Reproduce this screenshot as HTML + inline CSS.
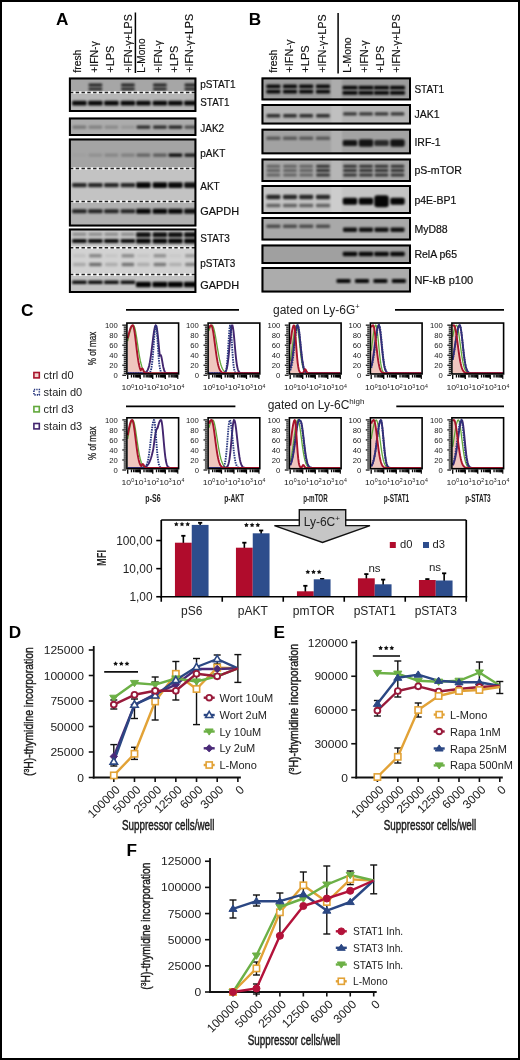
<!DOCTYPE html>
<html><head><meta charset="utf-8"><style>
html,body{margin:0;padding:0;background:#fff;width:520px;height:1060px;overflow:hidden}
svg{display:block;will-change:transform}
text{font-family:"Liberation Sans", sans-serif}
</style></head><body>
<svg width="520" height="1060" viewBox="0 0 520 1060">
<defs><clipPath id="cA"><rect x="69" y="70" width="126" height="230"/></clipPath><clipPath id="cB"><rect x="262" y="70" width="148.5" height="230"/></clipPath><filter id="bl" x="-50%" y="-100%" width="200%" height="300%"><feGaussianBlur stdDeviation="0.85"/></filter>
<filter id="bl2" x="-50%" y="-100%" width="200%" height="300%"><feGaussianBlur stdDeviation="1.2"/></filter></defs>
<rect width="520" height="1060" fill="#fff"/>
<rect x="1.00" y="1.00" width="518.00" height="1058.00" fill="none" stroke="#000" stroke-width="2" />
<text x="56.00" y="25.40" font-size="17.2" text-anchor="start" font-weight="bold" fill="#000" >A</text>
<text x="248.80" y="25.40" font-size="17.2" text-anchor="start" font-weight="bold" fill="#000" >B</text>
<text x="21.00" y="316.20" font-size="17.2" text-anchor="start" font-weight="bold" fill="#000" >C</text>
<text x="8.80" y="637.90" font-size="17.2" text-anchor="start" font-weight="bold" fill="#000" >D</text>
<text x="273.40" y="638.00" font-size="17.2" text-anchor="start" font-weight="bold" fill="#000" >E</text>
<text x="126.50" y="855.70" font-size="17.2" text-anchor="start" font-weight="bold" fill="#000" >F</text>
<text x="81.20" y="72.70" font-size="10.5" text-anchor="start" fill="#111" textLength="23.10" lengthAdjust="spacingAndGlyphs" transform="rotate(-90 81.20 72.70)" stroke="#111" stroke-width="0.15">fresh</text>
<text x="98.10" y="72.70" font-size="10.5" text-anchor="start" fill="#111" textLength="31.50" lengthAdjust="spacingAndGlyphs" transform="rotate(-90 98.10 72.70)" stroke="#111" stroke-width="0.15">+IFN-&#947;</text>
<text x="114.20" y="72.70" font-size="10.5" text-anchor="start" fill="#111" textLength="26.90" lengthAdjust="spacingAndGlyphs" transform="rotate(-90 114.20 72.70)" stroke="#111" stroke-width="0.15">+LPS</text>
<text x="131.60" y="72.70" font-size="10.5" text-anchor="start" fill="#111" textLength="58.50" lengthAdjust="spacingAndGlyphs" transform="rotate(-90 131.60 72.70)" stroke="#111" stroke-width="0.15">+IFN-&#947;+LPS</text>
<text x="144.80" y="72.70" font-size="10.5" text-anchor="start" fill="#111" textLength="34.30" lengthAdjust="spacingAndGlyphs" transform="rotate(-90 144.80 72.70)" stroke="#111" stroke-width="0.15">L-Mono</text>
<text x="161.60" y="72.70" font-size="10.5" text-anchor="start" fill="#111" textLength="32.20" lengthAdjust="spacingAndGlyphs" transform="rotate(-90 161.60 72.70)" stroke="#111" stroke-width="0.15">+IFN-&#947;</text>
<text x="177.80" y="72.70" font-size="10.5" text-anchor="start" fill="#111" textLength="27.10" lengthAdjust="spacingAndGlyphs" transform="rotate(-90 177.80 72.70)" stroke="#111" stroke-width="0.15">+LPS</text>
<text x="193.30" y="72.70" font-size="10.5" text-anchor="start" fill="#111" textLength="58.80" lengthAdjust="spacingAndGlyphs" transform="rotate(-90 193.30 72.70)" stroke="#111" stroke-width="0.15">+IFN-&#947;+LPS</text>
<line x1="135.40" y1="12.50" x2="135.40" y2="73.00" stroke="#000" stroke-width="1.5" />
<text x="276.90" y="72.70" font-size="10.5" text-anchor="start" fill="#111" textLength="23.10" lengthAdjust="spacingAndGlyphs" transform="rotate(-90 276.90 72.70)" stroke="#111" stroke-width="0.15">fresh</text>
<text x="293.50" y="72.70" font-size="10.5" text-anchor="start" fill="#111" textLength="33.10" lengthAdjust="spacingAndGlyphs" transform="rotate(-90 293.50 72.70)" stroke="#111" stroke-width="0.15">+IFN-&#947;</text>
<text x="308.90" y="72.70" font-size="10.5" text-anchor="start" fill="#111" textLength="27.40" lengthAdjust="spacingAndGlyphs" transform="rotate(-90 308.90 72.70)" stroke="#111" stroke-width="0.15">+LPS</text>
<text x="325.80" y="72.70" font-size="10.5" text-anchor="start" fill="#111" textLength="58.20" lengthAdjust="spacingAndGlyphs" transform="rotate(-90 325.80 72.70)" stroke="#111" stroke-width="0.15">+IFN-&#947;+LPS</text>
<text x="351.20" y="72.70" font-size="10.5" text-anchor="start" fill="#111" textLength="35.40" lengthAdjust="spacingAndGlyphs" transform="rotate(-90 351.20 72.70)" stroke="#111" stroke-width="0.15">L-Mono</text>
<text x="367.60" y="72.70" font-size="10.5" text-anchor="start" fill="#111" textLength="32.20" lengthAdjust="spacingAndGlyphs" transform="rotate(-90 367.60 72.70)" stroke="#111" stroke-width="0.15">+IFN-&#947;</text>
<text x="383.90" y="72.70" font-size="10.5" text-anchor="start" fill="#111" textLength="27.10" lengthAdjust="spacingAndGlyphs" transform="rotate(-90 383.90 72.70)" stroke="#111" stroke-width="0.15">+LPS</text>
<text x="400.40" y="72.70" font-size="10.5" text-anchor="start" fill="#111" textLength="58.50" lengthAdjust="spacingAndGlyphs" transform="rotate(-90 400.40 72.70)" stroke="#111" stroke-width="0.15">+IFN-&#947;+LPS</text>
<line x1="338.10" y1="13.00" x2="338.10" y2="73.50" stroke="#000" stroke-width="1.5" />
<g transform="translate(0.4,0.5)">
<rect x="68.50" y="77.00" width="127.50" height="15.00" fill="#a6a6a6" stroke="none" stroke-width="1" />
<rect x="68.50" y="92.00" width="127.50" height="19.00" fill="#b6b6b6" stroke="none" stroke-width="1" />
<rect clip-path="url(#cA)"  x="71.75" y="100.20" width="14.50" height="4.80" rx="1.20" fill="#000" fill-opacity="0.95" filter="url(#bl)"/>
<rect clip-path="url(#cA)"  x="88.25" y="83.10" width="13.50" height="3.00" rx="0.75" fill="#000" fill-opacity="0.80" filter="url(#bl)"/>
<rect clip-path="url(#cA)"  x="88.25" y="86.90" width="13.50" height="3.00" rx="0.75" fill="#000" fill-opacity="0.75" filter="url(#bl)"/>
<rect clip-path="url(#cA)"  x="87.75" y="100.20" width="14.50" height="4.80" rx="1.20" fill="#000" fill-opacity="0.95" filter="url(#bl)"/>
<rect clip-path="url(#cA)"  x="103.75" y="100.20" width="14.50" height="4.80" rx="1.20" fill="#000" fill-opacity="0.95" filter="url(#bl)"/>
<rect clip-path="url(#cA)"  x="120.75" y="83.10" width="13.50" height="3.00" rx="0.75" fill="#000" fill-opacity="0.80" filter="url(#bl)"/>
<rect clip-path="url(#cA)"  x="120.75" y="86.90" width="13.50" height="3.00" rx="0.75" fill="#000" fill-opacity="0.75" filter="url(#bl)"/>
<rect clip-path="url(#cA)"  x="120.25" y="100.20" width="14.50" height="4.80" rx="1.20" fill="#000" fill-opacity="0.95" filter="url(#bl)"/>
<rect clip-path="url(#cA)"  x="135.75" y="100.20" width="14.50" height="4.80" rx="1.20" fill="#000" fill-opacity="0.95" filter="url(#bl)"/>
<rect clip-path="url(#cA)"  x="152.75" y="83.10" width="13.50" height="3.00" rx="0.75" fill="#000" fill-opacity="0.80" filter="url(#bl)"/>
<rect clip-path="url(#cA)"  x="152.75" y="86.90" width="13.50" height="3.00" rx="0.75" fill="#000" fill-opacity="0.75" filter="url(#bl)"/>
<rect clip-path="url(#cA)"  x="152.25" y="100.20" width="14.50" height="4.80" rx="1.20" fill="#000" fill-opacity="0.95" filter="url(#bl)"/>
<rect clip-path="url(#cA)"  x="167.75" y="100.20" width="14.50" height="4.80" rx="1.20" fill="#000" fill-opacity="0.95" filter="url(#bl)"/>
<rect clip-path="url(#cA)"  x="184.25" y="83.10" width="13.50" height="3.00" rx="0.75" fill="#000" fill-opacity="0.80" filter="url(#bl)"/>
<rect clip-path="url(#cA)"  x="184.25" y="86.90" width="13.50" height="3.00" rx="0.75" fill="#000" fill-opacity="0.75" filter="url(#bl)"/>
<rect clip-path="url(#cA)"  x="183.75" y="100.20" width="14.50" height="4.80" rx="1.20" fill="#000" fill-opacity="0.95" filter="url(#bl)"/>
<line x1="68.50" y1="92.00" x2="196.00" y2="92.00" stroke="#f4f4f4" stroke-width="2.6" />
<line x1="69.50" y1="92.00" x2="196.00" y2="92.00" stroke="#222" stroke-width="1.5" stroke-dasharray="3.4 2.4"/>
<rect x="69.50" y="78.00" width="125.50" height="32.50" fill="none" stroke="#000" stroke-width="2" />
<rect x="68.50" y="117.00" width="127.50" height="18.50" fill="#acacac" stroke="none" stroke-width="1" />
<rect clip-path="url(#cA)"  x="72.25" y="125.00" width="13.50" height="3.20" rx="0.80" fill="#000" fill-opacity="0.30" filter="url(#bl2)"/>
<rect clip-path="url(#cA)"  x="88.25" y="125.00" width="13.50" height="3.20" rx="0.80" fill="#000" fill-opacity="0.25" filter="url(#bl2)"/>
<rect clip-path="url(#cA)"  x="104.25" y="125.00" width="13.50" height="3.20" rx="0.80" fill="#000" fill-opacity="0.20" filter="url(#bl2)"/>
<rect clip-path="url(#cA)"  x="120.75" y="125.00" width="13.50" height="3.20" rx="0.80" fill="#000" fill-opacity="0.12" filter="url(#bl2)"/>
<rect clip-path="url(#cA)"  x="136.25" y="125.00" width="13.50" height="3.20" rx="0.80" fill="#000" fill-opacity="0.75" filter="url(#bl)"/>
<rect clip-path="url(#cA)"  x="152.75" y="125.00" width="13.50" height="3.20" rx="0.80" fill="#000" fill-opacity="0.75" filter="url(#bl)"/>
<rect clip-path="url(#cA)"  x="168.25" y="125.00" width="13.50" height="3.20" rx="0.80" fill="#000" fill-opacity="0.80" filter="url(#bl)"/>
<rect clip-path="url(#cA)"  x="184.25" y="125.00" width="13.50" height="3.20" rx="0.80" fill="#000" fill-opacity="0.55" filter="url(#bl)"/>
<rect x="69.50" y="118.00" width="125.50" height="16.50" fill="none" stroke="#000" stroke-width="2" />
<rect x="68.50" y="138.00" width="127.50" height="30.00" fill="#a4a4a4" stroke="none" stroke-width="1" />
<rect x="68.50" y="168.00" width="127.50" height="33.00" fill="#c3c3c3" stroke="none" stroke-width="1" />
<rect x="68.50" y="201.00" width="127.50" height="25.00" fill="#b1b1b1" stroke="none" stroke-width="1" />
<rect clip-path="url(#cA)"  x="72.25" y="153.00" width="13.50" height="3.20" rx="0.80" fill="#000" fill-opacity="0.03" filter="url(#bl2)"/>
<rect clip-path="url(#cA)"  x="71.75" y="182.40" width="14.50" height="4.40" rx="1.10" fill="#000" fill-opacity="0.80" filter="url(#bl)"/>
<rect clip-path="url(#cA)"  x="71.75" y="208.80" width="14.50" height="4.00" rx="1.00" fill="#000" fill-opacity="0.80" filter="url(#bl)"/>
<rect clip-path="url(#cA)"  x="88.25" y="153.00" width="13.50" height="3.20" rx="0.80" fill="#000" fill-opacity="0.12" filter="url(#bl2)"/>
<rect clip-path="url(#cA)"  x="87.75" y="182.40" width="14.50" height="4.40" rx="1.10" fill="#000" fill-opacity="0.80" filter="url(#bl)"/>
<rect clip-path="url(#cA)"  x="87.75" y="208.80" width="14.50" height="4.00" rx="1.00" fill="#000" fill-opacity="0.80" filter="url(#bl)"/>
<rect clip-path="url(#cA)"  x="104.25" y="153.00" width="13.50" height="3.20" rx="0.80" fill="#000" fill-opacity="0.18" filter="url(#bl2)"/>
<rect clip-path="url(#cA)"  x="103.75" y="182.40" width="14.50" height="4.40" rx="1.10" fill="#000" fill-opacity="0.80" filter="url(#bl)"/>
<rect clip-path="url(#cA)"  x="103.75" y="208.80" width="14.50" height="4.00" rx="1.00" fill="#000" fill-opacity="0.80" filter="url(#bl)"/>
<rect clip-path="url(#cA)"  x="120.75" y="153.00" width="13.50" height="3.20" rx="0.80" fill="#000" fill-opacity="0.22" filter="url(#bl2)"/>
<rect clip-path="url(#cA)"  x="120.25" y="182.40" width="14.50" height="4.40" rx="1.10" fill="#000" fill-opacity="0.80" filter="url(#bl)"/>
<rect clip-path="url(#cA)"  x="120.25" y="208.80" width="14.50" height="4.00" rx="1.00" fill="#000" fill-opacity="0.80" filter="url(#bl)"/>
<rect clip-path="url(#cA)"  x="136.25" y="153.00" width="13.50" height="3.20" rx="0.80" fill="#000" fill-opacity="0.40" filter="url(#bl2)"/>
<rect clip-path="url(#cA)"  x="135.75" y="181.80" width="14.50" height="5.60" rx="1.40" fill="#000" fill-opacity="0.97" filter="url(#bl)"/>
<rect clip-path="url(#cA)"  x="135.75" y="208.30" width="14.50" height="5.00" rx="1.25" fill="#000" fill-opacity="0.97" filter="url(#bl)"/>
<rect clip-path="url(#cA)"  x="152.75" y="153.00" width="13.50" height="3.20" rx="0.80" fill="#000" fill-opacity="0.45" filter="url(#bl2)"/>
<rect clip-path="url(#cA)"  x="152.25" y="181.80" width="14.50" height="5.60" rx="1.40" fill="#000" fill-opacity="0.97" filter="url(#bl)"/>
<rect clip-path="url(#cA)"  x="152.25" y="208.30" width="14.50" height="5.00" rx="1.25" fill="#000" fill-opacity="0.97" filter="url(#bl)"/>
<rect clip-path="url(#cA)"  x="168.25" y="153.00" width="13.50" height="3.20" rx="0.80" fill="#000" fill-opacity="0.95" filter="url(#bl)"/>
<rect clip-path="url(#cA)"  x="167.75" y="181.80" width="14.50" height="5.60" rx="1.40" fill="#000" fill-opacity="0.95" filter="url(#bl)"/>
<rect clip-path="url(#cA)"  x="167.75" y="208.30" width="14.50" height="5.00" rx="1.25" fill="#000" fill-opacity="0.95" filter="url(#bl)"/>
<rect clip-path="url(#cA)"  x="184.25" y="153.00" width="13.50" height="3.20" rx="0.80" fill="#000" fill-opacity="0.85" filter="url(#bl)"/>
<rect clip-path="url(#cA)"  x="183.75" y="181.80" width="14.50" height="5.60" rx="1.40" fill="#000" fill-opacity="0.90" filter="url(#bl)"/>
<rect clip-path="url(#cA)"  x="183.75" y="208.30" width="14.50" height="5.00" rx="1.25" fill="#000" fill-opacity="0.90" filter="url(#bl)"/>
<line x1="68.50" y1="168.00" x2="196.00" y2="168.00" stroke="#f4f4f4" stroke-width="2.6" />
<line x1="69.50" y1="168.00" x2="196.00" y2="168.00" stroke="#222" stroke-width="1.5" stroke-dasharray="3.4 2.4"/>
<line x1="68.50" y1="201.00" x2="196.00" y2="201.00" stroke="#f4f4f4" stroke-width="2.6" />
<line x1="69.50" y1="201.00" x2="196.00" y2="201.00" stroke="#222" stroke-width="1.5" stroke-dasharray="3.4 2.4"/>
<rect x="69.50" y="139.00" width="125.50" height="86.00" fill="none" stroke="#000" stroke-width="2" />
<rect x="68.50" y="228.00" width="127.50" height="19.00" fill="#c6c6c6" stroke="none" stroke-width="1" />
<rect x="68.50" y="247.00" width="127.50" height="27.00" fill="#d2d2d2" stroke="none" stroke-width="1" />
<rect x="68.50" y="274.00" width="127.50" height="18.50" fill="#c3c3c3" stroke="none" stroke-width="1" />
<rect clip-path="url(#cA)"  x="72.25" y="232.30" width="13.50" height="3.00" rx="0.75" fill="#000" fill-opacity="0.30" filter="url(#bl2)"/>
<rect clip-path="url(#cA)"  x="71.75" y="238.40" width="14.50" height="4.00" rx="1.00" fill="#000" fill-opacity="0.92" filter="url(#bl)"/>
<rect clip-path="url(#cA)"  x="72.75" y="253.55" width="12.50" height="3.50" rx="0.88" fill="#000" fill-opacity="0.08" filter="url(#bl2)"/>
<rect clip-path="url(#cA)"  x="72.75" y="262.25" width="12.50" height="3.50" rx="0.88" fill="#000" fill-opacity="0.20" filter="url(#bl2)"/>
<rect clip-path="url(#cA)"  x="71.75" y="280.00" width="14.50" height="3.60" rx="0.90" fill="#000" fill-opacity="0.92" filter="url(#bl)"/>
<rect clip-path="url(#cA)"  x="88.25" y="232.30" width="13.50" height="3.00" rx="0.75" fill="#000" fill-opacity="0.30" filter="url(#bl2)"/>
<rect clip-path="url(#cA)"  x="87.75" y="238.40" width="14.50" height="4.00" rx="1.00" fill="#000" fill-opacity="0.92" filter="url(#bl)"/>
<rect clip-path="url(#cA)"  x="88.75" y="253.55" width="12.50" height="3.50" rx="0.88" fill="#000" fill-opacity="0.35" filter="url(#bl2)"/>
<rect clip-path="url(#cA)"  x="88.75" y="262.25" width="12.50" height="3.50" rx="0.88" fill="#000" fill-opacity="0.47" filter="url(#bl2)"/>
<rect clip-path="url(#cA)"  x="87.75" y="280.00" width="14.50" height="3.60" rx="0.90" fill="#000" fill-opacity="0.92" filter="url(#bl)"/>
<rect clip-path="url(#cA)"  x="104.25" y="232.30" width="13.50" height="3.00" rx="0.75" fill="#000" fill-opacity="0.30" filter="url(#bl2)"/>
<rect clip-path="url(#cA)"  x="103.75" y="238.40" width="14.50" height="4.00" rx="1.00" fill="#000" fill-opacity="0.92" filter="url(#bl)"/>
<rect clip-path="url(#cA)"  x="104.75" y="253.55" width="12.50" height="3.50" rx="0.88" fill="#000" fill-opacity="0.06" filter="url(#bl2)"/>
<rect clip-path="url(#cA)"  x="104.75" y="262.25" width="12.50" height="3.50" rx="0.88" fill="#000" fill-opacity="0.18" filter="url(#bl2)"/>
<rect clip-path="url(#cA)"  x="103.75" y="280.00" width="14.50" height="3.60" rx="0.90" fill="#000" fill-opacity="0.92" filter="url(#bl)"/>
<rect clip-path="url(#cA)"  x="120.75" y="232.30" width="13.50" height="3.00" rx="0.75" fill="#000" fill-opacity="0.30" filter="url(#bl2)"/>
<rect clip-path="url(#cA)"  x="120.25" y="238.40" width="14.50" height="4.00" rx="1.00" fill="#000" fill-opacity="0.92" filter="url(#bl)"/>
<rect clip-path="url(#cA)"  x="121.25" y="253.55" width="12.50" height="3.50" rx="0.88" fill="#000" fill-opacity="0.32" filter="url(#bl2)"/>
<rect clip-path="url(#cA)"  x="121.25" y="262.25" width="12.50" height="3.50" rx="0.88" fill="#000" fill-opacity="0.44" filter="url(#bl2)"/>
<rect clip-path="url(#cA)"  x="120.25" y="280.00" width="14.50" height="3.60" rx="0.90" fill="#000" fill-opacity="0.92" filter="url(#bl)"/>
<rect clip-path="url(#cA)"  x="135.75" y="231.70" width="14.50" height="5.00" rx="1.25" fill="#000" fill-opacity="0.92" filter="url(#bl)"/>
<rect clip-path="url(#cA)"  x="135.75" y="237.90" width="14.50" height="5.00" rx="1.25" fill="#000" fill-opacity="0.97" filter="url(#bl)"/>
<rect clip-path="url(#cA)"  x="136.75" y="253.55" width="12.50" height="3.50" rx="0.88" fill="#000" fill-opacity="0.06" filter="url(#bl2)"/>
<rect clip-path="url(#cA)"  x="136.75" y="262.25" width="12.50" height="3.50" rx="0.88" fill="#000" fill-opacity="0.18" filter="url(#bl2)"/>
<rect clip-path="url(#cA)"  x="135.50" y="281.20" width="15.00" height="5.60" rx="1.40" fill="#000" fill-opacity="0.98" filter="url(#bl)"/>
<rect clip-path="url(#cA)"  x="152.25" y="231.70" width="14.50" height="5.00" rx="1.25" fill="#000" fill-opacity="0.92" filter="url(#bl)"/>
<rect clip-path="url(#cA)"  x="152.25" y="237.90" width="14.50" height="5.00" rx="1.25" fill="#000" fill-opacity="0.97" filter="url(#bl)"/>
<rect clip-path="url(#cA)"  x="153.25" y="253.55" width="12.50" height="3.50" rx="0.88" fill="#000" fill-opacity="0.30" filter="url(#bl2)"/>
<rect clip-path="url(#cA)"  x="153.25" y="262.25" width="12.50" height="3.50" rx="0.88" fill="#000" fill-opacity="0.42" filter="url(#bl2)"/>
<rect clip-path="url(#cA)"  x="152.00" y="281.20" width="15.00" height="5.60" rx="1.40" fill="#000" fill-opacity="0.98" filter="url(#bl)"/>
<rect clip-path="url(#cA)"  x="167.75" y="231.70" width="14.50" height="5.00" rx="1.25" fill="#000" fill-opacity="0.92" filter="url(#bl)"/>
<rect clip-path="url(#cA)"  x="167.75" y="237.90" width="14.50" height="5.00" rx="1.25" fill="#000" fill-opacity="0.97" filter="url(#bl)"/>
<rect clip-path="url(#cA)"  x="168.75" y="253.55" width="12.50" height="3.50" rx="0.88" fill="#000" fill-opacity="0.04" filter="url(#bl2)"/>
<rect clip-path="url(#cA)"  x="168.75" y="262.25" width="12.50" height="3.50" rx="0.88" fill="#000" fill-opacity="0.16" filter="url(#bl2)"/>
<rect clip-path="url(#cA)"  x="167.50" y="281.20" width="15.00" height="5.60" rx="1.40" fill="#000" fill-opacity="0.98" filter="url(#bl)"/>
<rect clip-path="url(#cA)"  x="183.75" y="231.70" width="14.50" height="5.00" rx="1.25" fill="#000" fill-opacity="0.92" filter="url(#bl)"/>
<rect clip-path="url(#cA)"  x="183.75" y="237.90" width="14.50" height="5.00" rx="1.25" fill="#000" fill-opacity="0.97" filter="url(#bl)"/>
<rect clip-path="url(#cA)"  x="184.75" y="253.55" width="12.50" height="3.50" rx="0.88" fill="#000" fill-opacity="0.25" filter="url(#bl2)"/>
<rect clip-path="url(#cA)"  x="184.75" y="262.25" width="12.50" height="3.50" rx="0.88" fill="#000" fill-opacity="0.37" filter="url(#bl2)"/>
<rect clip-path="url(#cA)"  x="183.50" y="281.20" width="15.00" height="5.60" rx="1.40" fill="#000" fill-opacity="0.98" filter="url(#bl)"/>
<line x1="68.50" y1="247.20" x2="196.00" y2="247.20" stroke="#f4f4f4" stroke-width="2.6" />
<line x1="69.50" y1="247.20" x2="196.00" y2="247.20" stroke="#222" stroke-width="1.5" stroke-dasharray="3.4 2.4"/>
<line x1="68.50" y1="274.10" x2="196.00" y2="274.10" stroke="#f4f4f4" stroke-width="2.6" />
<line x1="69.50" y1="274.10" x2="196.00" y2="274.10" stroke="#222" stroke-width="1.5" stroke-dasharray="3.4 2.4"/>
<rect x="69.50" y="229.00" width="125.50" height="62.50" fill="none" stroke="#000" stroke-width="2" />
</g>
<text x="200.30" y="88.00" font-size="10.5" text-anchor="start" fill="#111" textLength="35.30" lengthAdjust="spacingAndGlyphs" stroke="#111" stroke-width="0.2">pSTAT1</text>
<text x="200.30" y="106.30" font-size="10.5" text-anchor="start" fill="#111" textLength="29.20" lengthAdjust="spacingAndGlyphs" stroke="#111" stroke-width="0.2">STAT1</text>
<text x="200.30" y="132.10" font-size="10.5" text-anchor="start" fill="#111" textLength="23.84" lengthAdjust="spacingAndGlyphs" stroke="#111" stroke-width="0.2">JAK2</text>
<text x="200.30" y="157.00" font-size="10.5" text-anchor="start" fill="#111" textLength="24.95" lengthAdjust="spacingAndGlyphs" stroke="#111" stroke-width="0.2">pAKT</text>
<text x="200.30" y="190.20" font-size="10.5" text-anchor="start" fill="#111" textLength="19.40" lengthAdjust="spacingAndGlyphs" stroke="#111" stroke-width="0.2">AKT</text>
<text x="200.30" y="215.10" font-size="10.5" text-anchor="start" fill="#111" textLength="38.80" lengthAdjust="spacingAndGlyphs" stroke="#111" stroke-width="0.2">GAPDH</text>
<text x="200.30" y="242.10" font-size="10.5" text-anchor="start" fill="#111" textLength="29.56" lengthAdjust="spacingAndGlyphs" stroke="#111" stroke-width="0.2">STAT3</text>
<text x="200.30" y="267.00" font-size="10.5" text-anchor="start" fill="#111" textLength="35.11" lengthAdjust="spacingAndGlyphs" stroke="#111" stroke-width="0.2">pSTAT3</text>
<text x="200.30" y="288.80" font-size="10.5" text-anchor="start" fill="#111" textLength="38.80" lengthAdjust="spacingAndGlyphs" stroke="#111" stroke-width="0.2">GAPDH</text>
<rect x="261.50" y="77.40" width="149.50" height="23.00" fill="#9c9c9c" stroke="none" stroke-width="1" />
<rect x="331" y="77.40" width="11" height="23.00" fill="#fff" fill-opacity="0.16" filter="url(#bl2)" clip-path="url(#cB)"/>
<rect x="261.50" y="104.00" width="149.50" height="20.50" fill="#b4b4b4" stroke="none" stroke-width="1" />
<rect x="331" y="104.00" width="11" height="20.50" fill="#fff" fill-opacity="0.16" filter="url(#bl2)" clip-path="url(#cB)"/>
<rect x="261.50" y="128.70" width="149.50" height="25.60" fill="#a2a2a2" stroke="none" stroke-width="1" />
<rect x="331" y="128.70" width="11" height="25.60" fill="#fff" fill-opacity="0.16" filter="url(#bl2)" clip-path="url(#cB)"/>
<rect x="261.50" y="158.50" width="149.50" height="23.50" fill="#a8a8a8" stroke="none" stroke-width="1" />
<rect x="331" y="158.50" width="11" height="23.50" fill="#fff" fill-opacity="0.16" filter="url(#bl2)" clip-path="url(#cB)"/>
<rect x="261.50" y="185.00" width="149.50" height="29.00" fill="#c4c4c4" stroke="none" stroke-width="1" />
<rect x="331" y="185.00" width="11" height="29.00" fill="#fff" fill-opacity="0.16" filter="url(#bl2)" clip-path="url(#cB)"/>
<rect x="261.50" y="217.00" width="149.50" height="23.50" fill="#a9a9a9" stroke="none" stroke-width="1" />
<rect x="261.50" y="244.50" width="149.50" height="19.50" fill="#a0a0a0" stroke="none" stroke-width="1" />
<rect x="261.50" y="267.00" width="149.50" height="25.50" fill="#acacac" stroke="none" stroke-width="1" />
<rect clip-path="url(#cB)"  x="266.40" y="84.50" width="14.00" height="3.80" rx="0.95" fill="#000" fill-opacity="0.95" filter="url(#bl)"/>
<rect clip-path="url(#cB)"  x="266.40" y="89.70" width="14.00" height="3.80" rx="0.95" fill="#000" fill-opacity="0.95" filter="url(#bl)"/>
<rect clip-path="url(#cB)"  x="266.65" y="114.10" width="13.50" height="3.40" rx="0.85" fill="#000" fill-opacity="0.75" filter="url(#bl2)"/>
<rect clip-path="url(#cB)"  x="266.40" y="136.50" width="14.00" height="3.60" rx="0.90" fill="#000" fill-opacity="0.45" filter="url(#bl2)"/>
<rect clip-path="url(#cB)"  x="266.65" y="164.80" width="13.50" height="3.00" rx="0.75" fill="#000" fill-opacity="0.42" filter="url(#bl2)"/>
<rect clip-path="url(#cB)"  x="266.65" y="169.10" width="13.50" height="3.00" rx="0.75" fill="#000" fill-opacity="0.42" filter="url(#bl2)"/>
<rect clip-path="url(#cB)"  x="266.65" y="173.50" width="13.50" height="3.00" rx="0.75" fill="#000" fill-opacity="0.42" filter="url(#bl2)"/>
<rect clip-path="url(#cB)"  x="266.40" y="194.80" width="14.00" height="4.40" rx="1.10" fill="#000" fill-opacity="0.80" filter="url(#bl2)"/>
<rect clip-path="url(#cB)"  x="266.40" y="203.80" width="14.00" height="3.40" rx="0.85" fill="#000" fill-opacity="0.50" filter="url(#bl2)"/>
<rect clip-path="url(#cB)"  x="266.40" y="224.50" width="14.00" height="3.40" rx="0.85" fill="#000" fill-opacity="0.55" filter="url(#bl2)"/>
<rect clip-path="url(#cB)"  x="283.00" y="84.50" width="14.00" height="3.80" rx="0.95" fill="#000" fill-opacity="0.95" filter="url(#bl)"/>
<rect clip-path="url(#cB)"  x="283.00" y="89.70" width="14.00" height="3.80" rx="0.95" fill="#000" fill-opacity="0.95" filter="url(#bl)"/>
<rect clip-path="url(#cB)"  x="283.25" y="114.10" width="13.50" height="3.40" rx="0.85" fill="#000" fill-opacity="0.75" filter="url(#bl2)"/>
<rect clip-path="url(#cB)"  x="283.00" y="136.50" width="14.00" height="3.60" rx="0.90" fill="#000" fill-opacity="0.45" filter="url(#bl2)"/>
<rect clip-path="url(#cB)"  x="283.25" y="164.80" width="13.50" height="3.00" rx="0.75" fill="#000" fill-opacity="0.42" filter="url(#bl2)"/>
<rect clip-path="url(#cB)"  x="283.25" y="169.10" width="13.50" height="3.00" rx="0.75" fill="#000" fill-opacity="0.42" filter="url(#bl2)"/>
<rect clip-path="url(#cB)"  x="283.25" y="173.50" width="13.50" height="3.00" rx="0.75" fill="#000" fill-opacity="0.42" filter="url(#bl2)"/>
<rect clip-path="url(#cB)"  x="283.00" y="194.80" width="14.00" height="4.40" rx="1.10" fill="#000" fill-opacity="0.80" filter="url(#bl2)"/>
<rect clip-path="url(#cB)"  x="283.00" y="203.80" width="14.00" height="3.40" rx="0.85" fill="#000" fill-opacity="0.50" filter="url(#bl2)"/>
<rect clip-path="url(#cB)"  x="283.00" y="224.50" width="14.00" height="3.40" rx="0.85" fill="#000" fill-opacity="0.55" filter="url(#bl2)"/>
<rect clip-path="url(#cB)"  x="299.20" y="84.50" width="14.00" height="3.80" rx="0.95" fill="#000" fill-opacity="0.95" filter="url(#bl)"/>
<rect clip-path="url(#cB)"  x="299.20" y="89.70" width="14.00" height="3.80" rx="0.95" fill="#000" fill-opacity="0.95" filter="url(#bl)"/>
<rect clip-path="url(#cB)"  x="299.45" y="114.10" width="13.50" height="3.40" rx="0.85" fill="#000" fill-opacity="0.75" filter="url(#bl2)"/>
<rect clip-path="url(#cB)"  x="299.20" y="136.50" width="14.00" height="3.60" rx="0.90" fill="#000" fill-opacity="0.45" filter="url(#bl2)"/>
<rect clip-path="url(#cB)"  x="299.45" y="164.80" width="13.50" height="3.00" rx="0.75" fill="#000" fill-opacity="0.42" filter="url(#bl2)"/>
<rect clip-path="url(#cB)"  x="299.45" y="169.10" width="13.50" height="3.00" rx="0.75" fill="#000" fill-opacity="0.42" filter="url(#bl2)"/>
<rect clip-path="url(#cB)"  x="299.45" y="173.50" width="13.50" height="3.00" rx="0.75" fill="#000" fill-opacity="0.42" filter="url(#bl2)"/>
<rect clip-path="url(#cB)"  x="299.20" y="194.80" width="14.00" height="4.40" rx="1.10" fill="#000" fill-opacity="0.80" filter="url(#bl2)"/>
<rect clip-path="url(#cB)"  x="299.20" y="203.80" width="14.00" height="3.40" rx="0.85" fill="#000" fill-opacity="0.50" filter="url(#bl2)"/>
<rect clip-path="url(#cB)"  x="299.20" y="224.50" width="14.00" height="3.40" rx="0.85" fill="#000" fill-opacity="0.55" filter="url(#bl2)"/>
<rect clip-path="url(#cB)"  x="316.00" y="84.50" width="14.00" height="3.80" rx="0.95" fill="#000" fill-opacity="0.95" filter="url(#bl)"/>
<rect clip-path="url(#cB)"  x="316.00" y="89.70" width="14.00" height="3.80" rx="0.95" fill="#000" fill-opacity="0.95" filter="url(#bl)"/>
<rect clip-path="url(#cB)"  x="316.25" y="114.10" width="13.50" height="3.40" rx="0.85" fill="#000" fill-opacity="0.75" filter="url(#bl2)"/>
<rect clip-path="url(#cB)"  x="316.00" y="136.50" width="14.00" height="3.60" rx="0.90" fill="#000" fill-opacity="0.45" filter="url(#bl2)"/>
<rect clip-path="url(#cB)"  x="316.25" y="164.80" width="13.50" height="3.00" rx="0.75" fill="#000" fill-opacity="0.70" filter="url(#bl2)"/>
<rect clip-path="url(#cB)"  x="316.25" y="169.10" width="13.50" height="3.00" rx="0.75" fill="#000" fill-opacity="0.70" filter="url(#bl2)"/>
<rect clip-path="url(#cB)"  x="316.25" y="173.50" width="13.50" height="3.00" rx="0.75" fill="#000" fill-opacity="0.70" filter="url(#bl2)"/>
<rect clip-path="url(#cB)"  x="316.00" y="194.80" width="14.00" height="4.40" rx="1.10" fill="#000" fill-opacity="0.80" filter="url(#bl2)"/>
<rect clip-path="url(#cB)"  x="316.00" y="203.80" width="14.00" height="3.40" rx="0.85" fill="#000" fill-opacity="0.50" filter="url(#bl2)"/>
<rect clip-path="url(#cB)"  x="316.00" y="224.50" width="14.00" height="3.40" rx="0.85" fill="#000" fill-opacity="0.55" filter="url(#bl2)"/>
<rect clip-path="url(#cB)"  x="342.50" y="85.80" width="15.00" height="3.80" rx="0.95" fill="#000" fill-opacity="0.95" filter="url(#bl)"/>
<rect clip-path="url(#cB)"  x="342.50" y="91.00" width="15.00" height="3.80" rx="0.95" fill="#000" fill-opacity="0.95" filter="url(#bl)"/>
<rect clip-path="url(#cB)"  x="343.25" y="112.20" width="13.50" height="3.40" rx="0.85" fill="#000" fill-opacity="0.70" filter="url(#bl2)"/>
<rect clip-path="url(#cB)"  x="342.75" y="140.00" width="14.50" height="6.00" rx="1.50" fill="#000" fill-opacity="0.88" filter="url(#bl2)"/>
<rect clip-path="url(#cB)"  x="343.25" y="164.80" width="13.50" height="3.00" rx="0.75" fill="#000" fill-opacity="0.70" filter="url(#bl2)"/>
<rect clip-path="url(#cB)"  x="343.25" y="169.10" width="13.50" height="3.00" rx="0.75" fill="#000" fill-opacity="0.70" filter="url(#bl2)"/>
<rect clip-path="url(#cB)"  x="343.25" y="173.50" width="13.50" height="3.00" rx="0.75" fill="#000" fill-opacity="0.70" filter="url(#bl2)"/>
<rect clip-path="url(#cB)"  x="342.75" y="197.70" width="14.50" height="7.00" rx="1.75" fill="#000" fill-opacity="0.97" filter="url(#bl2)"/>
<rect clip-path="url(#cB)"  x="343.00" y="227.50" width="14.00" height="4.40" rx="1.10" fill="#000" fill-opacity="0.90" filter="url(#bl2)"/>
<rect clip-path="url(#cB)"  x="342.75" y="251.80" width="14.50" height="4.40" rx="1.10" fill="#000" fill-opacity="0.95" filter="url(#bl2)"/>
<rect clip-path="url(#cB)"  x="336.50" y="279.10" width="14.00" height="3.80" rx="0.95" fill="#000" fill-opacity="0.95" filter="url(#bl2)"/>
<rect clip-path="url(#cB)"  x="358.50" y="85.80" width="15.00" height="3.80" rx="0.95" fill="#000" fill-opacity="0.95" filter="url(#bl)"/>
<rect clip-path="url(#cB)"  x="358.50" y="91.00" width="15.00" height="3.80" rx="0.95" fill="#000" fill-opacity="0.95" filter="url(#bl)"/>
<rect clip-path="url(#cB)"  x="359.25" y="112.20" width="13.50" height="3.40" rx="0.85" fill="#000" fill-opacity="0.70" filter="url(#bl2)"/>
<rect clip-path="url(#cB)"  x="358.75" y="139.25" width="14.50" height="7.50" rx="1.88" fill="#000" fill-opacity="0.88" filter="url(#bl2)"/>
<rect clip-path="url(#cB)"  x="359.25" y="164.80" width="13.50" height="3.00" rx="0.75" fill="#000" fill-opacity="0.70" filter="url(#bl2)"/>
<rect clip-path="url(#cB)"  x="359.25" y="169.10" width="13.50" height="3.00" rx="0.75" fill="#000" fill-opacity="0.70" filter="url(#bl2)"/>
<rect clip-path="url(#cB)"  x="359.25" y="173.50" width="13.50" height="3.00" rx="0.75" fill="#000" fill-opacity="0.70" filter="url(#bl2)"/>
<rect clip-path="url(#cB)"  x="358.75" y="197.70" width="14.50" height="7.00" rx="1.75" fill="#000" fill-opacity="0.97" filter="url(#bl2)"/>
<rect clip-path="url(#cB)"  x="359.00" y="227.50" width="14.00" height="4.40" rx="1.10" fill="#000" fill-opacity="0.90" filter="url(#bl2)"/>
<rect clip-path="url(#cB)"  x="358.75" y="251.80" width="14.50" height="4.40" rx="1.10" fill="#000" fill-opacity="0.95" filter="url(#bl2)"/>
<rect clip-path="url(#cB)"  x="355.00" y="279.10" width="14.00" height="3.80" rx="0.95" fill="#000" fill-opacity="0.95" filter="url(#bl2)"/>
<rect clip-path="url(#cB)"  x="374.00" y="85.80" width="15.00" height="3.80" rx="0.95" fill="#000" fill-opacity="0.95" filter="url(#bl)"/>
<rect clip-path="url(#cB)"  x="374.00" y="91.00" width="15.00" height="3.80" rx="0.95" fill="#000" fill-opacity="0.95" filter="url(#bl)"/>
<rect clip-path="url(#cB)"  x="374.75" y="112.20" width="13.50" height="3.40" rx="0.85" fill="#000" fill-opacity="0.70" filter="url(#bl2)"/>
<rect clip-path="url(#cB)"  x="374.25" y="140.00" width="14.50" height="6.00" rx="1.50" fill="#000" fill-opacity="0.75" filter="url(#bl2)"/>
<rect clip-path="url(#cB)"  x="374.75" y="164.80" width="13.50" height="3.00" rx="0.75" fill="#000" fill-opacity="0.70" filter="url(#bl2)"/>
<rect clip-path="url(#cB)"  x="374.75" y="169.10" width="13.50" height="3.00" rx="0.75" fill="#000" fill-opacity="0.70" filter="url(#bl2)"/>
<rect clip-path="url(#cB)"  x="374.75" y="173.50" width="13.50" height="3.00" rx="0.75" fill="#000" fill-opacity="0.70" filter="url(#bl2)"/>
<rect clip-path="url(#cB)"  x="374.25" y="195.20" width="14.50" height="12.00" rx="3.00" fill="#000" fill-opacity="0.97" filter="url(#bl2)"/>
<rect clip-path="url(#cB)"  x="374.50" y="227.50" width="14.00" height="4.40" rx="1.10" fill="#000" fill-opacity="0.90" filter="url(#bl2)"/>
<rect clip-path="url(#cB)"  x="374.25" y="251.80" width="14.50" height="4.40" rx="1.10" fill="#000" fill-opacity="0.95" filter="url(#bl2)"/>
<rect clip-path="url(#cB)"  x="373.40" y="279.10" width="14.00" height="3.80" rx="0.95" fill="#000" fill-opacity="0.95" filter="url(#bl2)"/>
<rect clip-path="url(#cB)"  x="390.00" y="85.80" width="15.00" height="3.80" rx="0.95" fill="#000" fill-opacity="0.95" filter="url(#bl)"/>
<rect clip-path="url(#cB)"  x="390.00" y="91.00" width="15.00" height="3.80" rx="0.95" fill="#000" fill-opacity="0.95" filter="url(#bl)"/>
<rect clip-path="url(#cB)"  x="390.75" y="112.20" width="13.50" height="3.40" rx="0.85" fill="#000" fill-opacity="0.70" filter="url(#bl2)"/>
<rect clip-path="url(#cB)"  x="390.25" y="139.25" width="14.50" height="7.50" rx="1.88" fill="#000" fill-opacity="0.88" filter="url(#bl2)"/>
<rect clip-path="url(#cB)"  x="390.75" y="164.80" width="13.50" height="3.00" rx="0.75" fill="#000" fill-opacity="0.70" filter="url(#bl2)"/>
<rect clip-path="url(#cB)"  x="390.75" y="169.10" width="13.50" height="3.00" rx="0.75" fill="#000" fill-opacity="0.70" filter="url(#bl2)"/>
<rect clip-path="url(#cB)"  x="390.75" y="173.50" width="13.50" height="3.00" rx="0.75" fill="#000" fill-opacity="0.70" filter="url(#bl2)"/>
<rect clip-path="url(#cB)"  x="390.25" y="197.70" width="14.50" height="7.00" rx="1.75" fill="#000" fill-opacity="0.97" filter="url(#bl2)"/>
<rect clip-path="url(#cB)"  x="390.50" y="227.50" width="14.00" height="4.40" rx="1.10" fill="#000" fill-opacity="0.90" filter="url(#bl2)"/>
<rect clip-path="url(#cB)"  x="390.25" y="251.80" width="14.50" height="4.40" rx="1.10" fill="#000" fill-opacity="0.95" filter="url(#bl2)"/>
<rect clip-path="url(#cB)"  x="391.90" y="279.10" width="14.00" height="3.80" rx="0.95" fill="#000" fill-opacity="0.95" filter="url(#bl2)"/>
<rect x="262.50" y="78.40" width="147.50" height="21.00" fill="none" stroke="#000" stroke-width="2" />
<rect x="262.50" y="105.00" width="147.50" height="18.50" fill="none" stroke="#000" stroke-width="2" />
<rect x="262.50" y="129.70" width="147.50" height="23.60" fill="none" stroke="#000" stroke-width="2" />
<rect x="262.50" y="159.50" width="147.50" height="21.50" fill="none" stroke="#000" stroke-width="2" />
<rect x="262.50" y="186.00" width="147.50" height="27.00" fill="none" stroke="#000" stroke-width="2" />
<rect x="262.50" y="218.00" width="147.50" height="21.50" fill="none" stroke="#000" stroke-width="2" />
<rect x="262.50" y="245.50" width="147.50" height="17.50" fill="none" stroke="#000" stroke-width="2" />
<rect x="262.50" y="268.00" width="147.50" height="23.50" fill="none" stroke="#000" stroke-width="2" />
<text x="414.40" y="92.70" font-size="10.5" text-anchor="start" fill="#111" textLength="29.70" lengthAdjust="spacingAndGlyphs" stroke="#111" stroke-width="0.2">STAT1</text>
<text x="414.40" y="117.50" font-size="10.5" text-anchor="start" fill="#111" textLength="25.10" lengthAdjust="spacingAndGlyphs" stroke="#111" stroke-width="0.2">JAK1</text>
<text x="414.40" y="146.00" font-size="10.5" text-anchor="start" fill="#111" textLength="26.25" lengthAdjust="spacingAndGlyphs" stroke="#111" stroke-width="0.2">IRF-1</text>
<text x="414.40" y="174.10" font-size="10.5" text-anchor="start" fill="#111" textLength="47.40" lengthAdjust="spacingAndGlyphs" stroke="#111" stroke-width="0.2">pS-mTOR</text>
<text x="414.40" y="204.10" font-size="10.5" text-anchor="start" fill="#111" textLength="42.03" lengthAdjust="spacingAndGlyphs" stroke="#111" stroke-width="0.2">p4E-BP1</text>
<text x="414.40" y="232.70" font-size="10.5" text-anchor="start" fill="#111" textLength="33.26" lengthAdjust="spacingAndGlyphs" stroke="#111" stroke-width="0.2">MyD88</text>
<text x="414.40" y="257.60" font-size="10.5" text-anchor="start" fill="#111" textLength="42.62" lengthAdjust="spacingAndGlyphs" stroke="#111" stroke-width="0.2">RelA p65</text>
<text x="414.40" y="283.50" font-size="10.5" text-anchor="start" fill="#111" textLength="58.80" lengthAdjust="spacingAndGlyphs" stroke="#111" stroke-width="0.2">NF-kB p100</text>
<polygon points="127.70,373.15 127.70,338.37 128.20,336.19 128.70,334.12 129.20,332.20 129.70,330.46 130.20,328.93 130.71,327.64 131.21,326.61 131.71,325.86 132.21,325.40 132.71,325.25 133.21,325.77 133.71,327.31 134.21,329.75 134.71,332.96 135.21,336.74 135.72,340.88 136.22,345.17 136.72,349.42 137.22,353.46 137.72,357.16 138.22,360.45 138.72,363.29 139.22,365.65 139.72,367.58 140.22,369.09 140.73,370.26 141.23,369.40 141.73,368.57 142.23,368.38 142.73,368.92 143.23,369.96 143.73,371.09 144.23,372.02 144.73,372.62 145.23,372.94 145.74,373.08 146.24,373.13 146.74,373.14 147.24,373.15 147.74,373.15 148.24,373.15 148.74,373.15 149.24,373.15 149.74,373.15 150.24,373.15 150.75,373.15 151.25,373.15 151.75,373.15 152.25,373.15 152.75,373.15 153.25,373.15 153.75,373.15 154.25,373.15 154.75,373.15 155.25,373.15 155.76,373.15 156.26,373.15 156.76,373.15 157.26,373.15 157.76,373.15 158.26,373.15 158.76,373.15 159.26,373.15 159.76,373.15 160.26,373.15 160.77,373.15 161.27,373.15 161.77,373.15 162.27,373.15 162.77,373.15 163.27,373.15 163.77,373.15 164.27,373.15 164.77,373.15 165.27,373.15 165.78,373.15 166.28,373.15 166.78,373.15 167.28,373.15 167.78,373.15 168.28,373.15 168.78,373.15 169.28,373.15 169.78,373.15 170.28,373.15 170.79,373.15 171.29,373.15 171.79,373.15 172.29,373.15 172.79,373.15 173.29,373.15 173.79,373.15 174.29,373.15 174.79,373.15 175.29,373.15 175.80,373.15 176.30,373.15 176.80,373.15 177.30,373.15 177.80,373.15 177.80,373.15" fill="#efc6bf" stroke="none"/>
<polyline points="127.70,341.20 128.20,338.93 128.70,336.72 129.20,334.62 129.70,332.67 130.20,330.88 130.71,329.29 131.21,327.94 131.71,326.84 132.21,326.02 132.71,325.49 133.21,325.26 133.71,325.44 134.21,326.25 134.71,327.69 135.21,329.69 135.72,332.17 136.22,335.05 136.72,338.20 137.22,341.54 137.72,344.95 138.22,348.34 138.72,351.62 139.22,354.73 139.72,357.60 140.22,360.20 140.73,362.52 141.23,364.54 141.73,366.28 142.23,367.74 142.73,368.95 143.23,369.93 143.73,370.72 144.23,371.34 144.73,371.82 145.23,372.18 145.74,372.46 146.24,372.66 146.74,372.81 147.24,372.92 147.74,372.99 148.24,373.05 148.74,373.08 149.24,373.11 149.74,373.12 150.24,373.13 150.75,373.14 151.25,373.14 151.75,373.15 152.25,373.15 152.75,373.15 153.25,373.15 153.75,373.15 154.25,373.15 154.75,373.15 155.25,373.15 155.76,373.15 156.26,373.15 156.76,373.15 157.26,373.15 157.76,373.15 158.26,373.15 158.76,373.15 159.26,373.15 159.76,373.15 160.26,373.15 160.77,373.15 161.27,373.15 161.77,373.15 162.27,373.15 162.77,373.15 163.27,373.15 163.77,373.15 164.27,373.15 164.77,373.15 165.27,373.15 165.78,373.15 166.28,373.15 166.78,373.15 167.28,373.15 167.78,373.15 168.28,373.15 168.78,373.15 169.28,373.15 169.78,373.15 170.28,373.15 170.79,373.15 171.29,373.15 171.79,373.15 172.29,373.15 172.79,373.15 173.29,373.15 173.79,373.15 174.29,373.15 174.79,373.15 175.29,373.15 175.80,373.15 176.30,373.15 176.80,373.15 177.30,373.15 177.80,373.15" fill="none" stroke="#62a83c" stroke-width="1.3"/>
<polyline points="127.70,373.15 128.20,373.15 128.70,373.15 129.20,373.15 129.70,373.15 130.20,373.15 130.71,373.15 131.21,373.15 131.71,373.15 132.21,373.15 132.71,373.15 133.21,373.15 133.71,373.15 134.21,373.15 134.71,373.15 135.21,373.15 135.72,373.15 136.22,373.15 136.72,373.15 137.22,373.15 137.72,373.15 138.22,373.15 138.72,373.15 139.22,373.15 139.72,373.15 140.22,373.15 140.73,373.15 141.23,373.14 141.73,373.14 142.23,373.13 142.73,373.11 143.23,373.08 143.73,373.03 144.23,372.96 144.73,372.84 145.23,372.67 145.74,372.42 146.24,372.06 146.74,371.55 147.24,370.85 147.74,369.91 148.24,368.69 148.74,367.12 149.24,365.16 149.74,362.79 150.24,359.98 150.75,356.75 151.25,353.14 151.75,349.23 152.25,345.13 152.75,341.00 153.25,336.99 153.75,333.31 154.25,330.14 154.75,327.66 155.25,326.01 155.76,325.28 156.26,325.69 156.76,327.61 157.26,330.88 157.76,335.18 158.26,340.16 158.76,345.42 159.26,350.59 159.76,355.40 160.26,355.04 160.77,355.11 161.27,356.35 161.77,358.57 162.27,361.38 162.77,364.29 163.27,366.94 163.77,369.10 164.27,370.69 164.77,371.76 165.27,372.41 165.78,372.79 166.28,372.98 166.78,373.08 167.28,373.12 167.78,373.14 168.28,373.15 168.78,373.15 169.28,373.15 169.78,373.15 170.28,373.15 170.79,373.15 171.29,373.15 171.79,373.15 172.29,373.15 172.79,373.15 173.29,373.15 173.79,373.15 174.29,373.15 174.79,373.15 175.29,373.15 175.80,373.15 176.30,373.15 176.80,373.15 177.30,373.15 177.80,373.15" fill="none" stroke="#43266f" stroke-width="1.9"/>
<polyline points="127.70,373.15 128.20,373.15 128.70,373.15 129.20,373.15 129.70,373.15 130.20,373.15 130.71,373.15 131.21,373.15 131.71,373.15 132.21,373.15 132.71,373.15 133.21,373.15 133.71,373.15 134.21,373.15 134.71,373.15 135.21,373.15 135.72,373.15 136.22,373.15 136.72,373.15 137.22,373.15 137.72,373.15 138.22,373.15 138.72,373.15 139.22,373.15 139.72,373.15 140.22,373.15 140.73,373.15 141.23,373.15 141.73,373.15 142.23,373.15 142.73,373.15 143.23,373.15 143.73,373.15 144.23,373.15 144.73,373.15 145.23,373.15 145.74,373.15 146.24,373.15 146.74,373.15 147.24,373.14 147.74,373.12 148.24,373.07 148.74,372.98 149.24,372.78 149.74,372.40 150.24,371.71 150.75,370.54 151.25,368.67 151.75,365.87 152.25,361.97 152.75,356.90 153.25,350.82 153.75,344.10 154.25,337.39 154.75,331.51 155.25,327.28 155.76,325.33 156.26,326.20 156.76,330.19 157.26,336.54 157.76,344.10 158.26,351.67 158.76,358.37 159.26,363.67 159.76,367.49 160.26,370.00 160.77,371.52 161.27,372.36 161.77,372.80 162.27,373.00 162.77,373.09 163.27,373.13 163.77,373.14 164.27,373.15 164.77,373.15 165.27,373.15 165.78,373.15 166.28,373.15 166.78,373.15 167.28,373.15 167.78,373.15 168.28,373.15 168.78,373.15 169.28,373.15 169.78,373.15 170.28,373.15 170.79,373.15 171.29,373.15 171.79,373.15 172.29,373.15 172.79,373.15 173.29,373.15 173.79,373.15 174.29,373.15 174.79,373.15 175.29,373.15 175.80,373.15 176.30,373.15 176.80,373.15 177.30,373.15 177.80,373.15" fill="none" stroke="#27367e" stroke-width="1.9" stroke-dasharray="1.5 1.0"/>
<polyline points="127.70,338.37 128.20,336.19 128.70,334.12 129.20,332.20 129.70,330.46 130.20,328.93 130.71,327.64 131.21,326.61 131.71,325.86 132.21,325.40 132.71,325.25 133.21,325.77 133.71,327.31 134.21,329.75 134.71,332.96 135.21,336.74 135.72,340.88 136.22,345.17 136.72,349.42 137.22,353.46 137.72,357.16 138.22,360.45 138.72,363.29 139.22,365.65 139.72,367.58 140.22,369.09 140.73,370.26 141.23,369.40 141.73,368.57 142.23,368.38 142.73,368.92 143.23,369.96 143.73,371.09 144.23,372.02 144.73,372.62 145.23,372.94 145.74,373.08 146.24,373.13 146.74,373.14 147.24,373.15 147.74,373.15 148.24,373.15 148.74,373.15 149.24,373.15 149.74,373.15 150.24,373.15 150.75,373.15 151.25,373.15 151.75,373.15 152.25,373.15 152.75,373.15 153.25,373.15 153.75,373.15 154.25,373.15 154.75,373.15 155.25,373.15 155.76,373.15 156.26,373.15 156.76,373.15 157.26,373.15 157.76,373.15 158.26,373.15 158.76,373.15 159.26,373.15 159.76,373.15 160.26,373.15 160.77,373.15 161.27,373.15 161.77,373.15 162.27,373.15 162.77,373.15 163.27,373.15 163.77,373.15 164.27,373.15 164.77,373.15 165.27,373.15 165.78,373.15 166.28,373.15 166.78,373.15 167.28,373.15 167.78,373.15 168.28,373.15 168.78,373.15 169.28,373.15 169.78,373.15 170.28,373.15 170.79,373.15 171.29,373.15 171.79,373.15 172.29,373.15 172.79,373.15 173.29,373.15 173.79,373.15 174.29,373.15 174.79,373.15 175.29,373.15 175.80,373.15 176.30,373.15 176.80,373.15 177.30,373.15 177.80,373.15" fill="none" stroke="#a8142c" stroke-width="1.9" stroke-linejoin="round"/>
<rect x="126.90" y="323.05" width="51.70" height="50.90" fill="none" stroke="#000" stroke-width="1.6" />
<line x1="122.30" y1="325.15" x2="126.10" y2="325.15" stroke="#000" stroke-width="1.2" />
<line x1="123.70" y1="327.15" x2="126.10" y2="327.15" stroke="#000" stroke-width="1.2" />
<line x1="123.70" y1="329.16" x2="126.10" y2="329.16" stroke="#000" stroke-width="1.2" />
<line x1="123.70" y1="331.16" x2="126.10" y2="331.16" stroke="#000" stroke-width="1.2" />
<line x1="123.70" y1="333.17" x2="126.10" y2="333.17" stroke="#000" stroke-width="1.2" />
<line x1="122.30" y1="335.17" x2="126.10" y2="335.17" stroke="#000" stroke-width="1.2" />
<line x1="123.70" y1="337.17" x2="126.10" y2="337.17" stroke="#000" stroke-width="1.2" />
<line x1="123.70" y1="339.18" x2="126.10" y2="339.18" stroke="#000" stroke-width="1.2" />
<line x1="123.70" y1="341.18" x2="126.10" y2="341.18" stroke="#000" stroke-width="1.2" />
<line x1="123.70" y1="343.19" x2="126.10" y2="343.19" stroke="#000" stroke-width="1.2" />
<line x1="122.30" y1="345.19" x2="126.10" y2="345.19" stroke="#000" stroke-width="1.2" />
<line x1="123.70" y1="347.19" x2="126.10" y2="347.19" stroke="#000" stroke-width="1.2" />
<line x1="123.70" y1="349.20" x2="126.10" y2="349.20" stroke="#000" stroke-width="1.2" />
<line x1="123.70" y1="351.20" x2="126.10" y2="351.20" stroke="#000" stroke-width="1.2" />
<line x1="123.70" y1="353.21" x2="126.10" y2="353.21" stroke="#000" stroke-width="1.2" />
<line x1="122.30" y1="355.21" x2="126.10" y2="355.21" stroke="#000" stroke-width="1.2" />
<line x1="123.70" y1="357.21" x2="126.10" y2="357.21" stroke="#000" stroke-width="1.2" />
<line x1="123.70" y1="359.22" x2="126.10" y2="359.22" stroke="#000" stroke-width="1.2" />
<line x1="123.70" y1="361.22" x2="126.10" y2="361.22" stroke="#000" stroke-width="1.2" />
<line x1="123.70" y1="363.23" x2="126.10" y2="363.23" stroke="#000" stroke-width="1.2" />
<line x1="122.30" y1="365.23" x2="126.10" y2="365.23" stroke="#000" stroke-width="1.2" />
<line x1="123.70" y1="367.23" x2="126.10" y2="367.23" stroke="#000" stroke-width="1.2" />
<line x1="123.70" y1="369.24" x2="126.10" y2="369.24" stroke="#000" stroke-width="1.2" />
<line x1="123.70" y1="371.24" x2="126.10" y2="371.24" stroke="#000" stroke-width="1.2" />
<line x1="123.70" y1="373.25" x2="126.10" y2="373.25" stroke="#000" stroke-width="1.2" />
<line x1="122.30" y1="375.25" x2="126.10" y2="375.25" stroke="#000" stroke-width="1.2" />
<line x1="127.70" y1="374.75" x2="127.70" y2="378.95" stroke="#000" stroke-width="1.3" />
<line x1="131.47" y1="374.75" x2="131.47" y2="377.55" stroke="#000" stroke-width="1.3" />
<line x1="133.68" y1="374.75" x2="133.68" y2="377.55" stroke="#000" stroke-width="1.3" />
<line x1="135.24" y1="374.75" x2="135.24" y2="377.55" stroke="#000" stroke-width="1.3" />
<line x1="136.45" y1="374.75" x2="136.45" y2="377.55" stroke="#000" stroke-width="1.3" />
<line x1="137.45" y1="374.75" x2="137.45" y2="377.55" stroke="#000" stroke-width="1.3" />
<line x1="138.28" y1="374.75" x2="138.28" y2="377.55" stroke="#000" stroke-width="1.3" />
<line x1="139.01" y1="374.75" x2="139.01" y2="377.55" stroke="#000" stroke-width="1.3" />
<line x1="139.65" y1="374.75" x2="139.65" y2="377.55" stroke="#000" stroke-width="1.3" />
<line x1="140.22" y1="374.75" x2="140.22" y2="378.95" stroke="#000" stroke-width="1.3" />
<line x1="144.00" y1="374.75" x2="144.00" y2="377.55" stroke="#000" stroke-width="1.3" />
<line x1="146.20" y1="374.75" x2="146.20" y2="377.55" stroke="#000" stroke-width="1.3" />
<line x1="147.77" y1="374.75" x2="147.77" y2="377.55" stroke="#000" stroke-width="1.3" />
<line x1="148.98" y1="374.75" x2="148.98" y2="377.55" stroke="#000" stroke-width="1.3" />
<line x1="149.97" y1="374.75" x2="149.97" y2="377.55" stroke="#000" stroke-width="1.3" />
<line x1="150.81" y1="374.75" x2="150.81" y2="377.55" stroke="#000" stroke-width="1.3" />
<line x1="151.54" y1="374.75" x2="151.54" y2="377.55" stroke="#000" stroke-width="1.3" />
<line x1="152.18" y1="374.75" x2="152.18" y2="377.55" stroke="#000" stroke-width="1.3" />
<line x1="152.75" y1="374.75" x2="152.75" y2="378.95" stroke="#000" stroke-width="1.3" />
<line x1="156.52" y1="374.75" x2="156.52" y2="377.55" stroke="#000" stroke-width="1.3" />
<line x1="158.73" y1="374.75" x2="158.73" y2="377.55" stroke="#000" stroke-width="1.3" />
<line x1="160.29" y1="374.75" x2="160.29" y2="377.55" stroke="#000" stroke-width="1.3" />
<line x1="161.50" y1="374.75" x2="161.50" y2="377.55" stroke="#000" stroke-width="1.3" />
<line x1="162.50" y1="374.75" x2="162.50" y2="377.55" stroke="#000" stroke-width="1.3" />
<line x1="163.33" y1="374.75" x2="163.33" y2="377.55" stroke="#000" stroke-width="1.3" />
<line x1="164.06" y1="374.75" x2="164.06" y2="377.55" stroke="#000" stroke-width="1.3" />
<line x1="164.70" y1="374.75" x2="164.70" y2="377.55" stroke="#000" stroke-width="1.3" />
<line x1="165.27" y1="374.75" x2="165.27" y2="378.95" stroke="#000" stroke-width="1.3" />
<line x1="169.05" y1="374.75" x2="169.05" y2="377.55" stroke="#000" stroke-width="1.3" />
<line x1="171.25" y1="374.75" x2="171.25" y2="377.55" stroke="#000" stroke-width="1.3" />
<line x1="172.82" y1="374.75" x2="172.82" y2="377.55" stroke="#000" stroke-width="1.3" />
<line x1="174.03" y1="374.75" x2="174.03" y2="377.55" stroke="#000" stroke-width="1.3" />
<line x1="175.02" y1="374.75" x2="175.02" y2="377.55" stroke="#000" stroke-width="1.3" />
<line x1="175.86" y1="374.75" x2="175.86" y2="377.55" stroke="#000" stroke-width="1.3" />
<line x1="176.59" y1="374.75" x2="176.59" y2="377.55" stroke="#000" stroke-width="1.3" />
<line x1="177.23" y1="374.75" x2="177.23" y2="377.55" stroke="#000" stroke-width="1.3" />
<line x1="177.80" y1="374.75" x2="177.80" y2="378.95" stroke="#000" stroke-width="1.1" />
<text x="117.70" y="327.75" font-size="7.8" text-anchor="end" fill="#1a1a1a" textLength="12.81" lengthAdjust="spacingAndGlyphs" >100</text>
<text x="117.70" y="337.77" font-size="7.8" text-anchor="end" fill="#1a1a1a" textLength="8.54" lengthAdjust="spacingAndGlyphs" >80</text>
<text x="117.70" y="347.79" font-size="7.8" text-anchor="end" fill="#1a1a1a" textLength="8.54" lengthAdjust="spacingAndGlyphs" >60</text>
<text x="117.70" y="357.81" font-size="7.8" text-anchor="end" fill="#1a1a1a" textLength="8.54" lengthAdjust="spacingAndGlyphs" >40</text>
<text x="117.70" y="367.83" font-size="7.8" text-anchor="end" fill="#1a1a1a" textLength="8.54" lengthAdjust="spacingAndGlyphs" >20</text>
<text x="117.70" y="377.85" font-size="7.8" text-anchor="end" fill="#1a1a1a" textLength="4.27" lengthAdjust="spacingAndGlyphs" >0</text>
<text x="121.50" y="390.30" font-size="7.7" text-anchor="start" fill="#1a1a1a" textLength="62.80" lengthAdjust="spacingAndGlyphs" >10<tspan dy="-2.6" font-size="4.6">0</tspan><tspan dy="2.6">10</tspan><tspan dy="-2.6" font-size="4.6">1</tspan><tspan dy="2.6">10</tspan><tspan dy="-2.6" font-size="4.6">2</tspan><tspan dy="2.6">10</tspan><tspan dy="-2.6" font-size="4.6">3</tspan><tspan dy="2.6">10</tspan><tspan dy="-2.6" font-size="4.6">4</tspan></text>
<polygon points="208.90,373.15 208.90,328.26 209.40,327.09 209.90,326.20 210.40,325.59 210.90,325.29 211.41,325.36 211.91,326.20 212.41,327.84 212.91,330.19 213.41,333.14 213.91,336.54 214.41,340.25 214.91,344.10 215.41,347.95 215.91,351.67 216.41,355.17 216.92,358.37 217.42,361.21 217.92,363.67 218.42,365.76 218.92,367.49 219.42,368.89 219.92,370.00 220.42,370.86 220.92,371.52 221.43,372.01 221.93,372.36 222.43,372.62 222.93,372.80 223.43,372.92 223.93,373.00 224.43,373.06 224.93,373.09 225.43,373.11 225.93,373.13 226.44,373.14 226.94,373.14 227.44,373.15 227.94,373.15 228.44,373.15 228.94,373.15 229.44,373.15 229.94,373.15 230.44,373.15 230.94,373.15 231.44,373.15 231.95,373.15 232.45,373.15 232.95,373.15 233.45,373.15 233.95,373.15 234.45,373.15 234.95,373.15 235.45,373.15 235.95,373.15 236.46,373.15 236.96,373.15 237.46,373.15 237.96,373.15 238.46,373.15 238.96,373.15 239.46,373.15 239.96,373.15 240.46,373.15 240.96,373.15 241.47,373.15 241.97,373.15 242.47,373.15 242.97,373.15 243.47,373.15 243.97,373.15 244.47,373.15 244.97,373.15 245.47,373.15 245.97,373.15 246.47,373.15 246.98,373.15 247.48,373.15 247.98,373.15 248.48,373.15 248.98,373.15 249.48,373.15 249.98,373.15 250.48,373.15 250.98,373.15 251.49,373.15 251.99,373.15 252.49,373.15 252.99,373.15 253.49,373.15 253.99,373.15 254.49,373.15 254.99,373.15 255.49,373.15 255.99,373.15 256.50,373.15 257.00,373.15 257.50,373.15 258.00,373.15 258.50,373.15 259.00,373.15 259.00,373.15" fill="#efc6bf" stroke="none"/>
<polyline points="208.90,330.88 209.40,329.29 209.90,327.94 210.40,326.84 210.90,326.02 211.41,325.49 211.91,325.26 212.41,325.40 212.91,326.06 213.41,327.22 213.91,328.84 214.41,330.88 214.91,333.27 215.41,335.94 215.91,338.81 216.41,341.81 216.92,344.86 217.42,347.90 217.92,350.86 218.42,353.69 218.92,356.34 219.42,358.80 219.92,361.03 220.42,363.03 220.92,364.79 221.43,366.32 221.93,367.63 222.43,368.74 222.93,369.67 223.43,370.43 223.93,371.05 224.43,371.54 224.93,371.93 225.43,372.24 225.93,372.48 226.44,372.66 226.94,372.79 227.44,372.90 227.94,372.97 228.44,373.02 228.94,373.06 229.44,373.09 229.94,373.11 230.44,373.12 230.94,373.13 231.44,373.14 231.95,373.14 232.45,373.15 232.95,373.15 233.45,373.15 233.95,373.15 234.45,373.15 234.95,373.15 235.45,373.15 235.95,373.15 236.46,373.15 236.96,373.15 237.46,373.15 237.96,373.15 238.46,373.15 238.96,373.15 239.46,373.15 239.96,373.15 240.46,373.15 240.96,373.15 241.47,373.15 241.97,373.15 242.47,373.15 242.97,373.15 243.47,373.15 243.97,373.15 244.47,373.15 244.97,373.15 245.47,373.15 245.97,373.15 246.47,373.15 246.98,373.15 247.48,373.15 247.98,373.15 248.48,373.15 248.98,373.15 249.48,373.15 249.98,373.15 250.48,373.15 250.98,373.15 251.49,373.15 251.99,373.15 252.49,373.15 252.99,373.15 253.49,373.15 253.99,373.15 254.49,373.15 254.99,373.15 255.49,373.15 255.99,373.15 256.50,373.15 257.00,373.15 257.50,373.15 258.00,373.15 258.50,373.15 259.00,373.15" fill="none" stroke="#62a83c" stroke-width="1.3"/>
<polyline points="208.90,373.15 209.40,373.15 209.90,373.15 210.40,373.15 210.90,373.15 211.41,373.15 211.91,373.15 212.41,373.15 212.91,373.15 213.41,373.15 213.91,373.15 214.41,373.15 214.91,373.15 215.41,373.15 215.91,373.15 216.41,373.15 216.92,373.15 217.42,373.15 217.92,373.15 218.42,373.15 218.92,373.15 219.42,373.15 219.92,373.15 220.42,373.15 220.92,373.15 221.43,373.15 221.93,373.14 222.43,373.13 222.93,373.10 223.43,373.05 223.93,372.94 224.43,372.76 224.93,372.44 225.43,371.90 225.93,371.05 226.44,369.75 226.94,367.87 227.44,365.27 227.94,361.86 228.44,357.60 228.94,352.57 229.44,346.99 229.94,341.20 230.44,335.66 230.94,330.88 231.44,327.36 231.95,325.49 232.45,325.49 232.95,327.36 233.45,330.88 233.95,335.66 234.45,341.20 234.95,346.99 235.45,352.57 235.95,357.60 236.46,361.86 236.96,365.27 237.46,367.87 237.96,369.75 238.46,371.05 238.96,371.90 239.46,372.44 239.96,372.76 240.46,372.94 240.96,373.05 241.47,373.10 241.97,373.13 242.47,373.14 242.97,373.15 243.47,373.15 243.97,373.15 244.47,373.15 244.97,373.15 245.47,373.15 245.97,373.15 246.47,373.15 246.98,373.15 247.48,373.15 247.98,373.15 248.48,373.15 248.98,373.15 249.48,373.15 249.98,373.15 250.48,373.15 250.98,373.15 251.49,373.15 251.99,373.15 252.49,373.15 252.99,373.15 253.49,373.15 253.99,373.15 254.49,373.15 254.99,373.15 255.49,373.15 255.99,373.15 256.50,373.15 257.00,373.15 257.50,373.15 258.00,373.15 258.50,373.15 259.00,373.15" fill="none" stroke="#43266f" stroke-width="1.9"/>
<polyline points="208.90,373.15 209.40,373.15 209.90,373.15 210.40,373.15 210.90,373.15 211.41,373.15 211.91,373.15 212.41,373.15 212.91,373.15 213.41,373.15 213.91,373.15 214.41,373.15 214.91,373.15 215.41,373.15 215.91,373.15 216.41,373.15 216.92,373.15 217.42,373.15 217.92,373.15 218.42,373.15 218.92,373.15 219.42,373.15 219.92,373.15 220.42,373.15 220.92,373.15 221.43,373.15 221.93,373.15 222.43,373.15 222.93,373.14 223.43,373.12 223.93,373.07 224.43,372.93 224.93,372.62 225.43,371.95 225.93,370.64 226.44,368.33 226.94,364.61 227.44,359.21 227.94,352.19 228.44,344.10 228.94,336.04 229.44,329.45 229.94,325.74 230.44,325.74 230.94,329.45 231.44,336.04 231.95,344.10 232.45,352.19 232.95,359.21 233.45,364.61 233.95,368.33 234.45,370.64 234.95,371.95 235.45,372.62 235.95,372.93 236.46,373.07 236.96,373.12 237.46,373.14 237.96,373.15 238.46,373.15 238.96,373.15 239.46,373.15 239.96,373.15 240.46,373.15 240.96,373.15 241.47,373.15 241.97,373.15 242.47,373.15 242.97,373.15 243.47,373.15 243.97,373.15 244.47,373.15 244.97,373.15 245.47,373.15 245.97,373.15 246.47,373.15 246.98,373.15 247.48,373.15 247.98,373.15 248.48,373.15 248.98,373.15 249.48,373.15 249.98,373.15 250.48,373.15 250.98,373.15 251.49,373.15 251.99,373.15 252.49,373.15 252.99,373.15 253.49,373.15 253.99,373.15 254.49,373.15 254.99,373.15 255.49,373.15 255.99,373.15 256.50,373.15 257.00,373.15 257.50,373.15 258.00,373.15 258.50,373.15 259.00,373.15" fill="none" stroke="#27367e" stroke-width="1.9" stroke-dasharray="1.5 1.0"/>
<polyline points="208.90,328.26 209.40,327.09 209.90,326.20 210.40,325.59 210.90,325.29 211.41,325.36 211.91,326.20 212.41,327.84 212.91,330.19 213.41,333.14 213.91,336.54 214.41,340.25 214.91,344.10 215.41,347.95 215.91,351.67 216.41,355.17 216.92,358.37 217.42,361.21 217.92,363.67 218.42,365.76 218.92,367.49 219.42,368.89 219.92,370.00 220.42,370.86 220.92,371.52 221.43,372.01 221.93,372.36 222.43,372.62 222.93,372.80 223.43,372.92 223.93,373.00 224.43,373.06 224.93,373.09 225.43,373.11 225.93,373.13 226.44,373.14 226.94,373.14 227.44,373.15 227.94,373.15 228.44,373.15 228.94,373.15 229.44,373.15 229.94,373.15 230.44,373.15 230.94,373.15 231.44,373.15 231.95,373.15 232.45,373.15 232.95,373.15 233.45,373.15 233.95,373.15 234.45,373.15 234.95,373.15 235.45,373.15 235.95,373.15 236.46,373.15 236.96,373.15 237.46,373.15 237.96,373.15 238.46,373.15 238.96,373.15 239.46,373.15 239.96,373.15 240.46,373.15 240.96,373.15 241.47,373.15 241.97,373.15 242.47,373.15 242.97,373.15 243.47,373.15 243.97,373.15 244.47,373.15 244.97,373.15 245.47,373.15 245.97,373.15 246.47,373.15 246.98,373.15 247.48,373.15 247.98,373.15 248.48,373.15 248.98,373.15 249.48,373.15 249.98,373.15 250.48,373.15 250.98,373.15 251.49,373.15 251.99,373.15 252.49,373.15 252.99,373.15 253.49,373.15 253.99,373.15 254.49,373.15 254.99,373.15 255.49,373.15 255.99,373.15 256.50,373.15 257.00,373.15 257.50,373.15 258.00,373.15 258.50,373.15 259.00,373.15" fill="none" stroke="#a8142c" stroke-width="1.9" stroke-linejoin="round"/>
<rect x="208.10" y="323.05" width="51.70" height="50.90" fill="none" stroke="#000" stroke-width="1.6" />
<line x1="203.50" y1="325.15" x2="207.30" y2="325.15" stroke="#000" stroke-width="1.2" />
<line x1="204.90" y1="327.15" x2="207.30" y2="327.15" stroke="#000" stroke-width="1.2" />
<line x1="204.90" y1="329.16" x2="207.30" y2="329.16" stroke="#000" stroke-width="1.2" />
<line x1="204.90" y1="331.16" x2="207.30" y2="331.16" stroke="#000" stroke-width="1.2" />
<line x1="204.90" y1="333.17" x2="207.30" y2="333.17" stroke="#000" stroke-width="1.2" />
<line x1="203.50" y1="335.17" x2="207.30" y2="335.17" stroke="#000" stroke-width="1.2" />
<line x1="204.90" y1="337.17" x2="207.30" y2="337.17" stroke="#000" stroke-width="1.2" />
<line x1="204.90" y1="339.18" x2="207.30" y2="339.18" stroke="#000" stroke-width="1.2" />
<line x1="204.90" y1="341.18" x2="207.30" y2="341.18" stroke="#000" stroke-width="1.2" />
<line x1="204.90" y1="343.19" x2="207.30" y2="343.19" stroke="#000" stroke-width="1.2" />
<line x1="203.50" y1="345.19" x2="207.30" y2="345.19" stroke="#000" stroke-width="1.2" />
<line x1="204.90" y1="347.19" x2="207.30" y2="347.19" stroke="#000" stroke-width="1.2" />
<line x1="204.90" y1="349.20" x2="207.30" y2="349.20" stroke="#000" stroke-width="1.2" />
<line x1="204.90" y1="351.20" x2="207.30" y2="351.20" stroke="#000" stroke-width="1.2" />
<line x1="204.90" y1="353.21" x2="207.30" y2="353.21" stroke="#000" stroke-width="1.2" />
<line x1="203.50" y1="355.21" x2="207.30" y2="355.21" stroke="#000" stroke-width="1.2" />
<line x1="204.90" y1="357.21" x2="207.30" y2="357.21" stroke="#000" stroke-width="1.2" />
<line x1="204.90" y1="359.22" x2="207.30" y2="359.22" stroke="#000" stroke-width="1.2" />
<line x1="204.90" y1="361.22" x2="207.30" y2="361.22" stroke="#000" stroke-width="1.2" />
<line x1="204.90" y1="363.23" x2="207.30" y2="363.23" stroke="#000" stroke-width="1.2" />
<line x1="203.50" y1="365.23" x2="207.30" y2="365.23" stroke="#000" stroke-width="1.2" />
<line x1="204.90" y1="367.23" x2="207.30" y2="367.23" stroke="#000" stroke-width="1.2" />
<line x1="204.90" y1="369.24" x2="207.30" y2="369.24" stroke="#000" stroke-width="1.2" />
<line x1="204.90" y1="371.24" x2="207.30" y2="371.24" stroke="#000" stroke-width="1.2" />
<line x1="204.90" y1="373.25" x2="207.30" y2="373.25" stroke="#000" stroke-width="1.2" />
<line x1="203.50" y1="375.25" x2="207.30" y2="375.25" stroke="#000" stroke-width="1.2" />
<line x1="208.90" y1="374.75" x2="208.90" y2="378.95" stroke="#000" stroke-width="1.3" />
<line x1="212.67" y1="374.75" x2="212.67" y2="377.55" stroke="#000" stroke-width="1.3" />
<line x1="214.88" y1="374.75" x2="214.88" y2="377.55" stroke="#000" stroke-width="1.3" />
<line x1="216.44" y1="374.75" x2="216.44" y2="377.55" stroke="#000" stroke-width="1.3" />
<line x1="217.65" y1="374.75" x2="217.65" y2="377.55" stroke="#000" stroke-width="1.3" />
<line x1="218.65" y1="374.75" x2="218.65" y2="377.55" stroke="#000" stroke-width="1.3" />
<line x1="219.48" y1="374.75" x2="219.48" y2="377.55" stroke="#000" stroke-width="1.3" />
<line x1="220.21" y1="374.75" x2="220.21" y2="377.55" stroke="#000" stroke-width="1.3" />
<line x1="220.85" y1="374.75" x2="220.85" y2="377.55" stroke="#000" stroke-width="1.3" />
<line x1="221.43" y1="374.75" x2="221.43" y2="378.95" stroke="#000" stroke-width="1.3" />
<line x1="225.20" y1="374.75" x2="225.20" y2="377.55" stroke="#000" stroke-width="1.3" />
<line x1="227.40" y1="374.75" x2="227.40" y2="377.55" stroke="#000" stroke-width="1.3" />
<line x1="228.97" y1="374.75" x2="228.97" y2="377.55" stroke="#000" stroke-width="1.3" />
<line x1="230.18" y1="374.75" x2="230.18" y2="377.55" stroke="#000" stroke-width="1.3" />
<line x1="231.17" y1="374.75" x2="231.17" y2="377.55" stroke="#000" stroke-width="1.3" />
<line x1="232.01" y1="374.75" x2="232.01" y2="377.55" stroke="#000" stroke-width="1.3" />
<line x1="232.74" y1="374.75" x2="232.74" y2="377.55" stroke="#000" stroke-width="1.3" />
<line x1="233.38" y1="374.75" x2="233.38" y2="377.55" stroke="#000" stroke-width="1.3" />
<line x1="233.95" y1="374.75" x2="233.95" y2="378.95" stroke="#000" stroke-width="1.3" />
<line x1="237.72" y1="374.75" x2="237.72" y2="377.55" stroke="#000" stroke-width="1.3" />
<line x1="239.93" y1="374.75" x2="239.93" y2="377.55" stroke="#000" stroke-width="1.3" />
<line x1="241.49" y1="374.75" x2="241.49" y2="377.55" stroke="#000" stroke-width="1.3" />
<line x1="242.70" y1="374.75" x2="242.70" y2="377.55" stroke="#000" stroke-width="1.3" />
<line x1="243.70" y1="374.75" x2="243.70" y2="377.55" stroke="#000" stroke-width="1.3" />
<line x1="244.53" y1="374.75" x2="244.53" y2="377.55" stroke="#000" stroke-width="1.3" />
<line x1="245.26" y1="374.75" x2="245.26" y2="377.55" stroke="#000" stroke-width="1.3" />
<line x1="245.90" y1="374.75" x2="245.90" y2="377.55" stroke="#000" stroke-width="1.3" />
<line x1="246.47" y1="374.75" x2="246.47" y2="378.95" stroke="#000" stroke-width="1.3" />
<line x1="250.25" y1="374.75" x2="250.25" y2="377.55" stroke="#000" stroke-width="1.3" />
<line x1="252.45" y1="374.75" x2="252.45" y2="377.55" stroke="#000" stroke-width="1.3" />
<line x1="254.02" y1="374.75" x2="254.02" y2="377.55" stroke="#000" stroke-width="1.3" />
<line x1="255.23" y1="374.75" x2="255.23" y2="377.55" stroke="#000" stroke-width="1.3" />
<line x1="256.22" y1="374.75" x2="256.22" y2="377.55" stroke="#000" stroke-width="1.3" />
<line x1="257.06" y1="374.75" x2="257.06" y2="377.55" stroke="#000" stroke-width="1.3" />
<line x1="257.79" y1="374.75" x2="257.79" y2="377.55" stroke="#000" stroke-width="1.3" />
<line x1="258.43" y1="374.75" x2="258.43" y2="377.55" stroke="#000" stroke-width="1.3" />
<line x1="259.00" y1="374.75" x2="259.00" y2="378.95" stroke="#000" stroke-width="1.1" />
<text x="198.90" y="327.75" font-size="7.8" text-anchor="end" fill="#1a1a1a" textLength="12.81" lengthAdjust="spacingAndGlyphs" >100</text>
<text x="198.90" y="337.77" font-size="7.8" text-anchor="end" fill="#1a1a1a" textLength="8.54" lengthAdjust="spacingAndGlyphs" >80</text>
<text x="198.90" y="347.79" font-size="7.8" text-anchor="end" fill="#1a1a1a" textLength="8.54" lengthAdjust="spacingAndGlyphs" >60</text>
<text x="198.90" y="357.81" font-size="7.8" text-anchor="end" fill="#1a1a1a" textLength="8.54" lengthAdjust="spacingAndGlyphs" >40</text>
<text x="198.90" y="367.83" font-size="7.8" text-anchor="end" fill="#1a1a1a" textLength="8.54" lengthAdjust="spacingAndGlyphs" >20</text>
<text x="198.90" y="377.85" font-size="7.8" text-anchor="end" fill="#1a1a1a" textLength="4.27" lengthAdjust="spacingAndGlyphs" >0</text>
<text x="202.70" y="390.30" font-size="7.7" text-anchor="start" fill="#1a1a1a" textLength="62.80" lengthAdjust="spacingAndGlyphs" >10<tspan dy="-2.6" font-size="4.6">0</tspan><tspan dy="2.6">10</tspan><tspan dy="-2.6" font-size="4.6">1</tspan><tspan dy="2.6">10</tspan><tspan dy="-2.6" font-size="4.6">2</tspan><tspan dy="2.6">10</tspan><tspan dy="-2.6" font-size="4.6">3</tspan><tspan dy="2.6">10</tspan><tspan dy="-2.6" font-size="4.6">4</tspan></text>
<polygon points="290.20,373.15 290.20,344.10 290.70,340.25 291.20,336.54 291.70,333.14 292.20,330.19 292.71,327.84 293.21,326.20 293.71,325.36 294.21,325.58 294.71,328.14 295.21,332.86 295.71,339.03 296.21,345.80 296.71,352.42 297.21,358.28 297.72,363.06 298.22,366.67 298.72,369.21 299.22,370.89 299.72,371.92 300.22,372.52 300.72,372.84 301.22,373.01 301.72,373.09 302.22,373.11 302.73,372.98 303.23,372.63 303.73,371.91 304.23,370.83 304.73,369.77 305.23,369.32 305.73,369.77 306.23,370.83 306.73,371.91 307.23,372.63 307.74,372.98 308.24,373.11 308.74,373.14 309.24,373.15 309.74,373.15 310.24,373.15 310.74,373.15 311.24,373.15 311.74,373.15 312.24,373.15 312.75,373.15 313.25,373.15 313.75,373.15 314.25,373.15 314.75,373.15 315.25,373.15 315.75,373.15 316.25,373.15 316.75,373.15 317.25,373.15 317.76,373.15 318.26,373.15 318.76,373.15 319.26,373.15 319.76,373.15 320.26,373.15 320.76,373.15 321.26,373.15 321.76,373.15 322.26,373.15 322.77,373.15 323.27,373.15 323.77,373.15 324.27,373.15 324.77,373.15 325.27,373.15 325.77,373.15 326.27,373.15 326.77,373.15 327.27,373.15 327.78,373.15 328.28,373.15 328.78,373.15 329.28,373.15 329.78,373.15 330.28,373.15 330.78,373.15 331.28,373.15 331.78,373.15 332.28,373.15 332.79,373.15 333.29,373.15 333.79,373.15 334.29,373.15 334.79,373.15 335.29,373.15 335.79,373.15 336.29,373.15 336.79,373.15 337.29,373.15 337.80,373.15 338.30,373.15 338.80,373.15 339.30,373.15 339.80,373.15 340.30,373.15 340.30,373.15" fill="#efc6bf" stroke="none"/>
<polyline points="290.20,361.21 290.70,358.37 291.20,355.17 291.70,351.67 292.20,347.95 292.71,344.10 293.21,340.25 293.71,336.54 294.21,333.14 294.71,330.19 295.21,327.84 295.71,326.20 296.21,325.36 296.71,325.40 297.21,326.61 297.72,328.93 298.22,332.20 298.72,336.19 299.22,340.63 299.72,345.26 300.22,349.83 300.72,354.15 301.22,358.06 301.72,361.47 302.22,364.34 302.73,366.67 303.23,368.50 303.73,369.90 304.23,370.94 304.73,371.68 305.23,372.20 305.73,372.55 306.23,372.78 306.73,372.93 307.23,373.02 307.74,373.08 308.24,373.11 308.74,373.13 309.24,373.14 309.74,373.14 310.24,373.15 310.74,373.15 311.24,373.15 311.74,373.15 312.24,373.15 312.75,373.15 313.25,373.15 313.75,373.15 314.25,373.15 314.75,373.15 315.25,373.15 315.75,373.15 316.25,373.15 316.75,373.15 317.25,373.15 317.76,373.15 318.26,373.15 318.76,373.15 319.26,373.15 319.76,373.15 320.26,373.15 320.76,373.15 321.26,373.15 321.76,373.15 322.26,373.15 322.77,373.15 323.27,373.15 323.77,373.15 324.27,373.15 324.77,373.15 325.27,373.15 325.77,373.15 326.27,373.15 326.77,373.15 327.27,373.15 327.78,373.15 328.28,373.15 328.78,373.15 329.28,373.15 329.78,373.15 330.28,373.15 330.78,373.15 331.28,373.15 331.78,373.15 332.28,373.15 332.79,373.15 333.29,373.15 333.79,373.15 334.29,373.15 334.79,373.15 335.29,373.15 335.79,373.15 336.29,373.15 336.79,373.15 337.29,373.15 337.80,373.15 338.30,373.15 338.80,373.15 339.30,373.15 339.80,373.15 340.30,373.15" fill="none" stroke="#62a83c" stroke-width="1.3"/>
<polyline points="290.20,368.38 290.70,366.67 291.20,364.53 291.70,361.93 292.20,358.86 292.71,355.36 293.21,351.47 293.71,347.31 294.21,343.02 294.71,338.78 295.21,334.79 295.71,331.28 296.21,328.43 296.71,326.42 297.21,325.38 297.72,325.42 298.22,326.72 298.72,329.23 299.22,332.74 299.72,336.99 300.22,341.68 300.72,346.51 301.22,351.22 301.72,355.59 302.22,359.47 302.73,362.79 303.23,365.52 303.73,367.68 304.23,369.34 304.73,370.57 305.23,371.45 305.73,372.06 306.23,372.47 306.73,372.74 307.23,372.91 307.74,373.01 308.24,373.07 308.74,373.11 309.24,373.13 309.74,373.14 310.24,373.14 310.74,373.15 311.24,373.15 311.74,373.15 312.24,373.15 312.75,373.15 313.25,373.15 313.75,373.15 314.25,373.15 314.75,373.15 315.25,373.15 315.75,373.15 316.25,373.15 316.75,373.15 317.25,373.15 317.76,373.15 318.26,373.15 318.76,373.15 319.26,373.15 319.76,373.15 320.26,373.15 320.76,373.15 321.26,373.15 321.76,373.15 322.26,373.15 322.77,373.15 323.27,373.15 323.77,373.15 324.27,373.15 324.77,373.15 325.27,373.15 325.77,373.15 326.27,373.15 326.77,373.15 327.27,373.15 327.78,373.15 328.28,373.15 328.78,373.15 329.28,373.15 329.78,373.15 330.28,373.15 330.78,373.15 331.28,373.15 331.78,373.15 332.28,373.15 332.79,373.15 333.29,373.15 333.79,373.15 334.29,373.15 334.79,373.15 335.29,373.15 335.79,373.15 336.29,373.15 336.79,373.15 337.29,373.15 337.80,373.15 338.30,373.15 338.80,373.15 339.30,373.15 339.80,373.15 340.30,373.15" fill="none" stroke="#43266f" stroke-width="1.9"/>
<polyline points="290.20,370.46 290.70,369.25 291.20,367.64 291.70,365.57 292.20,362.97 292.71,359.83 293.21,356.17 293.71,352.04 294.21,347.57 294.71,342.94 295.21,338.37 295.71,334.12 296.21,330.46 296.71,327.64 297.21,325.86 297.72,325.25 298.22,326.04 298.72,328.31 299.22,331.87 299.72,336.38 300.22,341.46 300.72,346.73 301.22,351.84 301.72,356.52 302.22,360.59 302.73,363.98 303.23,366.67 303.73,368.72 304.23,370.22 304.73,371.27 305.23,371.99 305.73,372.45 306.23,372.75 306.73,372.92 307.23,373.03 307.74,373.09 308.24,373.12 308.74,373.13 309.24,373.14 309.74,373.15 310.24,373.15 310.74,373.15 311.24,373.15 311.74,373.15 312.24,373.15 312.75,373.15 313.25,373.15 313.75,373.15 314.25,373.15 314.75,373.15 315.25,373.15 315.75,373.15 316.25,373.15 316.75,373.15 317.25,373.15 317.76,373.15 318.26,373.15 318.76,373.15 319.26,373.15 319.76,373.15 320.26,373.15 320.76,373.15 321.26,373.15 321.76,373.15 322.26,373.15 322.77,373.15 323.27,373.15 323.77,373.15 324.27,373.15 324.77,373.15 325.27,373.15 325.77,373.15 326.27,373.15 326.77,373.15 327.27,373.15 327.78,373.15 328.28,373.15 328.78,373.15 329.28,373.15 329.78,373.15 330.28,373.15 330.78,373.15 331.28,373.15 331.78,373.15 332.28,373.15 332.79,373.15 333.29,373.15 333.79,373.15 334.29,373.15 334.79,373.15 335.29,373.15 335.79,373.15 336.29,373.15 336.79,373.15 337.29,373.15 337.80,373.15 338.30,373.15 338.80,373.15 339.30,373.15 339.80,373.15 340.30,373.15" fill="none" stroke="#27367e" stroke-width="1.9" stroke-dasharray="1.5 1.0"/>
<polyline points="290.20,344.10 290.70,340.25 291.20,336.54 291.70,333.14 292.20,330.19 292.71,327.84 293.21,326.20 293.71,325.36 294.21,325.58 294.71,328.14 295.21,332.86 295.71,339.03 296.21,345.80 296.71,352.42 297.21,358.28 297.72,363.06 298.22,366.67 298.72,369.21 299.22,370.89 299.72,371.92 300.22,372.52 300.72,372.84 301.22,373.01 301.72,373.09 302.22,373.11 302.73,372.98 303.23,372.63 303.73,371.91 304.23,370.83 304.73,369.77 305.23,369.32 305.73,369.77 306.23,370.83 306.73,371.91 307.23,372.63 307.74,372.98 308.24,373.11 308.74,373.14 309.24,373.15 309.74,373.15 310.24,373.15 310.74,373.15 311.24,373.15 311.74,373.15 312.24,373.15 312.75,373.15 313.25,373.15 313.75,373.15 314.25,373.15 314.75,373.15 315.25,373.15 315.75,373.15 316.25,373.15 316.75,373.15 317.25,373.15 317.76,373.15 318.26,373.15 318.76,373.15 319.26,373.15 319.76,373.15 320.26,373.15 320.76,373.15 321.26,373.15 321.76,373.15 322.26,373.15 322.77,373.15 323.27,373.15 323.77,373.15 324.27,373.15 324.77,373.15 325.27,373.15 325.77,373.15 326.27,373.15 326.77,373.15 327.27,373.15 327.78,373.15 328.28,373.15 328.78,373.15 329.28,373.15 329.78,373.15 330.28,373.15 330.78,373.15 331.28,373.15 331.78,373.15 332.28,373.15 332.79,373.15 333.29,373.15 333.79,373.15 334.29,373.15 334.79,373.15 335.29,373.15 335.79,373.15 336.29,373.15 336.79,373.15 337.29,373.15 337.80,373.15 338.30,373.15 338.80,373.15 339.30,373.15 339.80,373.15 340.30,373.15" fill="none" stroke="#a8142c" stroke-width="1.9" stroke-linejoin="round"/>
<rect x="289.40" y="323.05" width="51.70" height="50.90" fill="none" stroke="#000" stroke-width="1.6" />
<line x1="284.80" y1="325.15" x2="288.60" y2="325.15" stroke="#000" stroke-width="1.2" />
<line x1="286.20" y1="327.15" x2="288.60" y2="327.15" stroke="#000" stroke-width="1.2" />
<line x1="286.20" y1="329.16" x2="288.60" y2="329.16" stroke="#000" stroke-width="1.2" />
<line x1="286.20" y1="331.16" x2="288.60" y2="331.16" stroke="#000" stroke-width="1.2" />
<line x1="286.20" y1="333.17" x2="288.60" y2="333.17" stroke="#000" stroke-width="1.2" />
<line x1="284.80" y1="335.17" x2="288.60" y2="335.17" stroke="#000" stroke-width="1.2" />
<line x1="286.20" y1="337.17" x2="288.60" y2="337.17" stroke="#000" stroke-width="1.2" />
<line x1="286.20" y1="339.18" x2="288.60" y2="339.18" stroke="#000" stroke-width="1.2" />
<line x1="286.20" y1="341.18" x2="288.60" y2="341.18" stroke="#000" stroke-width="1.2" />
<line x1="286.20" y1="343.19" x2="288.60" y2="343.19" stroke="#000" stroke-width="1.2" />
<line x1="284.80" y1="345.19" x2="288.60" y2="345.19" stroke="#000" stroke-width="1.2" />
<line x1="286.20" y1="347.19" x2="288.60" y2="347.19" stroke="#000" stroke-width="1.2" />
<line x1="286.20" y1="349.20" x2="288.60" y2="349.20" stroke="#000" stroke-width="1.2" />
<line x1="286.20" y1="351.20" x2="288.60" y2="351.20" stroke="#000" stroke-width="1.2" />
<line x1="286.20" y1="353.21" x2="288.60" y2="353.21" stroke="#000" stroke-width="1.2" />
<line x1="284.80" y1="355.21" x2="288.60" y2="355.21" stroke="#000" stroke-width="1.2" />
<line x1="286.20" y1="357.21" x2="288.60" y2="357.21" stroke="#000" stroke-width="1.2" />
<line x1="286.20" y1="359.22" x2="288.60" y2="359.22" stroke="#000" stroke-width="1.2" />
<line x1="286.20" y1="361.22" x2="288.60" y2="361.22" stroke="#000" stroke-width="1.2" />
<line x1="286.20" y1="363.23" x2="288.60" y2="363.23" stroke="#000" stroke-width="1.2" />
<line x1="284.80" y1="365.23" x2="288.60" y2="365.23" stroke="#000" stroke-width="1.2" />
<line x1="286.20" y1="367.23" x2="288.60" y2="367.23" stroke="#000" stroke-width="1.2" />
<line x1="286.20" y1="369.24" x2="288.60" y2="369.24" stroke="#000" stroke-width="1.2" />
<line x1="286.20" y1="371.24" x2="288.60" y2="371.24" stroke="#000" stroke-width="1.2" />
<line x1="286.20" y1="373.25" x2="288.60" y2="373.25" stroke="#000" stroke-width="1.2" />
<line x1="284.80" y1="375.25" x2="288.60" y2="375.25" stroke="#000" stroke-width="1.2" />
<line x1="290.20" y1="374.75" x2="290.20" y2="378.95" stroke="#000" stroke-width="1.3" />
<line x1="293.97" y1="374.75" x2="293.97" y2="377.55" stroke="#000" stroke-width="1.3" />
<line x1="296.18" y1="374.75" x2="296.18" y2="377.55" stroke="#000" stroke-width="1.3" />
<line x1="297.74" y1="374.75" x2="297.74" y2="377.55" stroke="#000" stroke-width="1.3" />
<line x1="298.95" y1="374.75" x2="298.95" y2="377.55" stroke="#000" stroke-width="1.3" />
<line x1="299.95" y1="374.75" x2="299.95" y2="377.55" stroke="#000" stroke-width="1.3" />
<line x1="300.78" y1="374.75" x2="300.78" y2="377.55" stroke="#000" stroke-width="1.3" />
<line x1="301.51" y1="374.75" x2="301.51" y2="377.55" stroke="#000" stroke-width="1.3" />
<line x1="302.15" y1="374.75" x2="302.15" y2="377.55" stroke="#000" stroke-width="1.3" />
<line x1="302.73" y1="374.75" x2="302.73" y2="378.95" stroke="#000" stroke-width="1.3" />
<line x1="306.50" y1="374.75" x2="306.50" y2="377.55" stroke="#000" stroke-width="1.3" />
<line x1="308.70" y1="374.75" x2="308.70" y2="377.55" stroke="#000" stroke-width="1.3" />
<line x1="310.27" y1="374.75" x2="310.27" y2="377.55" stroke="#000" stroke-width="1.3" />
<line x1="311.48" y1="374.75" x2="311.48" y2="377.55" stroke="#000" stroke-width="1.3" />
<line x1="312.47" y1="374.75" x2="312.47" y2="377.55" stroke="#000" stroke-width="1.3" />
<line x1="313.31" y1="374.75" x2="313.31" y2="377.55" stroke="#000" stroke-width="1.3" />
<line x1="314.04" y1="374.75" x2="314.04" y2="377.55" stroke="#000" stroke-width="1.3" />
<line x1="314.68" y1="374.75" x2="314.68" y2="377.55" stroke="#000" stroke-width="1.3" />
<line x1="315.25" y1="374.75" x2="315.25" y2="378.95" stroke="#000" stroke-width="1.3" />
<line x1="319.02" y1="374.75" x2="319.02" y2="377.55" stroke="#000" stroke-width="1.3" />
<line x1="321.23" y1="374.75" x2="321.23" y2="377.55" stroke="#000" stroke-width="1.3" />
<line x1="322.79" y1="374.75" x2="322.79" y2="377.55" stroke="#000" stroke-width="1.3" />
<line x1="324.00" y1="374.75" x2="324.00" y2="377.55" stroke="#000" stroke-width="1.3" />
<line x1="325.00" y1="374.75" x2="325.00" y2="377.55" stroke="#000" stroke-width="1.3" />
<line x1="325.83" y1="374.75" x2="325.83" y2="377.55" stroke="#000" stroke-width="1.3" />
<line x1="326.56" y1="374.75" x2="326.56" y2="377.55" stroke="#000" stroke-width="1.3" />
<line x1="327.20" y1="374.75" x2="327.20" y2="377.55" stroke="#000" stroke-width="1.3" />
<line x1="327.78" y1="374.75" x2="327.78" y2="378.95" stroke="#000" stroke-width="1.3" />
<line x1="331.55" y1="374.75" x2="331.55" y2="377.55" stroke="#000" stroke-width="1.3" />
<line x1="333.75" y1="374.75" x2="333.75" y2="377.55" stroke="#000" stroke-width="1.3" />
<line x1="335.32" y1="374.75" x2="335.32" y2="377.55" stroke="#000" stroke-width="1.3" />
<line x1="336.53" y1="374.75" x2="336.53" y2="377.55" stroke="#000" stroke-width="1.3" />
<line x1="337.52" y1="374.75" x2="337.52" y2="377.55" stroke="#000" stroke-width="1.3" />
<line x1="338.36" y1="374.75" x2="338.36" y2="377.55" stroke="#000" stroke-width="1.3" />
<line x1="339.09" y1="374.75" x2="339.09" y2="377.55" stroke="#000" stroke-width="1.3" />
<line x1="339.73" y1="374.75" x2="339.73" y2="377.55" stroke="#000" stroke-width="1.3" />
<line x1="340.30" y1="374.75" x2="340.30" y2="378.95" stroke="#000" stroke-width="1.1" />
<text x="280.20" y="327.75" font-size="7.8" text-anchor="end" fill="#1a1a1a" textLength="12.81" lengthAdjust="spacingAndGlyphs" >100</text>
<text x="280.20" y="337.77" font-size="7.8" text-anchor="end" fill="#1a1a1a" textLength="8.54" lengthAdjust="spacingAndGlyphs" >80</text>
<text x="280.20" y="347.79" font-size="7.8" text-anchor="end" fill="#1a1a1a" textLength="8.54" lengthAdjust="spacingAndGlyphs" >60</text>
<text x="280.20" y="357.81" font-size="7.8" text-anchor="end" fill="#1a1a1a" textLength="8.54" lengthAdjust="spacingAndGlyphs" >40</text>
<text x="280.20" y="367.83" font-size="7.8" text-anchor="end" fill="#1a1a1a" textLength="8.54" lengthAdjust="spacingAndGlyphs" >20</text>
<text x="280.20" y="377.85" font-size="7.8" text-anchor="end" fill="#1a1a1a" textLength="4.27" lengthAdjust="spacingAndGlyphs" >0</text>
<text x="284.00" y="390.30" font-size="7.7" text-anchor="start" fill="#1a1a1a" textLength="62.80" lengthAdjust="spacingAndGlyphs" >10<tspan dy="-2.6" font-size="4.6">0</tspan><tspan dy="2.6">10</tspan><tspan dy="-2.6" font-size="4.6">1</tspan><tspan dy="2.6">10</tspan><tspan dy="-2.6" font-size="4.6">2</tspan><tspan dy="2.6">10</tspan><tspan dy="-2.6" font-size="4.6">3</tspan><tspan dy="2.6">10</tspan><tspan dy="-2.6" font-size="4.6">4</tspan></text>
<polygon points="371.20,373.15 371.20,327.36 371.70,326.40 372.20,325.72 372.70,325.34 373.20,325.29 373.71,326.20 374.21,328.26 374.71,331.31 375.21,335.14 375.71,339.49 376.21,344.10 376.71,348.71 377.21,353.11 377.71,357.13 378.21,360.67 378.72,363.67 379.22,366.13 379.72,368.09 380.22,369.59 380.72,370.71 381.22,371.52 381.72,372.09 382.22,372.48 382.72,372.73 383.22,372.90 383.73,373.00 384.23,373.07 384.73,373.10 385.23,373.12 385.73,373.14 386.23,373.14 386.73,373.15 387.23,373.15 387.73,373.15 388.23,373.15 388.74,373.15 389.24,373.15 389.74,373.15 390.24,373.15 390.74,373.15 391.24,373.15 391.74,373.15 392.24,373.15 392.74,373.15 393.24,373.15 393.75,373.15 394.25,373.15 394.75,373.15 395.25,373.15 395.75,373.15 396.25,373.15 396.75,373.15 397.25,373.15 397.75,373.15 398.25,373.15 398.76,373.15 399.26,373.15 399.76,373.15 400.26,373.15 400.76,373.15 401.26,373.15 401.76,373.15 402.26,373.15 402.76,373.15 403.26,373.15 403.77,373.15 404.27,373.15 404.77,373.15 405.27,373.15 405.77,373.15 406.27,373.15 406.77,373.15 407.27,373.15 407.77,373.15 408.27,373.15 408.78,373.15 409.28,373.15 409.78,373.15 410.28,373.15 410.78,373.15 411.28,373.15 411.78,373.15 412.28,373.15 412.78,373.15 413.28,373.15 413.79,373.15 414.29,373.15 414.79,373.15 415.29,373.15 415.79,373.15 416.29,373.15 416.79,373.15 417.29,373.15 417.79,373.15 418.29,373.15 418.80,373.15 419.30,373.15 419.80,373.15 420.30,373.15 420.80,373.15 421.30,373.15 421.30,373.15" fill="#efc6bf" stroke="none"/>
<polyline points="371.20,350.76 371.70,346.99 372.20,343.13 372.70,339.30 373.20,335.66 373.71,332.35 374.21,329.54 374.71,327.36 375.21,325.91 375.71,325.28 376.21,325.69 376.71,327.61 377.21,330.88 377.71,335.18 378.21,340.16 378.72,345.42 379.22,350.59 379.72,355.40 380.22,359.64 380.72,363.20 381.22,366.06 381.72,368.26 382.22,369.89 382.72,371.05 383.22,371.84 383.73,372.36 384.23,372.69 384.73,372.89 385.23,373.01 385.73,373.07 386.23,373.11 386.73,373.13 387.23,373.14 387.73,373.15 388.23,373.15 388.74,373.15 389.24,373.15 389.74,373.15 390.24,373.15 390.74,373.15 391.24,373.15 391.74,373.15 392.24,373.15 392.74,373.15 393.24,373.15 393.75,373.15 394.25,373.15 394.75,373.15 395.25,373.15 395.75,373.15 396.25,373.15 396.75,373.15 397.25,373.15 397.75,373.15 398.25,373.15 398.76,373.15 399.26,373.15 399.76,373.15 400.26,373.15 400.76,373.15 401.26,373.15 401.76,373.15 402.26,373.15 402.76,373.15 403.26,373.15 403.77,373.15 404.27,373.15 404.77,373.15 405.27,373.15 405.77,373.15 406.27,373.15 406.77,373.15 407.27,373.15 407.77,373.15 408.27,373.15 408.78,373.15 409.28,373.15 409.78,373.15 410.28,373.15 410.78,373.15 411.28,373.15 411.78,373.15 412.28,373.15 412.78,373.15 413.28,373.15 413.79,373.15 414.29,373.15 414.79,373.15 415.29,373.15 415.79,373.15 416.29,373.15 416.79,373.15 417.29,373.15 417.79,373.15 418.29,373.15 418.80,373.15 419.30,373.15 419.80,373.15 420.30,373.15 420.80,373.15 421.30,373.15" fill="none" stroke="#62a83c" stroke-width="1.3"/>
<polyline points="371.20,366.67 371.70,364.76 372.20,362.49 372.70,359.83 373.20,356.81 373.71,353.46 374.21,349.83 374.71,346.03 375.21,342.16 375.71,338.37 376.21,334.79 376.71,331.60 377.21,328.93 377.71,326.92 378.21,325.67 378.72,325.25 379.22,325.97 379.72,328.06 380.22,331.35 380.72,335.54 381.22,340.33 381.72,345.36 382.22,350.32 382.72,354.95 383.22,359.08 383.73,362.59 384.23,365.47 384.73,367.72 385.23,369.43 385.73,370.68 386.23,371.56 386.73,372.15 387.23,372.54 387.73,372.79 388.23,372.95 388.74,373.04 389.24,373.09 389.74,373.12 390.24,373.13 390.74,373.14 391.24,373.15 391.74,373.15 392.24,373.15 392.74,373.15 393.24,373.15 393.75,373.15 394.25,373.15 394.75,373.15 395.25,373.15 395.75,373.15 396.25,373.15 396.75,373.15 397.25,373.15 397.75,373.15 398.25,373.15 398.76,373.15 399.26,373.15 399.76,373.15 400.26,373.15 400.76,373.15 401.26,373.15 401.76,373.15 402.26,373.15 402.76,373.15 403.26,373.15 403.77,373.15 404.27,373.15 404.77,373.15 405.27,373.15 405.77,373.15 406.27,373.15 406.77,373.15 407.27,373.15 407.77,373.15 408.27,373.15 408.78,373.15 409.28,373.15 409.78,373.15 410.28,373.15 410.78,373.15 411.28,373.15 411.78,373.15 412.28,373.15 412.78,373.15 413.28,373.15 413.79,373.15 414.29,373.15 414.79,373.15 415.29,373.15 415.79,373.15 416.29,373.15 416.79,373.15 417.29,373.15 417.79,373.15 418.29,373.15 418.80,373.15 419.30,373.15 419.80,373.15 420.30,373.15 420.80,373.15 421.30,373.15" fill="none" stroke="#43266f" stroke-width="1.9"/>
<polyline points="371.20,367.87 371.70,366.22 372.20,364.23 372.70,361.86 373.20,359.11 373.71,356.00 374.21,352.57 374.71,348.90 375.21,345.07 375.71,341.20 376.21,337.45 376.71,333.95 377.21,330.88 377.71,328.36 378.21,326.54 378.72,325.49 379.22,325.30 379.72,326.47 380.22,329.10 380.72,332.92 381.22,337.61 381.72,342.78 382.22,348.04 382.72,353.06 383.22,357.60 383.73,361.51 384.23,364.71 384.73,367.24 385.23,369.14 385.73,370.52 386.23,371.48 386.73,372.12 387.23,372.54 387.73,372.80 388.23,372.96 388.74,373.05 389.24,373.10 389.74,373.12 390.24,373.14 390.74,373.14 391.24,373.15 391.74,373.15 392.24,373.15 392.74,373.15 393.24,373.15 393.75,373.15 394.25,373.15 394.75,373.15 395.25,373.15 395.75,373.15 396.25,373.15 396.75,373.15 397.25,373.15 397.75,373.15 398.25,373.15 398.76,373.15 399.26,373.15 399.76,373.15 400.26,373.15 400.76,373.15 401.26,373.15 401.76,373.15 402.26,373.15 402.76,373.15 403.26,373.15 403.77,373.15 404.27,373.15 404.77,373.15 405.27,373.15 405.77,373.15 406.27,373.15 406.77,373.15 407.27,373.15 407.77,373.15 408.27,373.15 408.78,373.15 409.28,373.15 409.78,373.15 410.28,373.15 410.78,373.15 411.28,373.15 411.78,373.15 412.28,373.15 412.78,373.15 413.28,373.15 413.79,373.15 414.29,373.15 414.79,373.15 415.29,373.15 415.79,373.15 416.29,373.15 416.79,373.15 417.29,373.15 417.79,373.15 418.29,373.15 418.80,373.15 419.30,373.15 419.80,373.15 420.30,373.15 420.80,373.15 421.30,373.15" fill="none" stroke="#27367e" stroke-width="1.9" stroke-dasharray="1.5 1.0"/>
<polyline points="371.20,327.36 371.70,326.40 372.20,325.72 372.70,325.34 373.20,325.29 373.71,326.20 374.21,328.26 374.71,331.31 375.21,335.14 375.71,339.49 376.21,344.10 376.71,348.71 377.21,353.11 377.71,357.13 378.21,360.67 378.72,363.67 379.22,366.13 379.72,368.09 380.22,369.59 380.72,370.71 381.22,371.52 381.72,372.09 382.22,372.48 382.72,372.73 383.22,372.90 383.73,373.00 384.23,373.07 384.73,373.10 385.23,373.12 385.73,373.14 386.23,373.14 386.73,373.15 387.23,373.15 387.73,373.15 388.23,373.15 388.74,373.15 389.24,373.15 389.74,373.15 390.24,373.15 390.74,373.15 391.24,373.15 391.74,373.15 392.24,373.15 392.74,373.15 393.24,373.15 393.75,373.15 394.25,373.15 394.75,373.15 395.25,373.15 395.75,373.15 396.25,373.15 396.75,373.15 397.25,373.15 397.75,373.15 398.25,373.15 398.76,373.15 399.26,373.15 399.76,373.15 400.26,373.15 400.76,373.15 401.26,373.15 401.76,373.15 402.26,373.15 402.76,373.15 403.26,373.15 403.77,373.15 404.27,373.15 404.77,373.15 405.27,373.15 405.77,373.15 406.27,373.15 406.77,373.15 407.27,373.15 407.77,373.15 408.27,373.15 408.78,373.15 409.28,373.15 409.78,373.15 410.28,373.15 410.78,373.15 411.28,373.15 411.78,373.15 412.28,373.15 412.78,373.15 413.28,373.15 413.79,373.15 414.29,373.15 414.79,373.15 415.29,373.15 415.79,373.15 416.29,373.15 416.79,373.15 417.29,373.15 417.79,373.15 418.29,373.15 418.80,373.15 419.30,373.15 419.80,373.15 420.30,373.15 420.80,373.15 421.30,373.15" fill="none" stroke="#a8142c" stroke-width="1.9" stroke-linejoin="round"/>
<rect x="370.40" y="323.05" width="51.70" height="50.90" fill="none" stroke="#000" stroke-width="1.6" />
<line x1="365.80" y1="325.15" x2="369.60" y2="325.15" stroke="#000" stroke-width="1.2" />
<line x1="367.20" y1="327.15" x2="369.60" y2="327.15" stroke="#000" stroke-width="1.2" />
<line x1="367.20" y1="329.16" x2="369.60" y2="329.16" stroke="#000" stroke-width="1.2" />
<line x1="367.20" y1="331.16" x2="369.60" y2="331.16" stroke="#000" stroke-width="1.2" />
<line x1="367.20" y1="333.17" x2="369.60" y2="333.17" stroke="#000" stroke-width="1.2" />
<line x1="365.80" y1="335.17" x2="369.60" y2="335.17" stroke="#000" stroke-width="1.2" />
<line x1="367.20" y1="337.17" x2="369.60" y2="337.17" stroke="#000" stroke-width="1.2" />
<line x1="367.20" y1="339.18" x2="369.60" y2="339.18" stroke="#000" stroke-width="1.2" />
<line x1="367.20" y1="341.18" x2="369.60" y2="341.18" stroke="#000" stroke-width="1.2" />
<line x1="367.20" y1="343.19" x2="369.60" y2="343.19" stroke="#000" stroke-width="1.2" />
<line x1="365.80" y1="345.19" x2="369.60" y2="345.19" stroke="#000" stroke-width="1.2" />
<line x1="367.20" y1="347.19" x2="369.60" y2="347.19" stroke="#000" stroke-width="1.2" />
<line x1="367.20" y1="349.20" x2="369.60" y2="349.20" stroke="#000" stroke-width="1.2" />
<line x1="367.20" y1="351.20" x2="369.60" y2="351.20" stroke="#000" stroke-width="1.2" />
<line x1="367.20" y1="353.21" x2="369.60" y2="353.21" stroke="#000" stroke-width="1.2" />
<line x1="365.80" y1="355.21" x2="369.60" y2="355.21" stroke="#000" stroke-width="1.2" />
<line x1="367.20" y1="357.21" x2="369.60" y2="357.21" stroke="#000" stroke-width="1.2" />
<line x1="367.20" y1="359.22" x2="369.60" y2="359.22" stroke="#000" stroke-width="1.2" />
<line x1="367.20" y1="361.22" x2="369.60" y2="361.22" stroke="#000" stroke-width="1.2" />
<line x1="367.20" y1="363.23" x2="369.60" y2="363.23" stroke="#000" stroke-width="1.2" />
<line x1="365.80" y1="365.23" x2="369.60" y2="365.23" stroke="#000" stroke-width="1.2" />
<line x1="367.20" y1="367.23" x2="369.60" y2="367.23" stroke="#000" stroke-width="1.2" />
<line x1="367.20" y1="369.24" x2="369.60" y2="369.24" stroke="#000" stroke-width="1.2" />
<line x1="367.20" y1="371.24" x2="369.60" y2="371.24" stroke="#000" stroke-width="1.2" />
<line x1="367.20" y1="373.25" x2="369.60" y2="373.25" stroke="#000" stroke-width="1.2" />
<line x1="365.80" y1="375.25" x2="369.60" y2="375.25" stroke="#000" stroke-width="1.2" />
<line x1="371.20" y1="374.75" x2="371.20" y2="378.95" stroke="#000" stroke-width="1.3" />
<line x1="374.97" y1="374.75" x2="374.97" y2="377.55" stroke="#000" stroke-width="1.3" />
<line x1="377.18" y1="374.75" x2="377.18" y2="377.55" stroke="#000" stroke-width="1.3" />
<line x1="378.74" y1="374.75" x2="378.74" y2="377.55" stroke="#000" stroke-width="1.3" />
<line x1="379.95" y1="374.75" x2="379.95" y2="377.55" stroke="#000" stroke-width="1.3" />
<line x1="380.95" y1="374.75" x2="380.95" y2="377.55" stroke="#000" stroke-width="1.3" />
<line x1="381.78" y1="374.75" x2="381.78" y2="377.55" stroke="#000" stroke-width="1.3" />
<line x1="382.51" y1="374.75" x2="382.51" y2="377.55" stroke="#000" stroke-width="1.3" />
<line x1="383.15" y1="374.75" x2="383.15" y2="377.55" stroke="#000" stroke-width="1.3" />
<line x1="383.73" y1="374.75" x2="383.73" y2="378.95" stroke="#000" stroke-width="1.3" />
<line x1="387.50" y1="374.75" x2="387.50" y2="377.55" stroke="#000" stroke-width="1.3" />
<line x1="389.70" y1="374.75" x2="389.70" y2="377.55" stroke="#000" stroke-width="1.3" />
<line x1="391.27" y1="374.75" x2="391.27" y2="377.55" stroke="#000" stroke-width="1.3" />
<line x1="392.48" y1="374.75" x2="392.48" y2="377.55" stroke="#000" stroke-width="1.3" />
<line x1="393.47" y1="374.75" x2="393.47" y2="377.55" stroke="#000" stroke-width="1.3" />
<line x1="394.31" y1="374.75" x2="394.31" y2="377.55" stroke="#000" stroke-width="1.3" />
<line x1="395.04" y1="374.75" x2="395.04" y2="377.55" stroke="#000" stroke-width="1.3" />
<line x1="395.68" y1="374.75" x2="395.68" y2="377.55" stroke="#000" stroke-width="1.3" />
<line x1="396.25" y1="374.75" x2="396.25" y2="378.95" stroke="#000" stroke-width="1.3" />
<line x1="400.02" y1="374.75" x2="400.02" y2="377.55" stroke="#000" stroke-width="1.3" />
<line x1="402.23" y1="374.75" x2="402.23" y2="377.55" stroke="#000" stroke-width="1.3" />
<line x1="403.79" y1="374.75" x2="403.79" y2="377.55" stroke="#000" stroke-width="1.3" />
<line x1="405.00" y1="374.75" x2="405.00" y2="377.55" stroke="#000" stroke-width="1.3" />
<line x1="406.00" y1="374.75" x2="406.00" y2="377.55" stroke="#000" stroke-width="1.3" />
<line x1="406.83" y1="374.75" x2="406.83" y2="377.55" stroke="#000" stroke-width="1.3" />
<line x1="407.56" y1="374.75" x2="407.56" y2="377.55" stroke="#000" stroke-width="1.3" />
<line x1="408.20" y1="374.75" x2="408.20" y2="377.55" stroke="#000" stroke-width="1.3" />
<line x1="408.78" y1="374.75" x2="408.78" y2="378.95" stroke="#000" stroke-width="1.3" />
<line x1="412.55" y1="374.75" x2="412.55" y2="377.55" stroke="#000" stroke-width="1.3" />
<line x1="414.75" y1="374.75" x2="414.75" y2="377.55" stroke="#000" stroke-width="1.3" />
<line x1="416.32" y1="374.75" x2="416.32" y2="377.55" stroke="#000" stroke-width="1.3" />
<line x1="417.53" y1="374.75" x2="417.53" y2="377.55" stroke="#000" stroke-width="1.3" />
<line x1="418.52" y1="374.75" x2="418.52" y2="377.55" stroke="#000" stroke-width="1.3" />
<line x1="419.36" y1="374.75" x2="419.36" y2="377.55" stroke="#000" stroke-width="1.3" />
<line x1="420.09" y1="374.75" x2="420.09" y2="377.55" stroke="#000" stroke-width="1.3" />
<line x1="420.73" y1="374.75" x2="420.73" y2="377.55" stroke="#000" stroke-width="1.3" />
<line x1="421.30" y1="374.75" x2="421.30" y2="378.95" stroke="#000" stroke-width="1.1" />
<text x="361.20" y="327.75" font-size="7.8" text-anchor="end" fill="#1a1a1a" textLength="12.81" lengthAdjust="spacingAndGlyphs" >100</text>
<text x="361.20" y="337.77" font-size="7.8" text-anchor="end" fill="#1a1a1a" textLength="8.54" lengthAdjust="spacingAndGlyphs" >80</text>
<text x="361.20" y="347.79" font-size="7.8" text-anchor="end" fill="#1a1a1a" textLength="8.54" lengthAdjust="spacingAndGlyphs" >60</text>
<text x="361.20" y="357.81" font-size="7.8" text-anchor="end" fill="#1a1a1a" textLength="8.54" lengthAdjust="spacingAndGlyphs" >40</text>
<text x="361.20" y="367.83" font-size="7.8" text-anchor="end" fill="#1a1a1a" textLength="8.54" lengthAdjust="spacingAndGlyphs" >20</text>
<text x="361.20" y="377.85" font-size="7.8" text-anchor="end" fill="#1a1a1a" textLength="4.27" lengthAdjust="spacingAndGlyphs" >0</text>
<text x="365.00" y="390.30" font-size="7.7" text-anchor="start" fill="#1a1a1a" textLength="62.80" lengthAdjust="spacingAndGlyphs" >10<tspan dy="-2.6" font-size="4.6">0</tspan><tspan dy="2.6">10</tspan><tspan dy="-2.6" font-size="4.6">1</tspan><tspan dy="2.6">10</tspan><tspan dy="-2.6" font-size="4.6">2</tspan><tspan dy="2.6">10</tspan><tspan dy="-2.6" font-size="4.6">3</tspan><tspan dy="2.6">10</tspan><tspan dy="-2.6" font-size="4.6">4</tspan></text>
<polygon points="452.70,373.15 452.70,326.20 453.20,325.59 453.70,325.29 454.20,325.36 454.70,326.20 455.21,327.84 455.71,330.19 456.21,333.14 456.71,336.54 457.21,340.25 457.71,344.10 458.21,347.95 458.71,351.67 459.21,355.17 459.71,358.37 460.22,361.21 460.72,363.67 461.22,365.76 461.72,367.49 462.22,368.89 462.72,370.00 463.22,370.86 463.72,371.52 464.22,372.01 464.72,372.36 465.23,372.62 465.73,372.80 466.23,372.92 466.73,373.00 467.23,373.06 467.73,373.09 468.23,373.11 468.73,373.13 469.23,373.14 469.73,373.14 470.24,373.15 470.74,373.15 471.24,373.15 471.74,373.15 472.24,373.15 472.74,373.15 473.24,373.15 473.74,373.15 474.24,373.15 474.74,373.15 475.25,373.15 475.75,373.15 476.25,373.15 476.75,373.15 477.25,373.15 477.75,373.15 478.25,373.15 478.75,373.15 479.25,373.15 479.75,373.15 480.26,373.15 480.76,373.15 481.26,373.15 481.76,373.15 482.26,373.15 482.76,373.15 483.26,373.15 483.76,373.15 484.26,373.15 484.76,373.15 485.27,373.15 485.77,373.15 486.27,373.15 486.77,373.15 487.27,373.15 487.77,373.15 488.27,373.15 488.77,373.15 489.27,373.15 489.77,373.15 490.28,373.15 490.78,373.15 491.28,373.15 491.78,373.15 492.28,373.15 492.78,373.15 493.28,373.15 493.78,373.15 494.28,373.15 494.78,373.15 495.29,373.15 495.79,373.15 496.29,373.15 496.79,373.15 497.29,373.15 497.79,373.15 498.29,373.15 498.79,373.15 499.29,373.15 499.79,373.15 500.30,373.15 500.80,373.15 501.30,373.15 501.80,373.15 502.30,373.15 502.80,373.15 502.80,373.15" fill="#efc6bf" stroke="none"/>
<polyline points="452.70,336.99 453.20,334.37 453.70,331.97 454.20,329.86 454.70,328.10 455.21,326.72 455.71,325.79 456.21,325.31 456.71,325.36 457.21,326.20 457.71,327.84 458.21,330.19 458.71,333.14 459.21,336.54 459.71,340.25 460.22,344.10 460.72,347.95 461.22,351.67 461.72,355.17 462.22,358.37 462.72,361.21 463.22,363.67 463.72,365.76 464.22,367.49 464.72,368.89 465.23,370.00 465.73,370.86 466.23,371.52 466.73,372.01 467.23,372.36 467.73,372.62 468.23,372.80 468.73,372.92 469.23,373.00 469.73,373.06 470.24,373.09 470.74,373.11 471.24,373.13 471.74,373.14 472.24,373.14 472.74,373.15 473.24,373.15 473.74,373.15 474.24,373.15 474.74,373.15 475.25,373.15 475.75,373.15 476.25,373.15 476.75,373.15 477.25,373.15 477.75,373.15 478.25,373.15 478.75,373.15 479.25,373.15 479.75,373.15 480.26,373.15 480.76,373.15 481.26,373.15 481.76,373.15 482.26,373.15 482.76,373.15 483.26,373.15 483.76,373.15 484.26,373.15 484.76,373.15 485.27,373.15 485.77,373.15 486.27,373.15 486.77,373.15 487.27,373.15 487.77,373.15 488.27,373.15 488.77,373.15 489.27,373.15 489.77,373.15 490.28,373.15 490.78,373.15 491.28,373.15 491.78,373.15 492.28,373.15 492.78,373.15 493.28,373.15 493.78,373.15 494.28,373.15 494.78,373.15 495.29,373.15 495.79,373.15 496.29,373.15 496.79,373.15 497.29,373.15 497.79,373.15 498.29,373.15 498.79,373.15 499.29,373.15 499.79,373.15 500.30,373.15 500.80,373.15 501.30,373.15 501.80,373.15 502.30,373.15 502.80,373.15" fill="none" stroke="#62a83c" stroke-width="1.3"/>
<polyline points="452.70,359.21 453.20,356.58 453.70,353.71 454.20,350.63 454.70,347.40 455.21,344.10 455.71,340.79 456.21,337.58 456.71,334.55 457.21,331.81 457.71,329.45 458.21,327.56 458.71,326.20 459.21,325.43 459.71,325.29 460.22,326.20 460.72,328.26 461.22,331.31 461.72,335.14 462.22,339.49 462.72,344.10 463.22,348.71 463.72,353.11 464.22,357.13 464.72,360.67 465.23,363.67 465.73,366.13 466.23,368.09 466.73,369.59 467.23,370.71 467.73,371.52 468.23,372.09 468.73,372.48 469.23,372.73 469.73,372.90 470.24,373.00 470.74,373.07 471.24,373.10 471.74,373.12 472.24,373.14 472.74,373.14 473.24,373.15 473.74,373.15 474.24,373.15 474.74,373.15 475.25,373.15 475.75,373.15 476.25,373.15 476.75,373.15 477.25,373.15 477.75,373.15 478.25,373.15 478.75,373.15 479.25,373.15 479.75,373.15 480.26,373.15 480.76,373.15 481.26,373.15 481.76,373.15 482.26,373.15 482.76,373.15 483.26,373.15 483.76,373.15 484.26,373.15 484.76,373.15 485.27,373.15 485.77,373.15 486.27,373.15 486.77,373.15 487.27,373.15 487.77,373.15 488.27,373.15 488.77,373.15 489.27,373.15 489.77,373.15 490.28,373.15 490.78,373.15 491.28,373.15 491.78,373.15 492.28,373.15 492.78,373.15 493.28,373.15 493.78,373.15 494.28,373.15 494.78,373.15 495.29,373.15 495.79,373.15 496.29,373.15 496.79,373.15 497.29,373.15 497.79,373.15 498.29,373.15 498.79,373.15 499.29,373.15 499.79,373.15 500.30,373.15 500.80,373.15 501.30,373.15 501.80,373.15 502.30,373.15 502.80,373.15" fill="none" stroke="#43266f" stroke-width="1.9"/>
<polyline points="452.70,359.83 453.20,357.26 453.70,354.45 454.20,351.42 454.70,348.22 455.21,344.93 455.71,341.61 456.21,338.37 456.71,335.29 457.21,332.47 457.71,330.00 458.21,327.98 458.71,326.49 459.21,325.56 459.71,325.25 460.22,325.91 460.72,327.84 461.22,330.88 461.72,334.79 462.22,339.30 462.72,344.10 463.22,348.90 463.72,353.46 464.22,357.60 464.72,361.21 465.23,364.23 465.73,366.67 466.23,368.57 466.73,370.00 467.23,371.05 467.73,371.78 468.23,372.28 468.73,372.62 469.23,372.83 469.73,372.96 470.24,373.05 470.74,373.09 471.24,373.12 471.74,373.13 472.24,373.14 472.74,373.15 473.24,373.15 473.74,373.15 474.24,373.15 474.74,373.15 475.25,373.15 475.75,373.15 476.25,373.15 476.75,373.15 477.25,373.15 477.75,373.15 478.25,373.15 478.75,373.15 479.25,373.15 479.75,373.15 480.26,373.15 480.76,373.15 481.26,373.15 481.76,373.15 482.26,373.15 482.76,373.15 483.26,373.15 483.76,373.15 484.26,373.15 484.76,373.15 485.27,373.15 485.77,373.15 486.27,373.15 486.77,373.15 487.27,373.15 487.77,373.15 488.27,373.15 488.77,373.15 489.27,373.15 489.77,373.15 490.28,373.15 490.78,373.15 491.28,373.15 491.78,373.15 492.28,373.15 492.78,373.15 493.28,373.15 493.78,373.15 494.28,373.15 494.78,373.15 495.29,373.15 495.79,373.15 496.29,373.15 496.79,373.15 497.29,373.15 497.79,373.15 498.29,373.15 498.79,373.15 499.29,373.15 499.79,373.15 500.30,373.15 500.80,373.15 501.30,373.15 501.80,373.15 502.30,373.15 502.80,373.15" fill="none" stroke="#27367e" stroke-width="1.9" stroke-dasharray="1.5 1.0"/>
<polyline points="452.70,326.20 453.20,325.59 453.70,325.29 454.20,325.36 454.70,326.20 455.21,327.84 455.71,330.19 456.21,333.14 456.71,336.54 457.21,340.25 457.71,344.10 458.21,347.95 458.71,351.67 459.21,355.17 459.71,358.37 460.22,361.21 460.72,363.67 461.22,365.76 461.72,367.49 462.22,368.89 462.72,370.00 463.22,370.86 463.72,371.52 464.22,372.01 464.72,372.36 465.23,372.62 465.73,372.80 466.23,372.92 466.73,373.00 467.23,373.06 467.73,373.09 468.23,373.11 468.73,373.13 469.23,373.14 469.73,373.14 470.24,373.15 470.74,373.15 471.24,373.15 471.74,373.15 472.24,373.15 472.74,373.15 473.24,373.15 473.74,373.15 474.24,373.15 474.74,373.15 475.25,373.15 475.75,373.15 476.25,373.15 476.75,373.15 477.25,373.15 477.75,373.15 478.25,373.15 478.75,373.15 479.25,373.15 479.75,373.15 480.26,373.15 480.76,373.15 481.26,373.15 481.76,373.15 482.26,373.15 482.76,373.15 483.26,373.15 483.76,373.15 484.26,373.15 484.76,373.15 485.27,373.15 485.77,373.15 486.27,373.15 486.77,373.15 487.27,373.15 487.77,373.15 488.27,373.15 488.77,373.15 489.27,373.15 489.77,373.15 490.28,373.15 490.78,373.15 491.28,373.15 491.78,373.15 492.28,373.15 492.78,373.15 493.28,373.15 493.78,373.15 494.28,373.15 494.78,373.15 495.29,373.15 495.79,373.15 496.29,373.15 496.79,373.15 497.29,373.15 497.79,373.15 498.29,373.15 498.79,373.15 499.29,373.15 499.79,373.15 500.30,373.15 500.80,373.15 501.30,373.15 501.80,373.15 502.30,373.15 502.80,373.15" fill="none" stroke="#a8142c" stroke-width="1.9" stroke-linejoin="round"/>
<rect x="451.90" y="323.05" width="51.70" height="50.90" fill="none" stroke="#000" stroke-width="1.6" />
<line x1="447.30" y1="325.15" x2="451.10" y2="325.15" stroke="#000" stroke-width="1.2" />
<line x1="448.70" y1="327.15" x2="451.10" y2="327.15" stroke="#000" stroke-width="1.2" />
<line x1="448.70" y1="329.16" x2="451.10" y2="329.16" stroke="#000" stroke-width="1.2" />
<line x1="448.70" y1="331.16" x2="451.10" y2="331.16" stroke="#000" stroke-width="1.2" />
<line x1="448.70" y1="333.17" x2="451.10" y2="333.17" stroke="#000" stroke-width="1.2" />
<line x1="447.30" y1="335.17" x2="451.10" y2="335.17" stroke="#000" stroke-width="1.2" />
<line x1="448.70" y1="337.17" x2="451.10" y2="337.17" stroke="#000" stroke-width="1.2" />
<line x1="448.70" y1="339.18" x2="451.10" y2="339.18" stroke="#000" stroke-width="1.2" />
<line x1="448.70" y1="341.18" x2="451.10" y2="341.18" stroke="#000" stroke-width="1.2" />
<line x1="448.70" y1="343.19" x2="451.10" y2="343.19" stroke="#000" stroke-width="1.2" />
<line x1="447.30" y1="345.19" x2="451.10" y2="345.19" stroke="#000" stroke-width="1.2" />
<line x1="448.70" y1="347.19" x2="451.10" y2="347.19" stroke="#000" stroke-width="1.2" />
<line x1="448.70" y1="349.20" x2="451.10" y2="349.20" stroke="#000" stroke-width="1.2" />
<line x1="448.70" y1="351.20" x2="451.10" y2="351.20" stroke="#000" stroke-width="1.2" />
<line x1="448.70" y1="353.21" x2="451.10" y2="353.21" stroke="#000" stroke-width="1.2" />
<line x1="447.30" y1="355.21" x2="451.10" y2="355.21" stroke="#000" stroke-width="1.2" />
<line x1="448.70" y1="357.21" x2="451.10" y2="357.21" stroke="#000" stroke-width="1.2" />
<line x1="448.70" y1="359.22" x2="451.10" y2="359.22" stroke="#000" stroke-width="1.2" />
<line x1="448.70" y1="361.22" x2="451.10" y2="361.22" stroke="#000" stroke-width="1.2" />
<line x1="448.70" y1="363.23" x2="451.10" y2="363.23" stroke="#000" stroke-width="1.2" />
<line x1="447.30" y1="365.23" x2="451.10" y2="365.23" stroke="#000" stroke-width="1.2" />
<line x1="448.70" y1="367.23" x2="451.10" y2="367.23" stroke="#000" stroke-width="1.2" />
<line x1="448.70" y1="369.24" x2="451.10" y2="369.24" stroke="#000" stroke-width="1.2" />
<line x1="448.70" y1="371.24" x2="451.10" y2="371.24" stroke="#000" stroke-width="1.2" />
<line x1="448.70" y1="373.25" x2="451.10" y2="373.25" stroke="#000" stroke-width="1.2" />
<line x1="447.30" y1="375.25" x2="451.10" y2="375.25" stroke="#000" stroke-width="1.2" />
<line x1="452.70" y1="374.75" x2="452.70" y2="378.95" stroke="#000" stroke-width="1.3" />
<line x1="456.47" y1="374.75" x2="456.47" y2="377.55" stroke="#000" stroke-width="1.3" />
<line x1="458.68" y1="374.75" x2="458.68" y2="377.55" stroke="#000" stroke-width="1.3" />
<line x1="460.24" y1="374.75" x2="460.24" y2="377.55" stroke="#000" stroke-width="1.3" />
<line x1="461.45" y1="374.75" x2="461.45" y2="377.55" stroke="#000" stroke-width="1.3" />
<line x1="462.45" y1="374.75" x2="462.45" y2="377.55" stroke="#000" stroke-width="1.3" />
<line x1="463.28" y1="374.75" x2="463.28" y2="377.55" stroke="#000" stroke-width="1.3" />
<line x1="464.01" y1="374.75" x2="464.01" y2="377.55" stroke="#000" stroke-width="1.3" />
<line x1="464.65" y1="374.75" x2="464.65" y2="377.55" stroke="#000" stroke-width="1.3" />
<line x1="465.23" y1="374.75" x2="465.23" y2="378.95" stroke="#000" stroke-width="1.3" />
<line x1="469.00" y1="374.75" x2="469.00" y2="377.55" stroke="#000" stroke-width="1.3" />
<line x1="471.20" y1="374.75" x2="471.20" y2="377.55" stroke="#000" stroke-width="1.3" />
<line x1="472.77" y1="374.75" x2="472.77" y2="377.55" stroke="#000" stroke-width="1.3" />
<line x1="473.98" y1="374.75" x2="473.98" y2="377.55" stroke="#000" stroke-width="1.3" />
<line x1="474.97" y1="374.75" x2="474.97" y2="377.55" stroke="#000" stroke-width="1.3" />
<line x1="475.81" y1="374.75" x2="475.81" y2="377.55" stroke="#000" stroke-width="1.3" />
<line x1="476.54" y1="374.75" x2="476.54" y2="377.55" stroke="#000" stroke-width="1.3" />
<line x1="477.18" y1="374.75" x2="477.18" y2="377.55" stroke="#000" stroke-width="1.3" />
<line x1="477.75" y1="374.75" x2="477.75" y2="378.95" stroke="#000" stroke-width="1.3" />
<line x1="481.52" y1="374.75" x2="481.52" y2="377.55" stroke="#000" stroke-width="1.3" />
<line x1="483.73" y1="374.75" x2="483.73" y2="377.55" stroke="#000" stroke-width="1.3" />
<line x1="485.29" y1="374.75" x2="485.29" y2="377.55" stroke="#000" stroke-width="1.3" />
<line x1="486.50" y1="374.75" x2="486.50" y2="377.55" stroke="#000" stroke-width="1.3" />
<line x1="487.50" y1="374.75" x2="487.50" y2="377.55" stroke="#000" stroke-width="1.3" />
<line x1="488.33" y1="374.75" x2="488.33" y2="377.55" stroke="#000" stroke-width="1.3" />
<line x1="489.06" y1="374.75" x2="489.06" y2="377.55" stroke="#000" stroke-width="1.3" />
<line x1="489.70" y1="374.75" x2="489.70" y2="377.55" stroke="#000" stroke-width="1.3" />
<line x1="490.28" y1="374.75" x2="490.28" y2="378.95" stroke="#000" stroke-width="1.3" />
<line x1="494.05" y1="374.75" x2="494.05" y2="377.55" stroke="#000" stroke-width="1.3" />
<line x1="496.25" y1="374.75" x2="496.25" y2="377.55" stroke="#000" stroke-width="1.3" />
<line x1="497.82" y1="374.75" x2="497.82" y2="377.55" stroke="#000" stroke-width="1.3" />
<line x1="499.03" y1="374.75" x2="499.03" y2="377.55" stroke="#000" stroke-width="1.3" />
<line x1="500.02" y1="374.75" x2="500.02" y2="377.55" stroke="#000" stroke-width="1.3" />
<line x1="500.86" y1="374.75" x2="500.86" y2="377.55" stroke="#000" stroke-width="1.3" />
<line x1="501.59" y1="374.75" x2="501.59" y2="377.55" stroke="#000" stroke-width="1.3" />
<line x1="502.23" y1="374.75" x2="502.23" y2="377.55" stroke="#000" stroke-width="1.3" />
<line x1="502.80" y1="374.75" x2="502.80" y2="378.95" stroke="#000" stroke-width="1.1" />
<text x="442.70" y="327.75" font-size="7.8" text-anchor="end" fill="#1a1a1a" textLength="12.81" lengthAdjust="spacingAndGlyphs" >100</text>
<text x="442.70" y="337.77" font-size="7.8" text-anchor="end" fill="#1a1a1a" textLength="8.54" lengthAdjust="spacingAndGlyphs" >80</text>
<text x="442.70" y="347.79" font-size="7.8" text-anchor="end" fill="#1a1a1a" textLength="8.54" lengthAdjust="spacingAndGlyphs" >60</text>
<text x="442.70" y="357.81" font-size="7.8" text-anchor="end" fill="#1a1a1a" textLength="8.54" lengthAdjust="spacingAndGlyphs" >40</text>
<text x="442.70" y="367.83" font-size="7.8" text-anchor="end" fill="#1a1a1a" textLength="8.54" lengthAdjust="spacingAndGlyphs" >20</text>
<text x="442.70" y="377.85" font-size="7.8" text-anchor="end" fill="#1a1a1a" textLength="4.27" lengthAdjust="spacingAndGlyphs" >0</text>
<text x="446.50" y="390.30" font-size="7.7" text-anchor="start" fill="#1a1a1a" textLength="62.80" lengthAdjust="spacingAndGlyphs" >10<tspan dy="-2.6" font-size="4.6">0</tspan><tspan dy="2.6">10</tspan><tspan dy="-2.6" font-size="4.6">1</tspan><tspan dy="2.6">10</tspan><tspan dy="-2.6" font-size="4.6">2</tspan><tspan dy="2.6">10</tspan><tspan dy="-2.6" font-size="4.6">3</tspan><tspan dy="2.6">10</tspan><tspan dy="-2.6" font-size="4.6">4</tspan></text>
<text x="96.40" y="348.45" font-size="10.5" text-anchor="middle" fill="#222" textLength="33.60" lengthAdjust="spacingAndGlyphs" transform="rotate(-90 96.40 348.45)" stroke="#222" stroke-width="0.25">% of max</text>
<polygon points="127.70,467.90 127.70,435.24 128.20,432.43 128.70,429.76 129.20,427.30 129.70,425.11 130.20,423.25 130.71,421.78 131.21,420.73 131.71,420.13 132.21,420.03 132.71,420.76 133.21,422.41 133.71,424.89 134.21,428.06 134.71,431.74 135.21,435.75 135.72,439.88 136.22,443.98 136.72,447.89 137.22,451.50 137.72,454.73 138.22,457.54 138.72,459.91 139.22,461.87 139.72,463.44 140.22,464.66 140.73,465.60 141.23,466.03 141.73,465.12 142.23,464.36 142.73,464.07 143.23,464.36 143.73,465.12 144.23,466.03 144.73,466.83 145.23,467.38 145.74,467.68 146.24,467.82 146.74,467.88 147.24,467.89 147.74,467.90 148.24,467.90 148.74,467.90 149.24,467.90 149.74,467.90 150.24,467.90 150.75,467.90 151.25,467.90 151.75,467.90 152.25,467.90 152.75,467.90 153.25,467.90 153.75,467.90 154.25,467.90 154.75,467.90 155.25,467.90 155.76,467.90 156.26,467.90 156.76,467.90 157.26,467.90 157.76,467.90 158.26,467.90 158.76,467.90 159.26,467.90 159.76,467.90 160.26,467.90 160.77,467.90 161.27,467.90 161.77,467.90 162.27,467.90 162.77,467.90 163.27,467.90 163.77,467.90 164.27,467.90 164.77,467.90 165.27,467.90 165.78,467.90 166.28,467.90 166.78,467.90 167.28,467.90 167.78,467.90 168.28,467.90 168.78,467.90 169.28,467.90 169.78,467.90 170.28,467.90 170.79,467.90 171.29,467.90 171.79,467.90 172.29,467.90 172.79,467.90 173.29,467.90 173.79,467.90 174.29,467.90 174.79,467.90 175.29,467.90 175.80,467.90 176.30,467.90 176.80,467.90 177.30,467.90 177.80,467.90 177.80,467.90" fill="#efc6bf" stroke="none"/>
<polyline points="127.70,438.85 128.20,435.95 128.70,433.12 129.20,430.41 129.70,427.89 130.20,425.63 130.71,423.68 131.21,422.11 131.71,420.95 132.21,420.24 132.71,420.00 133.21,420.35 133.71,421.39 134.21,423.06 134.71,425.31 135.21,428.04 135.72,431.13 136.22,434.48 136.72,437.97 137.22,441.48 137.72,444.92 138.22,448.21 138.72,451.27 139.22,454.06 139.72,456.55 140.22,458.73 140.73,460.60 141.23,462.17 141.73,463.47 142.23,464.52 142.73,465.36 143.23,466.02 143.73,466.53 144.23,466.92 144.73,467.20 145.23,467.41 145.74,467.57 146.24,467.67 146.74,467.75 147.24,467.80 147.74,467.84 148.24,467.86 148.74,467.87 149.24,467.88 149.74,467.89 150.24,467.89 150.75,467.90 151.25,467.90 151.75,467.90 152.25,467.90 152.75,467.90 153.25,467.90 153.75,467.90 154.25,467.90 154.75,467.90 155.25,467.90 155.76,467.90 156.26,467.90 156.76,467.90 157.26,467.90 157.76,467.90 158.26,467.90 158.76,467.90 159.26,467.90 159.76,467.90 160.26,467.90 160.77,467.90 161.27,467.90 161.77,467.90 162.27,467.90 162.77,467.90 163.27,467.90 163.77,467.90 164.27,467.90 164.77,467.90 165.27,467.90 165.78,467.90 166.28,467.90 166.78,467.90 167.28,467.90 167.78,467.90 168.28,467.90 168.78,467.90 169.28,467.90 169.78,467.90 170.28,467.90 170.79,467.90 171.29,467.90 171.79,467.90 172.29,467.90 172.79,467.90 173.29,467.90 173.79,467.90 174.29,467.90 174.79,467.90 175.29,467.90 175.80,467.90 176.30,467.90 176.80,467.90 177.30,467.90 177.80,467.90" fill="none" stroke="#62a83c" stroke-width="1.3"/>
<polyline points="127.70,467.90 128.20,467.90 128.70,467.90 129.20,467.90 129.70,467.90 130.20,467.90 130.71,467.90 131.21,467.90 131.71,467.90 132.21,467.90 132.71,467.90 133.21,467.90 133.71,467.90 134.21,467.90 134.71,467.90 135.21,467.90 135.72,467.90 136.22,467.90 136.72,467.90 137.22,467.89 137.72,467.89 138.22,467.89 138.72,467.88 139.22,467.87 139.72,467.86 140.22,467.85 140.73,467.83 141.23,467.80 141.73,467.76 142.23,467.71 142.73,467.65 143.23,467.57 143.73,467.47 144.23,467.33 144.73,467.16 145.23,466.95 145.74,466.69 146.24,466.36 146.74,465.96 147.24,465.49 147.74,464.91 148.24,464.23 148.74,463.43 149.24,462.49 149.74,461.42 150.24,460.19 150.75,458.79 151.25,457.24 151.75,455.51 152.25,453.61 152.75,451.56 153.25,449.36 153.75,445.98 154.25,442.17 154.75,438.47 155.25,435.09 155.76,432.25 156.26,430.13 156.76,428.90 157.26,428.67 157.76,427.36 158.26,425.40 158.76,423.68 159.26,422.26 159.76,421.17 160.26,420.42 160.77,420.05 161.27,420.24 161.77,422.11 162.27,425.63 162.77,430.41 163.27,435.95 163.77,441.74 164.27,447.32 164.77,452.35 165.27,456.61 165.78,460.02 166.28,462.62 166.78,464.50 167.28,465.80 167.78,466.65 168.28,467.19 168.78,467.51 169.28,467.69 169.78,467.80 170.28,467.85 170.79,467.88 171.29,467.89 171.79,467.90 172.29,467.90 172.79,467.90 173.29,467.90 173.79,467.90 174.29,467.90 174.79,467.90 175.29,467.90 175.80,467.90 176.30,467.90 176.80,467.90 177.30,467.90 177.80,467.90" fill="none" stroke="#43266f" stroke-width="1.9"/>
<polyline points="127.70,467.90 128.20,467.90 128.70,467.90 129.20,467.90 129.70,467.90 130.20,467.90 130.71,467.90 131.21,467.90 131.71,467.90 132.21,467.90 132.71,467.90 133.21,467.90 133.71,467.90 134.21,467.90 134.71,467.90 135.21,467.90 135.72,467.90 136.22,467.90 136.72,467.90 137.22,467.90 137.72,467.90 138.22,467.90 138.72,467.90 139.22,467.90 139.72,467.90 140.22,467.90 140.73,467.89 141.23,467.89 141.73,467.88 142.23,467.86 142.73,467.83 143.23,467.77 143.73,467.68 144.23,467.53 144.73,467.30 145.23,466.95 145.74,466.43 146.24,465.69 146.74,464.65 147.24,463.25 147.74,461.42 148.24,459.09 148.74,456.22 149.24,452.81 149.74,448.90 150.24,444.58 150.75,440.01 151.25,435.38 151.75,430.94 152.25,426.95 152.75,423.68 153.25,421.36 153.75,420.15 154.25,420.33 154.75,422.89 155.25,427.61 155.76,433.78 156.26,440.55 156.76,447.17 157.26,453.03 157.76,457.81 158.26,461.42 158.76,463.96 159.26,465.64 159.76,466.67 160.26,467.27 160.77,467.59 161.27,467.76 161.77,467.84 162.27,467.87 162.77,467.89 163.27,467.90 163.77,467.90 164.27,467.90 164.77,467.90 165.27,467.90 165.78,467.90 166.28,467.90 166.78,467.90 167.28,467.90 167.78,467.90 168.28,467.90 168.78,467.90 169.28,467.90 169.78,467.90 170.28,467.90 170.79,467.90 171.29,467.90 171.79,467.90 172.29,467.90 172.79,467.90 173.29,467.90 173.79,467.90 174.29,467.90 174.79,467.90 175.29,467.90 175.80,467.90 176.30,467.90 176.80,467.90 177.30,467.90 177.80,467.90" fill="none" stroke="#27367e" stroke-width="1.9" stroke-dasharray="1.5 1.0"/>
<polyline points="127.70,435.24 128.20,432.43 128.70,429.76 129.20,427.30 129.70,425.11 130.20,423.25 130.71,421.78 131.21,420.73 131.71,420.13 132.21,420.03 132.71,420.76 133.21,422.41 133.71,424.89 134.21,428.06 134.71,431.74 135.21,435.75 135.72,439.88 136.22,443.98 136.72,447.89 137.22,451.50 137.72,454.73 138.22,457.54 138.72,459.91 139.22,461.87 139.72,463.44 140.22,464.66 140.73,465.60 141.23,466.03 141.73,465.12 142.23,464.36 142.73,464.07 143.23,464.36 143.73,465.12 144.23,466.03 144.73,466.83 145.23,467.38 145.74,467.68 146.24,467.82 146.74,467.88 147.24,467.89 147.74,467.90 148.24,467.90 148.74,467.90 149.24,467.90 149.74,467.90 150.24,467.90 150.75,467.90 151.25,467.90 151.75,467.90 152.25,467.90 152.75,467.90 153.25,467.90 153.75,467.90 154.25,467.90 154.75,467.90 155.25,467.90 155.76,467.90 156.26,467.90 156.76,467.90 157.26,467.90 157.76,467.90 158.26,467.90 158.76,467.90 159.26,467.90 159.76,467.90 160.26,467.90 160.77,467.90 161.27,467.90 161.77,467.90 162.27,467.90 162.77,467.90 163.27,467.90 163.77,467.90 164.27,467.90 164.77,467.90 165.27,467.90 165.78,467.90 166.28,467.90 166.78,467.90 167.28,467.90 167.78,467.90 168.28,467.90 168.78,467.90 169.28,467.90 169.78,467.90 170.28,467.90 170.79,467.90 171.29,467.90 171.79,467.90 172.29,467.90 172.79,467.90 173.29,467.90 173.79,467.90 174.29,467.90 174.79,467.90 175.29,467.90 175.80,467.90 176.30,467.90 176.80,467.90 177.30,467.90 177.80,467.90" fill="none" stroke="#a8142c" stroke-width="1.9" stroke-linejoin="round"/>
<rect x="126.90" y="417.80" width="51.70" height="50.90" fill="none" stroke="#000" stroke-width="1.6" />
<line x1="122.30" y1="419.90" x2="126.10" y2="419.90" stroke="#000" stroke-width="1.2" />
<line x1="123.70" y1="421.90" x2="126.10" y2="421.90" stroke="#000" stroke-width="1.2" />
<line x1="123.70" y1="423.91" x2="126.10" y2="423.91" stroke="#000" stroke-width="1.2" />
<line x1="123.70" y1="425.91" x2="126.10" y2="425.91" stroke="#000" stroke-width="1.2" />
<line x1="123.70" y1="427.92" x2="126.10" y2="427.92" stroke="#000" stroke-width="1.2" />
<line x1="122.30" y1="429.92" x2="126.10" y2="429.92" stroke="#000" stroke-width="1.2" />
<line x1="123.70" y1="431.92" x2="126.10" y2="431.92" stroke="#000" stroke-width="1.2" />
<line x1="123.70" y1="433.93" x2="126.10" y2="433.93" stroke="#000" stroke-width="1.2" />
<line x1="123.70" y1="435.93" x2="126.10" y2="435.93" stroke="#000" stroke-width="1.2" />
<line x1="123.70" y1="437.94" x2="126.10" y2="437.94" stroke="#000" stroke-width="1.2" />
<line x1="122.30" y1="439.94" x2="126.10" y2="439.94" stroke="#000" stroke-width="1.2" />
<line x1="123.70" y1="441.94" x2="126.10" y2="441.94" stroke="#000" stroke-width="1.2" />
<line x1="123.70" y1="443.95" x2="126.10" y2="443.95" stroke="#000" stroke-width="1.2" />
<line x1="123.70" y1="445.95" x2="126.10" y2="445.95" stroke="#000" stroke-width="1.2" />
<line x1="123.70" y1="447.96" x2="126.10" y2="447.96" stroke="#000" stroke-width="1.2" />
<line x1="122.30" y1="449.96" x2="126.10" y2="449.96" stroke="#000" stroke-width="1.2" />
<line x1="123.70" y1="451.96" x2="126.10" y2="451.96" stroke="#000" stroke-width="1.2" />
<line x1="123.70" y1="453.97" x2="126.10" y2="453.97" stroke="#000" stroke-width="1.2" />
<line x1="123.70" y1="455.97" x2="126.10" y2="455.97" stroke="#000" stroke-width="1.2" />
<line x1="123.70" y1="457.98" x2="126.10" y2="457.98" stroke="#000" stroke-width="1.2" />
<line x1="122.30" y1="459.98" x2="126.10" y2="459.98" stroke="#000" stroke-width="1.2" />
<line x1="123.70" y1="461.98" x2="126.10" y2="461.98" stroke="#000" stroke-width="1.2" />
<line x1="123.70" y1="463.99" x2="126.10" y2="463.99" stroke="#000" stroke-width="1.2" />
<line x1="123.70" y1="465.99" x2="126.10" y2="465.99" stroke="#000" stroke-width="1.2" />
<line x1="123.70" y1="468.00" x2="126.10" y2="468.00" stroke="#000" stroke-width="1.2" />
<line x1="122.30" y1="470.00" x2="126.10" y2="470.00" stroke="#000" stroke-width="1.2" />
<line x1="127.70" y1="469.50" x2="127.70" y2="473.70" stroke="#000" stroke-width="1.3" />
<line x1="131.47" y1="469.50" x2="131.47" y2="472.30" stroke="#000" stroke-width="1.3" />
<line x1="133.68" y1="469.50" x2="133.68" y2="472.30" stroke="#000" stroke-width="1.3" />
<line x1="135.24" y1="469.50" x2="135.24" y2="472.30" stroke="#000" stroke-width="1.3" />
<line x1="136.45" y1="469.50" x2="136.45" y2="472.30" stroke="#000" stroke-width="1.3" />
<line x1="137.45" y1="469.50" x2="137.45" y2="472.30" stroke="#000" stroke-width="1.3" />
<line x1="138.28" y1="469.50" x2="138.28" y2="472.30" stroke="#000" stroke-width="1.3" />
<line x1="139.01" y1="469.50" x2="139.01" y2="472.30" stroke="#000" stroke-width="1.3" />
<line x1="139.65" y1="469.50" x2="139.65" y2="472.30" stroke="#000" stroke-width="1.3" />
<line x1="140.22" y1="469.50" x2="140.22" y2="473.70" stroke="#000" stroke-width="1.3" />
<line x1="144.00" y1="469.50" x2="144.00" y2="472.30" stroke="#000" stroke-width="1.3" />
<line x1="146.20" y1="469.50" x2="146.20" y2="472.30" stroke="#000" stroke-width="1.3" />
<line x1="147.77" y1="469.50" x2="147.77" y2="472.30" stroke="#000" stroke-width="1.3" />
<line x1="148.98" y1="469.50" x2="148.98" y2="472.30" stroke="#000" stroke-width="1.3" />
<line x1="149.97" y1="469.50" x2="149.97" y2="472.30" stroke="#000" stroke-width="1.3" />
<line x1="150.81" y1="469.50" x2="150.81" y2="472.30" stroke="#000" stroke-width="1.3" />
<line x1="151.54" y1="469.50" x2="151.54" y2="472.30" stroke="#000" stroke-width="1.3" />
<line x1="152.18" y1="469.50" x2="152.18" y2="472.30" stroke="#000" stroke-width="1.3" />
<line x1="152.75" y1="469.50" x2="152.75" y2="473.70" stroke="#000" stroke-width="1.3" />
<line x1="156.52" y1="469.50" x2="156.52" y2="472.30" stroke="#000" stroke-width="1.3" />
<line x1="158.73" y1="469.50" x2="158.73" y2="472.30" stroke="#000" stroke-width="1.3" />
<line x1="160.29" y1="469.50" x2="160.29" y2="472.30" stroke="#000" stroke-width="1.3" />
<line x1="161.50" y1="469.50" x2="161.50" y2="472.30" stroke="#000" stroke-width="1.3" />
<line x1="162.50" y1="469.50" x2="162.50" y2="472.30" stroke="#000" stroke-width="1.3" />
<line x1="163.33" y1="469.50" x2="163.33" y2="472.30" stroke="#000" stroke-width="1.3" />
<line x1="164.06" y1="469.50" x2="164.06" y2="472.30" stroke="#000" stroke-width="1.3" />
<line x1="164.70" y1="469.50" x2="164.70" y2="472.30" stroke="#000" stroke-width="1.3" />
<line x1="165.27" y1="469.50" x2="165.27" y2="473.70" stroke="#000" stroke-width="1.3" />
<line x1="169.05" y1="469.50" x2="169.05" y2="472.30" stroke="#000" stroke-width="1.3" />
<line x1="171.25" y1="469.50" x2="171.25" y2="472.30" stroke="#000" stroke-width="1.3" />
<line x1="172.82" y1="469.50" x2="172.82" y2="472.30" stroke="#000" stroke-width="1.3" />
<line x1="174.03" y1="469.50" x2="174.03" y2="472.30" stroke="#000" stroke-width="1.3" />
<line x1="175.02" y1="469.50" x2="175.02" y2="472.30" stroke="#000" stroke-width="1.3" />
<line x1="175.86" y1="469.50" x2="175.86" y2="472.30" stroke="#000" stroke-width="1.3" />
<line x1="176.59" y1="469.50" x2="176.59" y2="472.30" stroke="#000" stroke-width="1.3" />
<line x1="177.23" y1="469.50" x2="177.23" y2="472.30" stroke="#000" stroke-width="1.3" />
<line x1="177.80" y1="469.50" x2="177.80" y2="473.70" stroke="#000" stroke-width="1.1" />
<text x="117.70" y="422.50" font-size="7.8" text-anchor="end" fill="#1a1a1a" textLength="12.81" lengthAdjust="spacingAndGlyphs" >100</text>
<text x="117.70" y="432.52" font-size="7.8" text-anchor="end" fill="#1a1a1a" textLength="8.54" lengthAdjust="spacingAndGlyphs" >80</text>
<text x="117.70" y="442.54" font-size="7.8" text-anchor="end" fill="#1a1a1a" textLength="8.54" lengthAdjust="spacingAndGlyphs" >60</text>
<text x="117.70" y="452.56" font-size="7.8" text-anchor="end" fill="#1a1a1a" textLength="8.54" lengthAdjust="spacingAndGlyphs" >40</text>
<text x="117.70" y="462.58" font-size="7.8" text-anchor="end" fill="#1a1a1a" textLength="8.54" lengthAdjust="spacingAndGlyphs" >20</text>
<text x="117.70" y="472.60" font-size="7.8" text-anchor="end" fill="#1a1a1a" textLength="4.27" lengthAdjust="spacingAndGlyphs" >0</text>
<text x="121.50" y="485.05" font-size="7.7" text-anchor="start" fill="#1a1a1a" textLength="62.80" lengthAdjust="spacingAndGlyphs" >10<tspan dy="-2.6" font-size="4.6">0</tspan><tspan dy="2.6">10</tspan><tspan dy="-2.6" font-size="4.6">1</tspan><tspan dy="2.6">10</tspan><tspan dy="-2.6" font-size="4.6">2</tspan><tspan dy="2.6">10</tspan><tspan dy="-2.6" font-size="4.6">3</tspan><tspan dy="2.6">10</tspan><tspan dy="-2.6" font-size="4.6">4</tspan></text>
<polygon points="208.90,467.90 208.90,423.68 209.40,422.39 209.90,421.36 210.40,420.61 210.90,420.15 211.41,420.00 211.91,420.42 212.41,421.67 212.91,423.68 213.41,426.35 213.91,429.54 214.41,433.12 214.91,436.91 215.41,440.78 215.91,444.58 216.41,448.21 216.92,451.56 217.42,454.58 217.92,457.24 218.42,459.51 218.92,461.42 219.42,462.98 219.92,464.23 220.42,465.21 220.92,465.96 221.43,466.53 221.93,466.95 222.43,467.25 222.93,467.47 223.43,467.61 223.93,467.71 224.43,467.78 224.93,467.83 225.43,467.85 225.93,467.87 226.44,467.88 226.94,467.89 227.44,467.89 227.94,467.90 228.44,467.90 228.94,467.90 229.44,467.90 229.94,467.90 230.44,467.90 230.94,467.90 231.44,467.90 231.95,467.90 232.45,467.90 232.95,467.90 233.45,467.90 233.95,467.90 234.45,467.90 234.95,467.90 235.45,467.90 235.95,467.90 236.46,467.90 236.96,467.90 237.46,467.90 237.96,467.90 238.46,467.90 238.96,467.90 239.46,467.90 239.96,467.90 240.46,467.90 240.96,467.90 241.47,467.90 241.97,467.90 242.47,467.90 242.97,467.90 243.47,467.90 243.97,467.90 244.47,467.90 244.97,467.90 245.47,467.90 245.97,467.90 246.47,467.90 246.98,467.90 247.48,467.90 247.98,467.90 248.48,467.90 248.98,467.90 249.48,467.90 249.98,467.90 250.48,467.90 250.98,467.90 251.49,467.90 251.99,467.90 252.49,467.90 252.99,467.90 253.49,467.90 253.99,467.90 254.49,467.90 254.99,467.90 255.49,467.90 255.99,467.90 256.50,467.90 257.00,467.90 257.50,467.90 258.00,467.90 258.50,467.90 259.00,467.90 259.00,467.90" fill="#efc6bf" stroke="none"/>
<polyline points="208.90,427.89 209.40,426.06 209.90,424.42 210.40,423.01 210.90,421.84 211.41,420.95 211.91,420.34 212.41,420.04 212.91,420.07 213.41,420.66 213.91,421.81 214.41,423.49 214.91,425.63 215.41,428.16 215.91,431.00 216.41,434.05 216.92,437.23 217.42,440.46 217.92,443.65 218.42,446.73 218.92,449.64 219.42,452.35 219.92,454.82 220.42,457.03 220.92,458.98 221.43,460.67 221.93,462.11 222.43,463.32 222.93,464.32 223.43,465.14 223.93,465.80 224.43,466.32 224.93,466.72 225.43,467.03 225.93,467.27 226.44,467.45 226.94,467.58 227.44,467.68 227.94,467.75 228.44,467.80 228.94,467.83 229.44,467.85 229.94,467.87 230.44,467.88 230.94,467.89 231.44,467.89 231.95,467.89 232.45,467.90 232.95,467.90 233.45,467.90 233.95,467.90 234.45,467.90 234.95,467.90 235.45,467.90 235.95,467.90 236.46,467.90 236.96,467.90 237.46,467.90 237.96,467.90 238.46,467.90 238.96,467.90 239.46,467.90 239.96,467.90 240.46,467.90 240.96,467.90 241.47,467.90 241.97,467.90 242.47,467.90 242.97,467.90 243.47,467.90 243.97,467.90 244.47,467.90 244.97,467.90 245.47,467.90 245.97,467.90 246.47,467.90 246.98,467.90 247.48,467.90 247.98,467.90 248.48,467.90 248.98,467.90 249.48,467.90 249.98,467.90 250.48,467.90 250.98,467.90 251.49,467.90 251.99,467.90 252.49,467.90 252.99,467.90 253.49,467.90 253.99,467.90 254.49,467.90 254.99,467.90 255.49,467.90 255.99,467.90 256.50,467.90 257.00,467.90 257.50,467.90 258.00,467.90 258.50,467.90 259.00,467.90" fill="none" stroke="#62a83c" stroke-width="1.3"/>
<polyline points="208.90,467.90 209.40,467.90 209.90,467.90 210.40,467.90 210.90,467.90 211.41,467.90 211.91,467.90 212.41,467.90 212.91,467.90 213.41,467.90 213.91,467.90 214.41,467.90 214.91,467.90 215.41,467.90 215.91,467.90 216.41,467.90 216.92,467.90 217.42,467.90 217.92,467.90 218.42,467.90 218.92,467.90 219.42,467.90 219.92,467.90 220.42,467.90 220.92,467.90 221.43,467.90 221.93,467.90 222.43,467.90 222.93,467.90 223.43,467.89 223.93,467.89 224.43,467.87 224.93,467.84 225.43,467.78 225.93,467.66 226.44,467.44 226.94,467.07 227.44,466.47 227.94,465.52 228.44,464.09 228.94,462.04 229.44,459.25 229.94,455.62 230.44,451.16 230.94,445.97 231.44,440.30 231.95,434.52 232.45,429.12 232.95,424.61 233.45,421.47 233.95,420.06 234.45,420.34 234.95,421.84 235.45,424.42 235.95,427.89 236.46,432.02 236.96,436.53 237.46,441.17 237.96,445.70 238.46,449.92 238.96,453.71 239.46,456.99 239.96,459.72 240.46,461.92 240.96,463.64 241.47,464.94 241.97,465.90 242.47,466.58 242.97,467.05 243.47,467.37 243.97,467.57 244.47,467.71 244.97,467.79 245.47,467.84 245.97,467.86 246.47,467.88 246.98,467.89 247.48,467.89 247.98,467.90 248.48,467.90 248.98,467.90 249.48,467.90 249.98,467.90 250.48,467.90 250.98,467.90 251.49,467.90 251.99,467.90 252.49,467.90 252.99,467.90 253.49,467.90 253.99,467.90 254.49,467.90 254.99,467.90 255.49,467.90 255.99,467.90 256.50,467.90 257.00,467.90 257.50,467.90 258.00,467.90 258.50,467.90 259.00,467.90" fill="none" stroke="#43266f" stroke-width="1.9"/>
<polyline points="208.90,467.90 209.40,467.90 209.90,467.90 210.40,467.90 210.90,467.90 211.41,467.90 211.91,467.90 212.41,467.90 212.91,467.90 213.41,467.90 213.91,467.90 214.41,467.90 214.91,467.90 215.41,467.90 215.91,467.90 216.41,467.90 216.92,467.90 217.42,467.90 217.92,467.90 218.42,467.90 218.92,467.90 219.42,467.90 219.92,467.90 220.42,467.89 220.92,467.88 221.43,467.85 221.93,467.80 222.43,467.68 222.93,467.45 223.43,467.03 223.93,466.32 224.43,465.14 224.93,463.32 225.43,460.67 225.93,457.03 226.44,452.35 226.94,446.73 227.44,440.46 227.94,434.05 228.44,428.16 228.94,423.49 229.44,420.66 229.94,420.05 230.44,421.22 230.94,423.85 231.44,427.67 231.95,432.36 232.45,437.53 232.95,442.79 233.45,447.81 233.95,452.35 234.45,456.26 234.95,459.46 235.45,461.99 235.95,463.89 236.46,465.27 236.96,466.23 237.46,466.87 237.96,467.29 238.46,467.55 238.96,467.71 239.46,467.80 239.96,467.85 240.46,467.87 240.96,467.89 241.47,467.89 241.97,467.90 242.47,467.90 242.97,467.90 243.47,467.90 243.97,467.90 244.47,467.90 244.97,467.90 245.47,467.90 245.97,467.90 246.47,467.90 246.98,467.90 247.48,467.90 247.98,467.90 248.48,467.90 248.98,467.90 249.48,467.90 249.98,467.90 250.48,467.90 250.98,467.90 251.49,467.90 251.99,467.90 252.49,467.90 252.99,467.90 253.49,467.90 253.99,467.90 254.49,467.90 254.99,467.90 255.49,467.90 255.99,467.90 256.50,467.90 257.00,467.90 257.50,467.90 258.00,467.90 258.50,467.90 259.00,467.90" fill="none" stroke="#27367e" stroke-width="1.9" stroke-dasharray="1.5 1.0"/>
<polyline points="208.90,423.68 209.40,422.39 209.90,421.36 210.40,420.61 210.90,420.15 211.41,420.00 211.91,420.42 212.41,421.67 212.91,423.68 213.41,426.35 213.91,429.54 214.41,433.12 214.91,436.91 215.41,440.78 215.91,444.58 216.41,448.21 216.92,451.56 217.42,454.58 217.92,457.24 218.42,459.51 218.92,461.42 219.42,462.98 219.92,464.23 220.42,465.21 220.92,465.96 221.43,466.53 221.93,466.95 222.43,467.25 222.93,467.47 223.43,467.61 223.93,467.71 224.43,467.78 224.93,467.83 225.43,467.85 225.93,467.87 226.44,467.88 226.94,467.89 227.44,467.89 227.94,467.90 228.44,467.90 228.94,467.90 229.44,467.90 229.94,467.90 230.44,467.90 230.94,467.90 231.44,467.90 231.95,467.90 232.45,467.90 232.95,467.90 233.45,467.90 233.95,467.90 234.45,467.90 234.95,467.90 235.45,467.90 235.95,467.90 236.46,467.90 236.96,467.90 237.46,467.90 237.96,467.90 238.46,467.90 238.96,467.90 239.46,467.90 239.96,467.90 240.46,467.90 240.96,467.90 241.47,467.90 241.97,467.90 242.47,467.90 242.97,467.90 243.47,467.90 243.97,467.90 244.47,467.90 244.97,467.90 245.47,467.90 245.97,467.90 246.47,467.90 246.98,467.90 247.48,467.90 247.98,467.90 248.48,467.90 248.98,467.90 249.48,467.90 249.98,467.90 250.48,467.90 250.98,467.90 251.49,467.90 251.99,467.90 252.49,467.90 252.99,467.90 253.49,467.90 253.99,467.90 254.49,467.90 254.99,467.90 255.49,467.90 255.99,467.90 256.50,467.90 257.00,467.90 257.50,467.90 258.00,467.90 258.50,467.90 259.00,467.90" fill="none" stroke="#a8142c" stroke-width="1.9" stroke-linejoin="round"/>
<rect x="208.10" y="417.80" width="51.70" height="50.90" fill="none" stroke="#000" stroke-width="1.6" />
<line x1="203.50" y1="419.90" x2="207.30" y2="419.90" stroke="#000" stroke-width="1.2" />
<line x1="204.90" y1="421.90" x2="207.30" y2="421.90" stroke="#000" stroke-width="1.2" />
<line x1="204.90" y1="423.91" x2="207.30" y2="423.91" stroke="#000" stroke-width="1.2" />
<line x1="204.90" y1="425.91" x2="207.30" y2="425.91" stroke="#000" stroke-width="1.2" />
<line x1="204.90" y1="427.92" x2="207.30" y2="427.92" stroke="#000" stroke-width="1.2" />
<line x1="203.50" y1="429.92" x2="207.30" y2="429.92" stroke="#000" stroke-width="1.2" />
<line x1="204.90" y1="431.92" x2="207.30" y2="431.92" stroke="#000" stroke-width="1.2" />
<line x1="204.90" y1="433.93" x2="207.30" y2="433.93" stroke="#000" stroke-width="1.2" />
<line x1="204.90" y1="435.93" x2="207.30" y2="435.93" stroke="#000" stroke-width="1.2" />
<line x1="204.90" y1="437.94" x2="207.30" y2="437.94" stroke="#000" stroke-width="1.2" />
<line x1="203.50" y1="439.94" x2="207.30" y2="439.94" stroke="#000" stroke-width="1.2" />
<line x1="204.90" y1="441.94" x2="207.30" y2="441.94" stroke="#000" stroke-width="1.2" />
<line x1="204.90" y1="443.95" x2="207.30" y2="443.95" stroke="#000" stroke-width="1.2" />
<line x1="204.90" y1="445.95" x2="207.30" y2="445.95" stroke="#000" stroke-width="1.2" />
<line x1="204.90" y1="447.96" x2="207.30" y2="447.96" stroke="#000" stroke-width="1.2" />
<line x1="203.50" y1="449.96" x2="207.30" y2="449.96" stroke="#000" stroke-width="1.2" />
<line x1="204.90" y1="451.96" x2="207.30" y2="451.96" stroke="#000" stroke-width="1.2" />
<line x1="204.90" y1="453.97" x2="207.30" y2="453.97" stroke="#000" stroke-width="1.2" />
<line x1="204.90" y1="455.97" x2="207.30" y2="455.97" stroke="#000" stroke-width="1.2" />
<line x1="204.90" y1="457.98" x2="207.30" y2="457.98" stroke="#000" stroke-width="1.2" />
<line x1="203.50" y1="459.98" x2="207.30" y2="459.98" stroke="#000" stroke-width="1.2" />
<line x1="204.90" y1="461.98" x2="207.30" y2="461.98" stroke="#000" stroke-width="1.2" />
<line x1="204.90" y1="463.99" x2="207.30" y2="463.99" stroke="#000" stroke-width="1.2" />
<line x1="204.90" y1="465.99" x2="207.30" y2="465.99" stroke="#000" stroke-width="1.2" />
<line x1="204.90" y1="468.00" x2="207.30" y2="468.00" stroke="#000" stroke-width="1.2" />
<line x1="203.50" y1="470.00" x2="207.30" y2="470.00" stroke="#000" stroke-width="1.2" />
<line x1="208.90" y1="469.50" x2="208.90" y2="473.70" stroke="#000" stroke-width="1.3" />
<line x1="212.67" y1="469.50" x2="212.67" y2="472.30" stroke="#000" stroke-width="1.3" />
<line x1="214.88" y1="469.50" x2="214.88" y2="472.30" stroke="#000" stroke-width="1.3" />
<line x1="216.44" y1="469.50" x2="216.44" y2="472.30" stroke="#000" stroke-width="1.3" />
<line x1="217.65" y1="469.50" x2="217.65" y2="472.30" stroke="#000" stroke-width="1.3" />
<line x1="218.65" y1="469.50" x2="218.65" y2="472.30" stroke="#000" stroke-width="1.3" />
<line x1="219.48" y1="469.50" x2="219.48" y2="472.30" stroke="#000" stroke-width="1.3" />
<line x1="220.21" y1="469.50" x2="220.21" y2="472.30" stroke="#000" stroke-width="1.3" />
<line x1="220.85" y1="469.50" x2="220.85" y2="472.30" stroke="#000" stroke-width="1.3" />
<line x1="221.43" y1="469.50" x2="221.43" y2="473.70" stroke="#000" stroke-width="1.3" />
<line x1="225.20" y1="469.50" x2="225.20" y2="472.30" stroke="#000" stroke-width="1.3" />
<line x1="227.40" y1="469.50" x2="227.40" y2="472.30" stroke="#000" stroke-width="1.3" />
<line x1="228.97" y1="469.50" x2="228.97" y2="472.30" stroke="#000" stroke-width="1.3" />
<line x1="230.18" y1="469.50" x2="230.18" y2="472.30" stroke="#000" stroke-width="1.3" />
<line x1="231.17" y1="469.50" x2="231.17" y2="472.30" stroke="#000" stroke-width="1.3" />
<line x1="232.01" y1="469.50" x2="232.01" y2="472.30" stroke="#000" stroke-width="1.3" />
<line x1="232.74" y1="469.50" x2="232.74" y2="472.30" stroke="#000" stroke-width="1.3" />
<line x1="233.38" y1="469.50" x2="233.38" y2="472.30" stroke="#000" stroke-width="1.3" />
<line x1="233.95" y1="469.50" x2="233.95" y2="473.70" stroke="#000" stroke-width="1.3" />
<line x1="237.72" y1="469.50" x2="237.72" y2="472.30" stroke="#000" stroke-width="1.3" />
<line x1="239.93" y1="469.50" x2="239.93" y2="472.30" stroke="#000" stroke-width="1.3" />
<line x1="241.49" y1="469.50" x2="241.49" y2="472.30" stroke="#000" stroke-width="1.3" />
<line x1="242.70" y1="469.50" x2="242.70" y2="472.30" stroke="#000" stroke-width="1.3" />
<line x1="243.70" y1="469.50" x2="243.70" y2="472.30" stroke="#000" stroke-width="1.3" />
<line x1="244.53" y1="469.50" x2="244.53" y2="472.30" stroke="#000" stroke-width="1.3" />
<line x1="245.26" y1="469.50" x2="245.26" y2="472.30" stroke="#000" stroke-width="1.3" />
<line x1="245.90" y1="469.50" x2="245.90" y2="472.30" stroke="#000" stroke-width="1.3" />
<line x1="246.47" y1="469.50" x2="246.47" y2="473.70" stroke="#000" stroke-width="1.3" />
<line x1="250.25" y1="469.50" x2="250.25" y2="472.30" stroke="#000" stroke-width="1.3" />
<line x1="252.45" y1="469.50" x2="252.45" y2="472.30" stroke="#000" stroke-width="1.3" />
<line x1="254.02" y1="469.50" x2="254.02" y2="472.30" stroke="#000" stroke-width="1.3" />
<line x1="255.23" y1="469.50" x2="255.23" y2="472.30" stroke="#000" stroke-width="1.3" />
<line x1="256.22" y1="469.50" x2="256.22" y2="472.30" stroke="#000" stroke-width="1.3" />
<line x1="257.06" y1="469.50" x2="257.06" y2="472.30" stroke="#000" stroke-width="1.3" />
<line x1="257.79" y1="469.50" x2="257.79" y2="472.30" stroke="#000" stroke-width="1.3" />
<line x1="258.43" y1="469.50" x2="258.43" y2="472.30" stroke="#000" stroke-width="1.3" />
<line x1="259.00" y1="469.50" x2="259.00" y2="473.70" stroke="#000" stroke-width="1.1" />
<text x="198.90" y="422.50" font-size="7.8" text-anchor="end" fill="#1a1a1a" textLength="12.81" lengthAdjust="spacingAndGlyphs" >100</text>
<text x="198.90" y="432.52" font-size="7.8" text-anchor="end" fill="#1a1a1a" textLength="8.54" lengthAdjust="spacingAndGlyphs" >80</text>
<text x="198.90" y="442.54" font-size="7.8" text-anchor="end" fill="#1a1a1a" textLength="8.54" lengthAdjust="spacingAndGlyphs" >60</text>
<text x="198.90" y="452.56" font-size="7.8" text-anchor="end" fill="#1a1a1a" textLength="8.54" lengthAdjust="spacingAndGlyphs" >40</text>
<text x="198.90" y="462.58" font-size="7.8" text-anchor="end" fill="#1a1a1a" textLength="8.54" lengthAdjust="spacingAndGlyphs" >20</text>
<text x="198.90" y="472.60" font-size="7.8" text-anchor="end" fill="#1a1a1a" textLength="4.27" lengthAdjust="spacingAndGlyphs" >0</text>
<text x="202.70" y="485.05" font-size="7.7" text-anchor="start" fill="#1a1a1a" textLength="62.80" lengthAdjust="spacingAndGlyphs" >10<tspan dy="-2.6" font-size="4.6">0</tspan><tspan dy="2.6">10</tspan><tspan dy="-2.6" font-size="4.6">1</tspan><tspan dy="2.6">10</tspan><tspan dy="-2.6" font-size="4.6">2</tspan><tspan dy="2.6">10</tspan><tspan dy="-2.6" font-size="4.6">3</tspan><tspan dy="2.6">10</tspan><tspan dy="-2.6" font-size="4.6">4</tspan></text>
<polygon points="290.20,467.90 290.20,445.51 290.70,441.74 291.20,437.88 291.70,434.05 292.20,430.41 292.71,427.10 293.21,424.29 293.71,422.11 294.21,420.66 294.71,420.03 295.21,420.95 295.71,424.94 296.21,431.29 296.71,438.85 297.21,446.42 297.72,453.12 298.22,458.42 298.72,462.24 299.22,464.75 299.72,466.27 300.22,467.11 300.72,467.55 301.22,467.60 301.72,467.13 302.22,466.37 302.73,465.54 303.23,465.05 303.73,465.22 304.23,465.94 304.73,466.78 305.23,467.40 305.73,467.73 306.23,467.85 306.73,467.89 307.23,467.90 307.74,467.90 308.24,467.90 308.74,467.90 309.24,467.90 309.74,467.90 310.24,467.90 310.74,467.90 311.24,467.90 311.74,467.90 312.24,467.90 312.75,467.90 313.25,467.90 313.75,467.90 314.25,467.90 314.75,467.90 315.25,467.90 315.75,467.90 316.25,467.90 316.75,467.90 317.25,467.90 317.76,467.90 318.26,467.90 318.76,467.90 319.26,467.90 319.76,467.90 320.26,467.90 320.76,467.90 321.26,467.90 321.76,467.90 322.26,467.90 322.77,467.90 323.27,467.90 323.77,467.90 324.27,467.90 324.77,467.90 325.27,467.90 325.77,467.90 326.27,467.90 326.77,467.90 327.27,467.90 327.78,467.90 328.28,467.90 328.78,467.90 329.28,467.90 329.78,467.90 330.28,467.90 330.78,467.90 331.28,467.90 331.78,467.90 332.28,467.90 332.79,467.90 333.29,467.90 333.79,467.90 334.29,467.90 334.79,467.90 335.29,467.90 335.79,467.90 336.29,467.90 336.79,467.90 337.29,467.90 337.80,467.90 338.30,467.90 338.80,467.90 339.30,467.90 339.80,467.90 340.30,467.90 340.30,467.90" fill="#efc6bf" stroke="none"/>
<polyline points="290.20,461.42 290.70,459.51 291.20,457.24 291.70,454.58 292.20,451.56 292.71,448.21 293.21,444.58 293.71,440.78 294.21,436.91 294.71,433.12 295.21,429.54 295.71,426.35 296.21,423.68 296.71,421.67 297.21,420.42 297.72,420.00 298.22,420.42 298.72,421.67 299.22,423.68 299.72,426.35 300.22,429.54 300.72,433.12 301.22,436.91 301.72,440.78 302.22,444.58 302.73,448.21 303.23,451.56 303.73,454.58 304.23,457.24 304.73,459.51 305.23,461.42 305.73,462.98 306.23,464.23 306.73,465.21 307.23,465.96 307.74,466.53 308.24,466.95 308.74,467.25 309.24,467.47 309.74,467.61 310.24,467.71 310.74,467.78 311.24,467.83 311.74,467.85 312.24,467.87 312.75,467.88 313.25,467.89 313.75,467.89 314.25,467.90 314.75,467.90 315.25,467.90 315.75,467.90 316.25,467.90 316.75,467.90 317.25,467.90 317.76,467.90 318.26,467.90 318.76,467.90 319.26,467.90 319.76,467.90 320.26,467.90 320.76,467.90 321.26,467.90 321.76,467.90 322.26,467.90 322.77,467.90 323.27,467.90 323.77,467.90 324.27,467.90 324.77,467.90 325.27,467.90 325.77,467.90 326.27,467.90 326.77,467.90 327.27,467.90 327.78,467.90 328.28,467.90 328.78,467.90 329.28,467.90 329.78,467.90 330.28,467.90 330.78,467.90 331.28,467.90 331.78,467.90 332.28,467.90 332.79,467.90 333.29,467.90 333.79,467.90 334.29,467.90 334.79,467.90 335.29,467.90 335.79,467.90 336.29,467.90 336.79,467.90 337.29,467.90 337.80,467.90 338.30,467.90 338.80,467.90 339.30,467.90 339.80,467.90 340.30,467.90" fill="none" stroke="#62a83c" stroke-width="1.3"/>
<polyline points="290.20,465.21 290.70,464.23 291.20,462.98 291.70,461.42 292.20,459.51 292.71,457.24 293.21,454.58 293.71,451.56 294.21,448.21 294.71,444.58 295.21,440.78 295.71,436.91 296.21,433.12 296.71,429.54 297.21,426.35 297.72,423.68 298.22,421.67 298.72,420.42 299.22,420.00 299.72,420.49 300.22,421.06 300.72,421.10 301.22,422.19 301.72,424.30 302.22,427.29 302.73,430.96 303.23,435.08 303.73,439.43 304.23,443.78 304.73,447.94 305.23,451.77 305.73,455.17 306.23,458.09 306.73,460.51 307.23,462.47 307.74,464.00 308.24,465.17 308.74,466.03 309.24,466.65 309.74,467.08 310.24,467.38 310.74,467.58 311.24,467.70 311.74,467.78 312.24,467.83 312.75,467.86 313.25,467.88 313.75,467.89 314.25,467.89 314.75,467.90 315.25,467.90 315.75,467.90 316.25,467.90 316.75,467.90 317.25,467.90 317.76,467.90 318.26,467.90 318.76,467.90 319.26,467.90 319.76,467.90 320.26,467.90 320.76,467.90 321.26,467.90 321.76,467.90 322.26,467.90 322.77,467.90 323.27,467.90 323.77,467.90 324.27,467.90 324.77,467.90 325.27,467.90 325.77,467.90 326.27,467.90 326.77,467.90 327.27,467.90 327.78,467.90 328.28,467.90 328.78,467.90 329.28,467.90 329.78,467.90 330.28,467.90 330.78,467.90 331.28,467.90 331.78,467.90 332.28,467.90 332.79,467.90 333.29,467.90 333.79,467.90 334.29,467.90 334.79,467.90 335.29,467.90 335.79,467.90 336.29,467.90 336.79,467.90 337.29,467.90 337.80,467.90 338.30,467.90 338.80,467.90 339.30,467.90 339.80,467.90 340.30,467.90" fill="none" stroke="#43266f" stroke-width="1.9"/>
<polyline points="290.20,464.75 290.70,463.64 291.20,462.24 291.70,460.51 292.20,458.42 292.71,455.96 293.21,453.12 293.71,449.92 294.21,446.42 294.71,442.70 295.21,438.85 295.71,435.00 296.21,431.29 296.71,427.89 297.21,424.94 297.72,422.59 298.22,420.95 298.72,420.11 299.22,420.15 299.72,421.36 300.22,420.96 300.72,421.51 301.22,423.13 301.72,425.70 302.22,429.06 302.73,432.98 303.23,437.24 303.73,441.61 304.23,445.89 304.73,449.90 305.23,453.53 305.73,456.69 306.23,459.36 306.73,461.55 307.23,463.28 307.74,464.63 308.24,465.63 308.74,466.36 309.24,466.89 309.74,467.25 310.24,467.49 310.74,467.65 311.24,467.75 311.74,467.81 312.24,467.85 312.75,467.87 313.25,467.88 313.75,467.89 314.25,467.90 314.75,467.90 315.25,467.90 315.75,467.90 316.25,467.90 316.75,467.90 317.25,467.90 317.76,467.90 318.26,467.90 318.76,467.90 319.26,467.90 319.76,467.90 320.26,467.90 320.76,467.90 321.26,467.90 321.76,467.90 322.26,467.90 322.77,467.90 323.27,467.90 323.77,467.90 324.27,467.90 324.77,467.90 325.27,467.90 325.77,467.90 326.27,467.90 326.77,467.90 327.27,467.90 327.78,467.90 328.28,467.90 328.78,467.90 329.28,467.90 329.78,467.90 330.28,467.90 330.78,467.90 331.28,467.90 331.78,467.90 332.28,467.90 332.79,467.90 333.29,467.90 333.79,467.90 334.29,467.90 334.79,467.90 335.29,467.90 335.79,467.90 336.29,467.90 336.79,467.90 337.29,467.90 337.80,467.90 338.30,467.90 338.80,467.90 339.30,467.90 339.80,467.90 340.30,467.90" fill="none" stroke="#27367e" stroke-width="1.9" stroke-dasharray="1.5 1.0"/>
<polyline points="290.20,445.51 290.70,441.74 291.20,437.88 291.70,434.05 292.20,430.41 292.71,427.10 293.21,424.29 293.71,422.11 294.21,420.66 294.71,420.03 295.21,420.95 295.71,424.94 296.21,431.29 296.71,438.85 297.21,446.42 297.72,453.12 298.22,458.42 298.72,462.24 299.22,464.75 299.72,466.27 300.22,467.11 300.72,467.55 301.22,467.60 301.72,467.13 302.22,466.37 302.73,465.54 303.23,465.05 303.73,465.22 304.23,465.94 304.73,466.78 305.23,467.40 305.73,467.73 306.23,467.85 306.73,467.89 307.23,467.90 307.74,467.90 308.24,467.90 308.74,467.90 309.24,467.90 309.74,467.90 310.24,467.90 310.74,467.90 311.24,467.90 311.74,467.90 312.24,467.90 312.75,467.90 313.25,467.90 313.75,467.90 314.25,467.90 314.75,467.90 315.25,467.90 315.75,467.90 316.25,467.90 316.75,467.90 317.25,467.90 317.76,467.90 318.26,467.90 318.76,467.90 319.26,467.90 319.76,467.90 320.26,467.90 320.76,467.90 321.26,467.90 321.76,467.90 322.26,467.90 322.77,467.90 323.27,467.90 323.77,467.90 324.27,467.90 324.77,467.90 325.27,467.90 325.77,467.90 326.27,467.90 326.77,467.90 327.27,467.90 327.78,467.90 328.28,467.90 328.78,467.90 329.28,467.90 329.78,467.90 330.28,467.90 330.78,467.90 331.28,467.90 331.78,467.90 332.28,467.90 332.79,467.90 333.29,467.90 333.79,467.90 334.29,467.90 334.79,467.90 335.29,467.90 335.79,467.90 336.29,467.90 336.79,467.90 337.29,467.90 337.80,467.90 338.30,467.90 338.80,467.90 339.30,467.90 339.80,467.90 340.30,467.90" fill="none" stroke="#a8142c" stroke-width="1.9" stroke-linejoin="round"/>
<rect x="289.40" y="417.80" width="51.70" height="50.90" fill="none" stroke="#000" stroke-width="1.6" />
<line x1="284.80" y1="419.90" x2="288.60" y2="419.90" stroke="#000" stroke-width="1.2" />
<line x1="286.20" y1="421.90" x2="288.60" y2="421.90" stroke="#000" stroke-width="1.2" />
<line x1="286.20" y1="423.91" x2="288.60" y2="423.91" stroke="#000" stroke-width="1.2" />
<line x1="286.20" y1="425.91" x2="288.60" y2="425.91" stroke="#000" stroke-width="1.2" />
<line x1="286.20" y1="427.92" x2="288.60" y2="427.92" stroke="#000" stroke-width="1.2" />
<line x1="284.80" y1="429.92" x2="288.60" y2="429.92" stroke="#000" stroke-width="1.2" />
<line x1="286.20" y1="431.92" x2="288.60" y2="431.92" stroke="#000" stroke-width="1.2" />
<line x1="286.20" y1="433.93" x2="288.60" y2="433.93" stroke="#000" stroke-width="1.2" />
<line x1="286.20" y1="435.93" x2="288.60" y2="435.93" stroke="#000" stroke-width="1.2" />
<line x1="286.20" y1="437.94" x2="288.60" y2="437.94" stroke="#000" stroke-width="1.2" />
<line x1="284.80" y1="439.94" x2="288.60" y2="439.94" stroke="#000" stroke-width="1.2" />
<line x1="286.20" y1="441.94" x2="288.60" y2="441.94" stroke="#000" stroke-width="1.2" />
<line x1="286.20" y1="443.95" x2="288.60" y2="443.95" stroke="#000" stroke-width="1.2" />
<line x1="286.20" y1="445.95" x2="288.60" y2="445.95" stroke="#000" stroke-width="1.2" />
<line x1="286.20" y1="447.96" x2="288.60" y2="447.96" stroke="#000" stroke-width="1.2" />
<line x1="284.80" y1="449.96" x2="288.60" y2="449.96" stroke="#000" stroke-width="1.2" />
<line x1="286.20" y1="451.96" x2="288.60" y2="451.96" stroke="#000" stroke-width="1.2" />
<line x1="286.20" y1="453.97" x2="288.60" y2="453.97" stroke="#000" stroke-width="1.2" />
<line x1="286.20" y1="455.97" x2="288.60" y2="455.97" stroke="#000" stroke-width="1.2" />
<line x1="286.20" y1="457.98" x2="288.60" y2="457.98" stroke="#000" stroke-width="1.2" />
<line x1="284.80" y1="459.98" x2="288.60" y2="459.98" stroke="#000" stroke-width="1.2" />
<line x1="286.20" y1="461.98" x2="288.60" y2="461.98" stroke="#000" stroke-width="1.2" />
<line x1="286.20" y1="463.99" x2="288.60" y2="463.99" stroke="#000" stroke-width="1.2" />
<line x1="286.20" y1="465.99" x2="288.60" y2="465.99" stroke="#000" stroke-width="1.2" />
<line x1="286.20" y1="468.00" x2="288.60" y2="468.00" stroke="#000" stroke-width="1.2" />
<line x1="284.80" y1="470.00" x2="288.60" y2="470.00" stroke="#000" stroke-width="1.2" />
<line x1="290.20" y1="469.50" x2="290.20" y2="473.70" stroke="#000" stroke-width="1.3" />
<line x1="293.97" y1="469.50" x2="293.97" y2="472.30" stroke="#000" stroke-width="1.3" />
<line x1="296.18" y1="469.50" x2="296.18" y2="472.30" stroke="#000" stroke-width="1.3" />
<line x1="297.74" y1="469.50" x2="297.74" y2="472.30" stroke="#000" stroke-width="1.3" />
<line x1="298.95" y1="469.50" x2="298.95" y2="472.30" stroke="#000" stroke-width="1.3" />
<line x1="299.95" y1="469.50" x2="299.95" y2="472.30" stroke="#000" stroke-width="1.3" />
<line x1="300.78" y1="469.50" x2="300.78" y2="472.30" stroke="#000" stroke-width="1.3" />
<line x1="301.51" y1="469.50" x2="301.51" y2="472.30" stroke="#000" stroke-width="1.3" />
<line x1="302.15" y1="469.50" x2="302.15" y2="472.30" stroke="#000" stroke-width="1.3" />
<line x1="302.73" y1="469.50" x2="302.73" y2="473.70" stroke="#000" stroke-width="1.3" />
<line x1="306.50" y1="469.50" x2="306.50" y2="472.30" stroke="#000" stroke-width="1.3" />
<line x1="308.70" y1="469.50" x2="308.70" y2="472.30" stroke="#000" stroke-width="1.3" />
<line x1="310.27" y1="469.50" x2="310.27" y2="472.30" stroke="#000" stroke-width="1.3" />
<line x1="311.48" y1="469.50" x2="311.48" y2="472.30" stroke="#000" stroke-width="1.3" />
<line x1="312.47" y1="469.50" x2="312.47" y2="472.30" stroke="#000" stroke-width="1.3" />
<line x1="313.31" y1="469.50" x2="313.31" y2="472.30" stroke="#000" stroke-width="1.3" />
<line x1="314.04" y1="469.50" x2="314.04" y2="472.30" stroke="#000" stroke-width="1.3" />
<line x1="314.68" y1="469.50" x2="314.68" y2="472.30" stroke="#000" stroke-width="1.3" />
<line x1="315.25" y1="469.50" x2="315.25" y2="473.70" stroke="#000" stroke-width="1.3" />
<line x1="319.02" y1="469.50" x2="319.02" y2="472.30" stroke="#000" stroke-width="1.3" />
<line x1="321.23" y1="469.50" x2="321.23" y2="472.30" stroke="#000" stroke-width="1.3" />
<line x1="322.79" y1="469.50" x2="322.79" y2="472.30" stroke="#000" stroke-width="1.3" />
<line x1="324.00" y1="469.50" x2="324.00" y2="472.30" stroke="#000" stroke-width="1.3" />
<line x1="325.00" y1="469.50" x2="325.00" y2="472.30" stroke="#000" stroke-width="1.3" />
<line x1="325.83" y1="469.50" x2="325.83" y2="472.30" stroke="#000" stroke-width="1.3" />
<line x1="326.56" y1="469.50" x2="326.56" y2="472.30" stroke="#000" stroke-width="1.3" />
<line x1="327.20" y1="469.50" x2="327.20" y2="472.30" stroke="#000" stroke-width="1.3" />
<line x1="327.78" y1="469.50" x2="327.78" y2="473.70" stroke="#000" stroke-width="1.3" />
<line x1="331.55" y1="469.50" x2="331.55" y2="472.30" stroke="#000" stroke-width="1.3" />
<line x1="333.75" y1="469.50" x2="333.75" y2="472.30" stroke="#000" stroke-width="1.3" />
<line x1="335.32" y1="469.50" x2="335.32" y2="472.30" stroke="#000" stroke-width="1.3" />
<line x1="336.53" y1="469.50" x2="336.53" y2="472.30" stroke="#000" stroke-width="1.3" />
<line x1="337.52" y1="469.50" x2="337.52" y2="472.30" stroke="#000" stroke-width="1.3" />
<line x1="338.36" y1="469.50" x2="338.36" y2="472.30" stroke="#000" stroke-width="1.3" />
<line x1="339.09" y1="469.50" x2="339.09" y2="472.30" stroke="#000" stroke-width="1.3" />
<line x1="339.73" y1="469.50" x2="339.73" y2="472.30" stroke="#000" stroke-width="1.3" />
<line x1="340.30" y1="469.50" x2="340.30" y2="473.70" stroke="#000" stroke-width="1.1" />
<text x="280.20" y="422.50" font-size="7.8" text-anchor="end" fill="#1a1a1a" textLength="12.81" lengthAdjust="spacingAndGlyphs" >100</text>
<text x="280.20" y="432.52" font-size="7.8" text-anchor="end" fill="#1a1a1a" textLength="8.54" lengthAdjust="spacingAndGlyphs" >80</text>
<text x="280.20" y="442.54" font-size="7.8" text-anchor="end" fill="#1a1a1a" textLength="8.54" lengthAdjust="spacingAndGlyphs" >60</text>
<text x="280.20" y="452.56" font-size="7.8" text-anchor="end" fill="#1a1a1a" textLength="8.54" lengthAdjust="spacingAndGlyphs" >40</text>
<text x="280.20" y="462.58" font-size="7.8" text-anchor="end" fill="#1a1a1a" textLength="8.54" lengthAdjust="spacingAndGlyphs" >20</text>
<text x="280.20" y="472.60" font-size="7.8" text-anchor="end" fill="#1a1a1a" textLength="4.27" lengthAdjust="spacingAndGlyphs" >0</text>
<text x="284.00" y="485.05" font-size="7.7" text-anchor="start" fill="#1a1a1a" textLength="62.80" lengthAdjust="spacingAndGlyphs" >10<tspan dy="-2.6" font-size="4.6">0</tspan><tspan dy="2.6">10</tspan><tspan dy="-2.6" font-size="4.6">1</tspan><tspan dy="2.6">10</tspan><tspan dy="-2.6" font-size="4.6">2</tspan><tspan dy="2.6">10</tspan><tspan dy="-2.6" font-size="4.6">3</tspan><tspan dy="2.6">10</tspan><tspan dy="-2.6" font-size="4.6">4</tspan></text>
<polygon points="371.20,467.90 371.20,423.68 371.70,422.39 372.20,421.36 372.70,420.61 373.20,420.15 373.71,420.00 374.21,420.49 374.71,421.92 375.21,424.20 375.71,427.22 376.21,430.79 376.71,434.73 377.21,438.85 377.71,442.97 378.21,446.94 378.72,450.63 379.22,453.96 379.72,456.88 380.22,459.36 380.72,461.42 381.22,463.08 381.72,464.39 382.22,465.39 382.72,466.14 383.22,466.70 383.73,467.09 384.23,467.37 384.73,467.56 385.23,467.68 385.73,467.77 386.23,467.82 386.73,467.85 387.23,467.87 387.73,467.88 388.23,467.89 388.74,467.90 389.24,467.90 389.74,467.90 390.24,467.90 390.74,467.90 391.24,467.90 391.74,467.90 392.24,467.90 392.74,467.90 393.24,467.90 393.75,467.90 394.25,467.90 394.75,467.90 395.25,467.90 395.75,467.90 396.25,467.90 396.75,467.90 397.25,467.90 397.75,467.90 398.25,467.90 398.76,467.90 399.26,467.90 399.76,467.90 400.26,467.90 400.76,467.90 401.26,467.90 401.76,467.90 402.26,467.90 402.76,467.90 403.26,467.90 403.77,467.90 404.27,467.90 404.77,467.90 405.27,467.90 405.77,467.90 406.27,467.90 406.77,467.90 407.27,467.90 407.77,467.90 408.27,467.90 408.78,467.90 409.28,467.90 409.78,467.90 410.28,467.90 410.78,467.90 411.28,467.90 411.78,467.90 412.28,467.90 412.78,467.90 413.28,467.90 413.79,467.90 414.29,467.90 414.79,467.90 415.29,467.90 415.79,467.90 416.29,467.90 416.79,467.90 417.29,467.90 417.79,467.90 418.29,467.90 418.80,467.90 419.30,467.90 419.80,467.90 420.30,467.90 420.80,467.90 421.30,467.90 421.30,467.90" fill="#efc6bf" stroke="none"/>
<polyline points="371.20,438.85 371.70,435.95 372.20,433.12 372.70,430.41 373.20,427.89 373.71,425.63 374.21,423.68 374.71,422.11 375.21,420.95 375.71,420.24 376.21,420.00 376.71,420.42 377.21,421.67 377.71,423.68 378.21,426.35 378.72,429.54 379.22,433.12 379.72,436.91 380.22,440.78 380.72,444.58 381.22,448.21 381.72,451.56 382.22,454.58 382.72,457.24 383.22,459.51 383.73,461.42 384.23,462.98 384.73,464.23 385.23,465.21 385.73,465.96 386.23,466.53 386.73,466.95 387.23,467.25 387.73,467.47 388.23,467.61 388.74,467.71 389.24,467.78 389.74,467.83 390.24,467.85 390.74,467.87 391.24,467.88 391.74,467.89 392.24,467.89 392.74,467.90 393.24,467.90 393.75,467.90 394.25,467.90 394.75,467.90 395.25,467.90 395.75,467.90 396.25,467.90 396.75,467.90 397.25,467.90 397.75,467.90 398.25,467.90 398.76,467.90 399.26,467.90 399.76,467.90 400.26,467.90 400.76,467.90 401.26,467.90 401.76,467.90 402.26,467.90 402.76,467.90 403.26,467.90 403.77,467.90 404.27,467.90 404.77,467.90 405.27,467.90 405.77,467.90 406.27,467.90 406.77,467.90 407.27,467.90 407.77,467.90 408.27,467.90 408.78,467.90 409.28,467.90 409.78,467.90 410.28,467.90 410.78,467.90 411.28,467.90 411.78,467.90 412.28,467.90 412.78,467.90 413.28,467.90 413.79,467.90 414.29,467.90 414.79,467.90 415.29,467.90 415.79,467.90 416.29,467.90 416.79,467.90 417.29,467.90 417.79,467.90 418.29,467.90 418.80,467.90 419.30,467.90 419.80,467.90 420.30,467.90 420.80,467.90 421.30,467.90" fill="none" stroke="#62a83c" stroke-width="1.3"/>
<polyline points="371.20,466.12 371.70,465.42 372.20,464.50 372.70,463.32 373.20,461.84 373.71,460.02 374.21,457.84 374.71,455.28 375.21,452.35 375.71,449.07 376.21,445.51 376.71,441.74 377.21,437.88 377.71,434.05 378.21,430.41 378.72,427.10 379.22,424.29 379.72,422.11 380.22,420.66 380.72,420.03 381.22,420.49 381.72,422.59 382.22,426.14 382.72,430.79 383.22,436.09 383.73,441.61 384.23,446.94 384.73,451.79 385.23,455.96 385.73,459.36 386.23,462.01 386.73,463.99 387.23,465.39 387.73,466.35 388.23,466.97 388.74,467.37 389.24,467.60 389.74,467.74 390.24,467.82 390.74,467.86 391.24,467.88 391.74,467.89 392.24,467.90 392.74,467.90 393.24,467.90 393.75,467.90 394.25,467.90 394.75,467.90 395.25,467.90 395.75,467.90 396.25,467.90 396.75,467.90 397.25,467.90 397.75,467.90 398.25,467.90 398.76,467.90 399.26,467.90 399.76,467.90 400.26,467.90 400.76,467.90 401.26,467.90 401.76,467.90 402.26,467.90 402.76,467.90 403.26,467.90 403.77,467.90 404.27,467.90 404.77,467.90 405.27,467.90 405.77,467.90 406.27,467.90 406.77,467.90 407.27,467.90 407.77,467.90 408.27,467.90 408.78,467.90 409.28,467.90 409.78,467.90 410.28,467.90 410.78,467.90 411.28,467.90 411.78,467.90 412.28,467.90 412.78,467.90 413.28,467.90 413.79,467.90 414.29,467.90 414.79,467.90 415.29,467.90 415.79,467.90 416.29,467.90 416.79,467.90 417.29,467.90 417.79,467.90 418.29,467.90 418.80,467.90 419.30,467.90 419.80,467.90 420.30,467.90 420.80,467.90 421.30,467.90" fill="none" stroke="#43266f" stroke-width="1.9"/>
<polyline points="371.20,466.12 371.70,465.42 372.20,464.50 372.70,463.32 373.20,461.84 373.71,460.02 374.21,457.84 374.71,455.28 375.21,452.35 375.71,449.07 376.21,445.51 376.71,441.74 377.21,437.88 377.71,434.05 378.21,430.41 378.72,427.10 379.22,424.29 379.72,422.11 380.22,420.66 380.72,420.03 381.22,420.54 381.72,422.85 382.22,426.72 382.72,431.74 383.22,437.40 383.73,443.17 384.23,448.64 384.73,453.49 385.23,457.54 385.73,460.74 386.23,463.15 386.73,464.87 387.23,466.05 387.73,466.81 388.23,467.28 388.74,467.56 389.24,467.72 389.74,467.81 390.24,467.86 390.74,467.88 391.24,467.89 391.74,467.90 392.24,467.90 392.74,467.90 393.24,467.90 393.75,467.90 394.25,467.90 394.75,467.90 395.25,467.90 395.75,467.90 396.25,467.90 396.75,467.90 397.25,467.90 397.75,467.90 398.25,467.90 398.76,467.90 399.26,467.90 399.76,467.90 400.26,467.90 400.76,467.90 401.26,467.90 401.76,467.90 402.26,467.90 402.76,467.90 403.26,467.90 403.77,467.90 404.27,467.90 404.77,467.90 405.27,467.90 405.77,467.90 406.27,467.90 406.77,467.90 407.27,467.90 407.77,467.90 408.27,467.90 408.78,467.90 409.28,467.90 409.78,467.90 410.28,467.90 410.78,467.90 411.28,467.90 411.78,467.90 412.28,467.90 412.78,467.90 413.28,467.90 413.79,467.90 414.29,467.90 414.79,467.90 415.29,467.90 415.79,467.90 416.29,467.90 416.79,467.90 417.29,467.90 417.79,467.90 418.29,467.90 418.80,467.90 419.30,467.90 419.80,467.90 420.30,467.90 420.80,467.90 421.30,467.90" fill="none" stroke="#27367e" stroke-width="1.9" stroke-dasharray="1.5 1.0"/>
<polyline points="371.20,423.68 371.70,422.39 372.20,421.36 372.70,420.61 373.20,420.15 373.71,420.00 374.21,420.49 374.71,421.92 375.21,424.20 375.71,427.22 376.21,430.79 376.71,434.73 377.21,438.85 377.71,442.97 378.21,446.94 378.72,450.63 379.22,453.96 379.72,456.88 380.22,459.36 380.72,461.42 381.22,463.08 381.72,464.39 382.22,465.39 382.72,466.14 383.22,466.70 383.73,467.09 384.23,467.37 384.73,467.56 385.23,467.68 385.73,467.77 386.23,467.82 386.73,467.85 387.23,467.87 387.73,467.88 388.23,467.89 388.74,467.90 389.24,467.90 389.74,467.90 390.24,467.90 390.74,467.90 391.24,467.90 391.74,467.90 392.24,467.90 392.74,467.90 393.24,467.90 393.75,467.90 394.25,467.90 394.75,467.90 395.25,467.90 395.75,467.90 396.25,467.90 396.75,467.90 397.25,467.90 397.75,467.90 398.25,467.90 398.76,467.90 399.26,467.90 399.76,467.90 400.26,467.90 400.76,467.90 401.26,467.90 401.76,467.90 402.26,467.90 402.76,467.90 403.26,467.90 403.77,467.90 404.27,467.90 404.77,467.90 405.27,467.90 405.77,467.90 406.27,467.90 406.77,467.90 407.27,467.90 407.77,467.90 408.27,467.90 408.78,467.90 409.28,467.90 409.78,467.90 410.28,467.90 410.78,467.90 411.28,467.90 411.78,467.90 412.28,467.90 412.78,467.90 413.28,467.90 413.79,467.90 414.29,467.90 414.79,467.90 415.29,467.90 415.79,467.90 416.29,467.90 416.79,467.90 417.29,467.90 417.79,467.90 418.29,467.90 418.80,467.90 419.30,467.90 419.80,467.90 420.30,467.90 420.80,467.90 421.30,467.90" fill="none" stroke="#a8142c" stroke-width="1.9" stroke-linejoin="round"/>
<rect x="370.40" y="417.80" width="51.70" height="50.90" fill="none" stroke="#000" stroke-width="1.6" />
<line x1="365.80" y1="419.90" x2="369.60" y2="419.90" stroke="#000" stroke-width="1.2" />
<line x1="367.20" y1="421.90" x2="369.60" y2="421.90" stroke="#000" stroke-width="1.2" />
<line x1="367.20" y1="423.91" x2="369.60" y2="423.91" stroke="#000" stroke-width="1.2" />
<line x1="367.20" y1="425.91" x2="369.60" y2="425.91" stroke="#000" stroke-width="1.2" />
<line x1="367.20" y1="427.92" x2="369.60" y2="427.92" stroke="#000" stroke-width="1.2" />
<line x1="365.80" y1="429.92" x2="369.60" y2="429.92" stroke="#000" stroke-width="1.2" />
<line x1="367.20" y1="431.92" x2="369.60" y2="431.92" stroke="#000" stroke-width="1.2" />
<line x1="367.20" y1="433.93" x2="369.60" y2="433.93" stroke="#000" stroke-width="1.2" />
<line x1="367.20" y1="435.93" x2="369.60" y2="435.93" stroke="#000" stroke-width="1.2" />
<line x1="367.20" y1="437.94" x2="369.60" y2="437.94" stroke="#000" stroke-width="1.2" />
<line x1="365.80" y1="439.94" x2="369.60" y2="439.94" stroke="#000" stroke-width="1.2" />
<line x1="367.20" y1="441.94" x2="369.60" y2="441.94" stroke="#000" stroke-width="1.2" />
<line x1="367.20" y1="443.95" x2="369.60" y2="443.95" stroke="#000" stroke-width="1.2" />
<line x1="367.20" y1="445.95" x2="369.60" y2="445.95" stroke="#000" stroke-width="1.2" />
<line x1="367.20" y1="447.96" x2="369.60" y2="447.96" stroke="#000" stroke-width="1.2" />
<line x1="365.80" y1="449.96" x2="369.60" y2="449.96" stroke="#000" stroke-width="1.2" />
<line x1="367.20" y1="451.96" x2="369.60" y2="451.96" stroke="#000" stroke-width="1.2" />
<line x1="367.20" y1="453.97" x2="369.60" y2="453.97" stroke="#000" stroke-width="1.2" />
<line x1="367.20" y1="455.97" x2="369.60" y2="455.97" stroke="#000" stroke-width="1.2" />
<line x1="367.20" y1="457.98" x2="369.60" y2="457.98" stroke="#000" stroke-width="1.2" />
<line x1="365.80" y1="459.98" x2="369.60" y2="459.98" stroke="#000" stroke-width="1.2" />
<line x1="367.20" y1="461.98" x2="369.60" y2="461.98" stroke="#000" stroke-width="1.2" />
<line x1="367.20" y1="463.99" x2="369.60" y2="463.99" stroke="#000" stroke-width="1.2" />
<line x1="367.20" y1="465.99" x2="369.60" y2="465.99" stroke="#000" stroke-width="1.2" />
<line x1="367.20" y1="468.00" x2="369.60" y2="468.00" stroke="#000" stroke-width="1.2" />
<line x1="365.80" y1="470.00" x2="369.60" y2="470.00" stroke="#000" stroke-width="1.2" />
<line x1="371.20" y1="469.50" x2="371.20" y2="473.70" stroke="#000" stroke-width="1.3" />
<line x1="374.97" y1="469.50" x2="374.97" y2="472.30" stroke="#000" stroke-width="1.3" />
<line x1="377.18" y1="469.50" x2="377.18" y2="472.30" stroke="#000" stroke-width="1.3" />
<line x1="378.74" y1="469.50" x2="378.74" y2="472.30" stroke="#000" stroke-width="1.3" />
<line x1="379.95" y1="469.50" x2="379.95" y2="472.30" stroke="#000" stroke-width="1.3" />
<line x1="380.95" y1="469.50" x2="380.95" y2="472.30" stroke="#000" stroke-width="1.3" />
<line x1="381.78" y1="469.50" x2="381.78" y2="472.30" stroke="#000" stroke-width="1.3" />
<line x1="382.51" y1="469.50" x2="382.51" y2="472.30" stroke="#000" stroke-width="1.3" />
<line x1="383.15" y1="469.50" x2="383.15" y2="472.30" stroke="#000" stroke-width="1.3" />
<line x1="383.73" y1="469.50" x2="383.73" y2="473.70" stroke="#000" stroke-width="1.3" />
<line x1="387.50" y1="469.50" x2="387.50" y2="472.30" stroke="#000" stroke-width="1.3" />
<line x1="389.70" y1="469.50" x2="389.70" y2="472.30" stroke="#000" stroke-width="1.3" />
<line x1="391.27" y1="469.50" x2="391.27" y2="472.30" stroke="#000" stroke-width="1.3" />
<line x1="392.48" y1="469.50" x2="392.48" y2="472.30" stroke="#000" stroke-width="1.3" />
<line x1="393.47" y1="469.50" x2="393.47" y2="472.30" stroke="#000" stroke-width="1.3" />
<line x1="394.31" y1="469.50" x2="394.31" y2="472.30" stroke="#000" stroke-width="1.3" />
<line x1="395.04" y1="469.50" x2="395.04" y2="472.30" stroke="#000" stroke-width="1.3" />
<line x1="395.68" y1="469.50" x2="395.68" y2="472.30" stroke="#000" stroke-width="1.3" />
<line x1="396.25" y1="469.50" x2="396.25" y2="473.70" stroke="#000" stroke-width="1.3" />
<line x1="400.02" y1="469.50" x2="400.02" y2="472.30" stroke="#000" stroke-width="1.3" />
<line x1="402.23" y1="469.50" x2="402.23" y2="472.30" stroke="#000" stroke-width="1.3" />
<line x1="403.79" y1="469.50" x2="403.79" y2="472.30" stroke="#000" stroke-width="1.3" />
<line x1="405.00" y1="469.50" x2="405.00" y2="472.30" stroke="#000" stroke-width="1.3" />
<line x1="406.00" y1="469.50" x2="406.00" y2="472.30" stroke="#000" stroke-width="1.3" />
<line x1="406.83" y1="469.50" x2="406.83" y2="472.30" stroke="#000" stroke-width="1.3" />
<line x1="407.56" y1="469.50" x2="407.56" y2="472.30" stroke="#000" stroke-width="1.3" />
<line x1="408.20" y1="469.50" x2="408.20" y2="472.30" stroke="#000" stroke-width="1.3" />
<line x1="408.78" y1="469.50" x2="408.78" y2="473.70" stroke="#000" stroke-width="1.3" />
<line x1="412.55" y1="469.50" x2="412.55" y2="472.30" stroke="#000" stroke-width="1.3" />
<line x1="414.75" y1="469.50" x2="414.75" y2="472.30" stroke="#000" stroke-width="1.3" />
<line x1="416.32" y1="469.50" x2="416.32" y2="472.30" stroke="#000" stroke-width="1.3" />
<line x1="417.53" y1="469.50" x2="417.53" y2="472.30" stroke="#000" stroke-width="1.3" />
<line x1="418.52" y1="469.50" x2="418.52" y2="472.30" stroke="#000" stroke-width="1.3" />
<line x1="419.36" y1="469.50" x2="419.36" y2="472.30" stroke="#000" stroke-width="1.3" />
<line x1="420.09" y1="469.50" x2="420.09" y2="472.30" stroke="#000" stroke-width="1.3" />
<line x1="420.73" y1="469.50" x2="420.73" y2="472.30" stroke="#000" stroke-width="1.3" />
<line x1="421.30" y1="469.50" x2="421.30" y2="473.70" stroke="#000" stroke-width="1.1" />
<text x="361.20" y="422.50" font-size="7.8" text-anchor="end" fill="#1a1a1a" textLength="12.81" lengthAdjust="spacingAndGlyphs" >100</text>
<text x="361.20" y="432.52" font-size="7.8" text-anchor="end" fill="#1a1a1a" textLength="8.54" lengthAdjust="spacingAndGlyphs" >80</text>
<text x="361.20" y="442.54" font-size="7.8" text-anchor="end" fill="#1a1a1a" textLength="8.54" lengthAdjust="spacingAndGlyphs" >60</text>
<text x="361.20" y="452.56" font-size="7.8" text-anchor="end" fill="#1a1a1a" textLength="8.54" lengthAdjust="spacingAndGlyphs" >40</text>
<text x="361.20" y="462.58" font-size="7.8" text-anchor="end" fill="#1a1a1a" textLength="8.54" lengthAdjust="spacingAndGlyphs" >20</text>
<text x="361.20" y="472.60" font-size="7.8" text-anchor="end" fill="#1a1a1a" textLength="4.27" lengthAdjust="spacingAndGlyphs" >0</text>
<text x="365.00" y="485.05" font-size="7.7" text-anchor="start" fill="#1a1a1a" textLength="62.80" lengthAdjust="spacingAndGlyphs" >10<tspan dy="-2.6" font-size="4.6">0</tspan><tspan dy="2.6">10</tspan><tspan dy="-2.6" font-size="4.6">1</tspan><tspan dy="2.6">10</tspan><tspan dy="-2.6" font-size="4.6">2</tspan><tspan dy="2.6">10</tspan><tspan dy="-2.6" font-size="4.6">3</tspan><tspan dy="2.6">10</tspan><tspan dy="-2.6" font-size="4.6">4</tspan></text>
<polygon points="452.70,467.90 452.70,420.95 453.20,420.34 453.70,420.04 454.20,420.11 454.70,420.95 455.21,422.59 455.71,424.94 456.21,427.89 456.71,431.29 457.21,435.00 457.71,438.85 458.21,442.70 458.71,446.42 459.21,449.92 459.71,453.12 460.22,455.96 460.72,458.42 461.22,460.51 461.72,462.24 462.22,463.64 462.72,464.75 463.22,465.61 463.72,466.27 464.22,466.76 464.72,467.11 465.23,467.37 465.73,467.55 466.23,467.67 466.73,467.75 467.23,467.81 467.73,467.84 468.23,467.86 468.73,467.88 469.23,467.89 469.73,467.89 470.24,467.90 470.74,467.90 471.24,467.90 471.74,467.90 472.24,467.90 472.74,467.90 473.24,467.90 473.74,467.90 474.24,467.90 474.74,467.90 475.25,467.90 475.75,467.90 476.25,467.90 476.75,467.90 477.25,467.90 477.75,467.90 478.25,467.90 478.75,467.90 479.25,467.90 479.75,467.90 480.26,467.90 480.76,467.90 481.26,467.90 481.76,467.90 482.26,467.90 482.76,467.90 483.26,467.90 483.76,467.90 484.26,467.90 484.76,467.90 485.27,467.90 485.77,467.90 486.27,467.90 486.77,467.90 487.27,467.90 487.77,467.90 488.27,467.90 488.77,467.90 489.27,467.90 489.77,467.90 490.28,467.90 490.78,467.90 491.28,467.90 491.78,467.90 492.28,467.90 492.78,467.90 493.28,467.90 493.78,467.90 494.28,467.90 494.78,467.90 495.29,467.90 495.79,467.90 496.29,467.90 496.79,467.90 497.29,467.90 497.79,467.90 498.29,467.90 498.79,467.90 499.29,467.90 499.79,467.90 500.30,467.90 500.80,467.90 501.30,467.90 501.80,467.90 502.30,467.90 502.80,467.90 502.80,467.90" fill="#efc6bf" stroke="none"/>
<polyline points="452.70,446.94 453.20,443.78 453.70,440.51 454.20,437.19 454.70,433.92 455.21,430.79 455.71,427.89 456.21,425.33 456.71,423.19 457.21,421.56 457.71,420.49 458.21,420.02 458.71,420.27 459.21,421.47 459.71,423.56 460.22,426.40 460.72,429.85 461.22,433.72 461.72,437.81 462.22,441.95 462.72,445.97 463.22,449.74 463.72,453.17 464.22,456.19 464.72,458.78 465.23,460.94 465.73,462.70 466.23,464.09 466.73,465.16 467.23,465.98 467.73,466.57 468.23,467.01 468.73,467.31 469.23,467.52 469.73,467.66 470.24,467.75 470.74,467.81 471.24,467.84 471.74,467.87 472.24,467.88 472.74,467.89 473.24,467.89 473.74,467.90 474.24,467.90 474.74,467.90 475.25,467.90 475.75,467.90 476.25,467.90 476.75,467.90 477.25,467.90 477.75,467.90 478.25,467.90 478.75,467.90 479.25,467.90 479.75,467.90 480.26,467.90 480.76,467.90 481.26,467.90 481.76,467.90 482.26,467.90 482.76,467.90 483.26,467.90 483.76,467.90 484.26,467.90 484.76,467.90 485.27,467.90 485.77,467.90 486.27,467.90 486.77,467.90 487.27,467.90 487.77,467.90 488.27,467.90 488.77,467.90 489.27,467.90 489.77,467.90 490.28,467.90 490.78,467.90 491.28,467.90 491.78,467.90 492.28,467.90 492.78,467.90 493.28,467.90 493.78,467.90 494.28,467.90 494.78,467.90 495.29,467.90 495.79,467.90 496.29,467.90 496.79,467.90 497.29,467.90 497.79,467.90 498.29,467.90 498.79,467.90 499.29,467.90 499.79,467.90 500.30,467.90 500.80,467.90 501.30,467.90 501.80,467.90 502.30,467.90 502.80,467.90" fill="none" stroke="#62a83c" stroke-width="1.3"/>
<polyline points="452.70,465.42 453.20,464.50 453.70,463.32 454.20,461.84 454.70,460.02 455.21,457.84 455.71,455.28 456.21,452.35 456.71,449.07 457.21,445.51 457.71,441.74 458.21,437.88 458.71,434.05 459.21,430.41 459.71,427.10 460.22,424.29 460.72,422.11 461.22,420.66 461.72,420.03 462.22,420.44 462.72,422.36 463.22,425.63 463.72,429.93 464.22,434.91 464.72,440.17 465.23,445.34 465.73,450.15 466.23,454.39 466.73,457.95 467.23,460.81 467.73,463.01 468.23,464.64 468.73,465.80 469.23,466.59 469.73,467.11 470.24,467.44 470.74,467.64 471.24,467.76 471.74,467.82 472.24,467.86 472.74,467.88 473.24,467.89 473.74,467.90 474.24,467.90 474.74,467.90 475.25,467.90 475.75,467.90 476.25,467.90 476.75,467.90 477.25,467.90 477.75,467.90 478.25,467.90 478.75,467.90 479.25,467.90 479.75,467.90 480.26,467.90 480.76,467.90 481.26,467.90 481.76,467.90 482.26,467.90 482.76,467.90 483.26,467.90 483.76,467.90 484.26,467.90 484.76,467.90 485.27,467.90 485.77,467.90 486.27,467.90 486.77,467.90 487.27,467.90 487.77,467.90 488.27,467.90 488.77,467.90 489.27,467.90 489.77,467.90 490.28,467.90 490.78,467.90 491.28,467.90 491.78,467.90 492.28,467.90 492.78,467.90 493.28,467.90 493.78,467.90 494.28,467.90 494.78,467.90 495.29,467.90 495.79,467.90 496.29,467.90 496.79,467.90 497.29,467.90 497.79,467.90 498.29,467.90 498.79,467.90 499.29,467.90 499.79,467.90 500.30,467.90 500.80,467.90 501.30,467.90 501.80,467.90 502.30,467.90 502.80,467.90" fill="none" stroke="#43266f" stroke-width="1.9"/>
<polyline points="452.70,464.23 453.20,462.98 453.70,461.42 454.20,459.51 454.70,457.24 455.21,454.58 455.71,451.56 456.21,448.21 456.71,444.58 457.21,440.78 457.71,436.91 458.21,433.12 458.71,429.54 459.21,426.35 459.71,423.68 460.22,421.67 460.72,420.42 461.22,420.00 461.72,420.79 462.22,423.06 462.72,426.62 463.22,431.13 463.72,436.21 464.22,441.48 464.72,446.59 465.23,451.27 465.73,455.34 466.23,458.73 466.73,461.42 467.23,463.47 467.73,464.97 468.23,466.02 468.73,466.74 469.23,467.20 469.73,467.50 470.24,467.67 470.74,467.78 471.24,467.84 471.74,467.87 472.24,467.88 472.74,467.89 473.24,467.90 473.74,467.90 474.24,467.90 474.74,467.90 475.25,467.90 475.75,467.90 476.25,467.90 476.75,467.90 477.25,467.90 477.75,467.90 478.25,467.90 478.75,467.90 479.25,467.90 479.75,467.90 480.26,467.90 480.76,467.90 481.26,467.90 481.76,467.90 482.26,467.90 482.76,467.90 483.26,467.90 483.76,467.90 484.26,467.90 484.76,467.90 485.27,467.90 485.77,467.90 486.27,467.90 486.77,467.90 487.27,467.90 487.77,467.90 488.27,467.90 488.77,467.90 489.27,467.90 489.77,467.90 490.28,467.90 490.78,467.90 491.28,467.90 491.78,467.90 492.28,467.90 492.78,467.90 493.28,467.90 493.78,467.90 494.28,467.90 494.78,467.90 495.29,467.90 495.79,467.90 496.29,467.90 496.79,467.90 497.29,467.90 497.79,467.90 498.29,467.90 498.79,467.90 499.29,467.90 499.79,467.90 500.30,467.90 500.80,467.90 501.30,467.90 501.80,467.90 502.30,467.90 502.80,467.90" fill="none" stroke="#27367e" stroke-width="1.9" stroke-dasharray="1.5 1.0"/>
<polyline points="452.70,420.95 453.20,420.34 453.70,420.04 454.20,420.11 454.70,420.95 455.21,422.59 455.71,424.94 456.21,427.89 456.71,431.29 457.21,435.00 457.71,438.85 458.21,442.70 458.71,446.42 459.21,449.92 459.71,453.12 460.22,455.96 460.72,458.42 461.22,460.51 461.72,462.24 462.22,463.64 462.72,464.75 463.22,465.61 463.72,466.27 464.22,466.76 464.72,467.11 465.23,467.37 465.73,467.55 466.23,467.67 466.73,467.75 467.23,467.81 467.73,467.84 468.23,467.86 468.73,467.88 469.23,467.89 469.73,467.89 470.24,467.90 470.74,467.90 471.24,467.90 471.74,467.90 472.24,467.90 472.74,467.90 473.24,467.90 473.74,467.90 474.24,467.90 474.74,467.90 475.25,467.90 475.75,467.90 476.25,467.90 476.75,467.90 477.25,467.90 477.75,467.90 478.25,467.90 478.75,467.90 479.25,467.90 479.75,467.90 480.26,467.90 480.76,467.90 481.26,467.90 481.76,467.90 482.26,467.90 482.76,467.90 483.26,467.90 483.76,467.90 484.26,467.90 484.76,467.90 485.27,467.90 485.77,467.90 486.27,467.90 486.77,467.90 487.27,467.90 487.77,467.90 488.27,467.90 488.77,467.90 489.27,467.90 489.77,467.90 490.28,467.90 490.78,467.90 491.28,467.90 491.78,467.90 492.28,467.90 492.78,467.90 493.28,467.90 493.78,467.90 494.28,467.90 494.78,467.90 495.29,467.90 495.79,467.90 496.29,467.90 496.79,467.90 497.29,467.90 497.79,467.90 498.29,467.90 498.79,467.90 499.29,467.90 499.79,467.90 500.30,467.90 500.80,467.90 501.30,467.90 501.80,467.90 502.30,467.90 502.80,467.90" fill="none" stroke="#a8142c" stroke-width="1.9" stroke-linejoin="round"/>
<rect x="451.90" y="417.80" width="51.70" height="50.90" fill="none" stroke="#000" stroke-width="1.6" />
<line x1="447.30" y1="419.90" x2="451.10" y2="419.90" stroke="#000" stroke-width="1.2" />
<line x1="448.70" y1="421.90" x2="451.10" y2="421.90" stroke="#000" stroke-width="1.2" />
<line x1="448.70" y1="423.91" x2="451.10" y2="423.91" stroke="#000" stroke-width="1.2" />
<line x1="448.70" y1="425.91" x2="451.10" y2="425.91" stroke="#000" stroke-width="1.2" />
<line x1="448.70" y1="427.92" x2="451.10" y2="427.92" stroke="#000" stroke-width="1.2" />
<line x1="447.30" y1="429.92" x2="451.10" y2="429.92" stroke="#000" stroke-width="1.2" />
<line x1="448.70" y1="431.92" x2="451.10" y2="431.92" stroke="#000" stroke-width="1.2" />
<line x1="448.70" y1="433.93" x2="451.10" y2="433.93" stroke="#000" stroke-width="1.2" />
<line x1="448.70" y1="435.93" x2="451.10" y2="435.93" stroke="#000" stroke-width="1.2" />
<line x1="448.70" y1="437.94" x2="451.10" y2="437.94" stroke="#000" stroke-width="1.2" />
<line x1="447.30" y1="439.94" x2="451.10" y2="439.94" stroke="#000" stroke-width="1.2" />
<line x1="448.70" y1="441.94" x2="451.10" y2="441.94" stroke="#000" stroke-width="1.2" />
<line x1="448.70" y1="443.95" x2="451.10" y2="443.95" stroke="#000" stroke-width="1.2" />
<line x1="448.70" y1="445.95" x2="451.10" y2="445.95" stroke="#000" stroke-width="1.2" />
<line x1="448.70" y1="447.96" x2="451.10" y2="447.96" stroke="#000" stroke-width="1.2" />
<line x1="447.30" y1="449.96" x2="451.10" y2="449.96" stroke="#000" stroke-width="1.2" />
<line x1="448.70" y1="451.96" x2="451.10" y2="451.96" stroke="#000" stroke-width="1.2" />
<line x1="448.70" y1="453.97" x2="451.10" y2="453.97" stroke="#000" stroke-width="1.2" />
<line x1="448.70" y1="455.97" x2="451.10" y2="455.97" stroke="#000" stroke-width="1.2" />
<line x1="448.70" y1="457.98" x2="451.10" y2="457.98" stroke="#000" stroke-width="1.2" />
<line x1="447.30" y1="459.98" x2="451.10" y2="459.98" stroke="#000" stroke-width="1.2" />
<line x1="448.70" y1="461.98" x2="451.10" y2="461.98" stroke="#000" stroke-width="1.2" />
<line x1="448.70" y1="463.99" x2="451.10" y2="463.99" stroke="#000" stroke-width="1.2" />
<line x1="448.70" y1="465.99" x2="451.10" y2="465.99" stroke="#000" stroke-width="1.2" />
<line x1="448.70" y1="468.00" x2="451.10" y2="468.00" stroke="#000" stroke-width="1.2" />
<line x1="447.30" y1="470.00" x2="451.10" y2="470.00" stroke="#000" stroke-width="1.2" />
<line x1="452.70" y1="469.50" x2="452.70" y2="473.70" stroke="#000" stroke-width="1.3" />
<line x1="456.47" y1="469.50" x2="456.47" y2="472.30" stroke="#000" stroke-width="1.3" />
<line x1="458.68" y1="469.50" x2="458.68" y2="472.30" stroke="#000" stroke-width="1.3" />
<line x1="460.24" y1="469.50" x2="460.24" y2="472.30" stroke="#000" stroke-width="1.3" />
<line x1="461.45" y1="469.50" x2="461.45" y2="472.30" stroke="#000" stroke-width="1.3" />
<line x1="462.45" y1="469.50" x2="462.45" y2="472.30" stroke="#000" stroke-width="1.3" />
<line x1="463.28" y1="469.50" x2="463.28" y2="472.30" stroke="#000" stroke-width="1.3" />
<line x1="464.01" y1="469.50" x2="464.01" y2="472.30" stroke="#000" stroke-width="1.3" />
<line x1="464.65" y1="469.50" x2="464.65" y2="472.30" stroke="#000" stroke-width="1.3" />
<line x1="465.23" y1="469.50" x2="465.23" y2="473.70" stroke="#000" stroke-width="1.3" />
<line x1="469.00" y1="469.50" x2="469.00" y2="472.30" stroke="#000" stroke-width="1.3" />
<line x1="471.20" y1="469.50" x2="471.20" y2="472.30" stroke="#000" stroke-width="1.3" />
<line x1="472.77" y1="469.50" x2="472.77" y2="472.30" stroke="#000" stroke-width="1.3" />
<line x1="473.98" y1="469.50" x2="473.98" y2="472.30" stroke="#000" stroke-width="1.3" />
<line x1="474.97" y1="469.50" x2="474.97" y2="472.30" stroke="#000" stroke-width="1.3" />
<line x1="475.81" y1="469.50" x2="475.81" y2="472.30" stroke="#000" stroke-width="1.3" />
<line x1="476.54" y1="469.50" x2="476.54" y2="472.30" stroke="#000" stroke-width="1.3" />
<line x1="477.18" y1="469.50" x2="477.18" y2="472.30" stroke="#000" stroke-width="1.3" />
<line x1="477.75" y1="469.50" x2="477.75" y2="473.70" stroke="#000" stroke-width="1.3" />
<line x1="481.52" y1="469.50" x2="481.52" y2="472.30" stroke="#000" stroke-width="1.3" />
<line x1="483.73" y1="469.50" x2="483.73" y2="472.30" stroke="#000" stroke-width="1.3" />
<line x1="485.29" y1="469.50" x2="485.29" y2="472.30" stroke="#000" stroke-width="1.3" />
<line x1="486.50" y1="469.50" x2="486.50" y2="472.30" stroke="#000" stroke-width="1.3" />
<line x1="487.50" y1="469.50" x2="487.50" y2="472.30" stroke="#000" stroke-width="1.3" />
<line x1="488.33" y1="469.50" x2="488.33" y2="472.30" stroke="#000" stroke-width="1.3" />
<line x1="489.06" y1="469.50" x2="489.06" y2="472.30" stroke="#000" stroke-width="1.3" />
<line x1="489.70" y1="469.50" x2="489.70" y2="472.30" stroke="#000" stroke-width="1.3" />
<line x1="490.28" y1="469.50" x2="490.28" y2="473.70" stroke="#000" stroke-width="1.3" />
<line x1="494.05" y1="469.50" x2="494.05" y2="472.30" stroke="#000" stroke-width="1.3" />
<line x1="496.25" y1="469.50" x2="496.25" y2="472.30" stroke="#000" stroke-width="1.3" />
<line x1="497.82" y1="469.50" x2="497.82" y2="472.30" stroke="#000" stroke-width="1.3" />
<line x1="499.03" y1="469.50" x2="499.03" y2="472.30" stroke="#000" stroke-width="1.3" />
<line x1="500.02" y1="469.50" x2="500.02" y2="472.30" stroke="#000" stroke-width="1.3" />
<line x1="500.86" y1="469.50" x2="500.86" y2="472.30" stroke="#000" stroke-width="1.3" />
<line x1="501.59" y1="469.50" x2="501.59" y2="472.30" stroke="#000" stroke-width="1.3" />
<line x1="502.23" y1="469.50" x2="502.23" y2="472.30" stroke="#000" stroke-width="1.3" />
<line x1="502.80" y1="469.50" x2="502.80" y2="473.70" stroke="#000" stroke-width="1.1" />
<text x="442.70" y="422.50" font-size="7.8" text-anchor="end" fill="#1a1a1a" textLength="12.81" lengthAdjust="spacingAndGlyphs" >100</text>
<text x="442.70" y="432.52" font-size="7.8" text-anchor="end" fill="#1a1a1a" textLength="8.54" lengthAdjust="spacingAndGlyphs" >80</text>
<text x="442.70" y="442.54" font-size="7.8" text-anchor="end" fill="#1a1a1a" textLength="8.54" lengthAdjust="spacingAndGlyphs" >60</text>
<text x="442.70" y="452.56" font-size="7.8" text-anchor="end" fill="#1a1a1a" textLength="8.54" lengthAdjust="spacingAndGlyphs" >40</text>
<text x="442.70" y="462.58" font-size="7.8" text-anchor="end" fill="#1a1a1a" textLength="8.54" lengthAdjust="spacingAndGlyphs" >20</text>
<text x="442.70" y="472.60" font-size="7.8" text-anchor="end" fill="#1a1a1a" textLength="4.27" lengthAdjust="spacingAndGlyphs" >0</text>
<text x="446.50" y="485.05" font-size="7.7" text-anchor="start" fill="#1a1a1a" textLength="62.80" lengthAdjust="spacingAndGlyphs" >10<tspan dy="-2.6" font-size="4.6">0</tspan><tspan dy="2.6">10</tspan><tspan dy="-2.6" font-size="4.6">1</tspan><tspan dy="2.6">10</tspan><tspan dy="-2.6" font-size="4.6">2</tspan><tspan dy="2.6">10</tspan><tspan dy="-2.6" font-size="4.6">3</tspan><tspan dy="2.6">10</tspan><tspan dy="-2.6" font-size="4.6">4</tspan></text>
<text x="96.40" y="443.20" font-size="10.5" text-anchor="middle" fill="#222" textLength="33.60" lengthAdjust="spacingAndGlyphs" transform="rotate(-90 96.40 443.20)" stroke="#222" stroke-width="0.25">% of max</text>
<line x1="126.00" y1="309.80" x2="239.00" y2="309.80" stroke="#000" stroke-width="1.8" />
<line x1="395.00" y1="309.80" x2="504.00" y2="309.80" stroke="#000" stroke-width="1.8" />
<text x="273.00" y="313.80" font-size="12" text-anchor="start" fill="#222" >gated on Ly-6G<tspan dy="-4.5" font-size="7.5">+</tspan></text>
<line x1="126.00" y1="406.30" x2="235.40" y2="406.30" stroke="#000" stroke-width="1.8" />
<line x1="396.30" y1="406.30" x2="504.00" y2="406.30" stroke="#000" stroke-width="1.8" />
<text x="267.70" y="408.80" font-size="12" text-anchor="start" fill="#222" >gated on Ly-6C<tspan dy="-4.5" font-size="8">high</tspan></text>
<text x="152.95" y="502.40" font-size="11" text-anchor="middle" font-weight="bold" fill="#222" textLength="15.20" lengthAdjust="spacingAndGlyphs" >p-S6</text>
<text x="234.15" y="502.40" font-size="11" text-anchor="middle" font-weight="bold" fill="#222" textLength="20.00" lengthAdjust="spacingAndGlyphs" >p-AKT</text>
<text x="315.45" y="502.40" font-size="11" text-anchor="middle" font-weight="bold" fill="#222" textLength="24.50" lengthAdjust="spacingAndGlyphs" >p-mTOR</text>
<text x="396.45" y="502.40" font-size="11" text-anchor="middle" font-weight="bold" fill="#222" textLength="25.50" lengthAdjust="spacingAndGlyphs" >p-STAT1</text>
<text x="477.95" y="502.40" font-size="11" text-anchor="middle" font-weight="bold" fill="#222" textLength="25.50" lengthAdjust="spacingAndGlyphs" >p-STAT3</text>
<rect x="33.90" y="372.50" width="5.40" height="5.40" fill="#f2d4d0" stroke="#a8142c" stroke-width="1.6" />
<text x="43.60" y="378.70" font-size="11" text-anchor="start" fill="#222" >ctrl d0</text>
<rect x="33.90" y="389.50" width="5.40" height="5.40" fill="#fff" stroke="#27367e" stroke-width="1.6" stroke-dasharray="1.3 1.1"/>
<text x="43.60" y="395.70" font-size="11" text-anchor="start" fill="#222" >stain d0</text>
<rect x="33.90" y="406.50" width="5.40" height="5.40" fill="#fff" stroke="#62a83c" stroke-width="1.6" />
<text x="43.60" y="412.70" font-size="11" text-anchor="start" fill="#222" >ctrl d3</text>
<rect x="33.90" y="423.50" width="5.40" height="5.40" fill="#fff" stroke="#43266f" stroke-width="1.6" />
<text x="43.60" y="429.70" font-size="11" text-anchor="start" fill="#222" >stain d3</text>
<line x1="183.35" y1="535.50" x2="183.35" y2="543.70" stroke="#000" stroke-width="1.6" />
<line x1="181.25" y1="535.80" x2="185.45" y2="535.80" stroke="#000" stroke-width="1.8" />
<line x1="200.15" y1="522.50" x2="200.15" y2="525.90" stroke="#000" stroke-width="1.6" />
<line x1="198.05" y1="522.80" x2="202.25" y2="522.80" stroke="#000" stroke-width="1.8" />
<rect x="174.95" y="542.70" width="16.80" height="54.05" fill="#b00c2c" stroke="none" stroke-width="1" />
<rect x="191.75" y="524.90" width="16.80" height="71.85" fill="#2d4d8c" stroke="none" stroke-width="1" />
<line x1="244.35" y1="542.40" x2="244.35" y2="548.70" stroke="#000" stroke-width="1.6" />
<line x1="242.25" y1="542.70" x2="246.45" y2="542.70" stroke="#000" stroke-width="1.8" />
<line x1="261.15" y1="530.20" x2="261.15" y2="534.30" stroke="#000" stroke-width="1.6" />
<line x1="259.05" y1="530.50" x2="263.25" y2="530.50" stroke="#000" stroke-width="1.8" />
<rect x="235.95" y="547.70" width="16.80" height="49.05" fill="#b00c2c" stroke="none" stroke-width="1" />
<rect x="252.75" y="533.30" width="16.80" height="63.45" fill="#2d4d8c" stroke="none" stroke-width="1" />
<line x1="305.35" y1="585.50" x2="305.35" y2="592.30" stroke="#000" stroke-width="1.6" />
<line x1="303.25" y1="585.80" x2="307.45" y2="585.80" stroke="#000" stroke-width="1.8" />
<line x1="322.15" y1="578.60" x2="322.15" y2="580.30" stroke="#000" stroke-width="1.6" />
<line x1="320.05" y1="578.90" x2="324.25" y2="578.90" stroke="#000" stroke-width="1.8" />
<rect x="296.95" y="591.30" width="16.80" height="5.45" fill="#b00c2c" stroke="none" stroke-width="1" />
<rect x="313.75" y="579.30" width="16.80" height="17.45" fill="#2d4d8c" stroke="none" stroke-width="1" />
<line x1="366.35" y1="573.80" x2="366.35" y2="579.30" stroke="#000" stroke-width="1.6" />
<line x1="364.25" y1="574.10" x2="368.45" y2="574.10" stroke="#000" stroke-width="1.8" />
<line x1="383.15" y1="579.30" x2="383.15" y2="585.30" stroke="#000" stroke-width="1.6" />
<line x1="381.05" y1="579.60" x2="385.25" y2="579.60" stroke="#000" stroke-width="1.8" />
<rect x="357.95" y="578.30" width="16.80" height="18.45" fill="#b00c2c" stroke="none" stroke-width="1" />
<rect x="374.75" y="584.30" width="16.80" height="12.45" fill="#2d4d8c" stroke="none" stroke-width="1" />
<line x1="427.35" y1="578.80" x2="427.35" y2="581.00" stroke="#000" stroke-width="1.6" />
<line x1="425.25" y1="579.10" x2="429.45" y2="579.10" stroke="#000" stroke-width="1.8" />
<line x1="444.15" y1="573.00" x2="444.15" y2="581.50" stroke="#000" stroke-width="1.6" />
<line x1="442.05" y1="573.30" x2="446.25" y2="573.30" stroke="#000" stroke-width="1.8" />
<rect x="418.95" y="580.00" width="16.80" height="16.75" fill="#b00c2c" stroke="none" stroke-width="1" />
<rect x="435.75" y="580.50" width="16.80" height="16.25" fill="#2d4d8c" stroke="none" stroke-width="1" />
<line x1="161.25" y1="520.00" x2="466.25" y2="520.00" stroke="#000" stroke-width="1.7" />
<line x1="466.25" y1="520.00" x2="466.25" y2="596.75" stroke="#000" stroke-width="1.7" />
<line x1="161.25" y1="520.00" x2="161.25" y2="597.75" stroke="#000" stroke-width="1.7" />
<line x1="160.25" y1="596.75" x2="467.25" y2="596.75" stroke="#000" stroke-width="1.7" />
<line x1="161.25" y1="596.75" x2="161.25" y2="601.75" stroke="#000" stroke-width="1.6" />
<line x1="222.25" y1="596.75" x2="222.25" y2="601.75" stroke="#000" stroke-width="1.6" />
<line x1="283.25" y1="596.75" x2="283.25" y2="601.75" stroke="#000" stroke-width="1.6" />
<line x1="344.25" y1="596.75" x2="344.25" y2="601.75" stroke="#000" stroke-width="1.6" />
<line x1="405.25" y1="596.75" x2="405.25" y2="601.75" stroke="#000" stroke-width="1.6" />
<line x1="466.25" y1="596.75" x2="466.25" y2="601.75" stroke="#000" stroke-width="1.6" />
<line x1="156.25" y1="540.55" x2="161.25" y2="540.55" stroke="#000" stroke-width="1.6" />
<text x="152.50" y="544.85" font-size="12" text-anchor="end" fill="#222" textLength="36.34" lengthAdjust="spacingAndGlyphs" >100,00</text>
<line x1="156.25" y1="568.65" x2="161.25" y2="568.65" stroke="#000" stroke-width="1.6" />
<text x="152.50" y="572.95" font-size="12" text-anchor="end" fill="#222" textLength="29.73" lengthAdjust="spacingAndGlyphs" >10,00</text>
<line x1="156.25" y1="596.75" x2="161.25" y2="596.75" stroke="#000" stroke-width="1.6" />
<text x="152.50" y="601.05" font-size="12" text-anchor="end" fill="#222" textLength="23.12" lengthAdjust="spacingAndGlyphs" >1,00</text>
<text x="106.30" y="558.00" font-size="13" text-anchor="middle" font-weight="bold" fill="#222" textLength="16.00" lengthAdjust="spacingAndGlyphs" transform="rotate(-90 106.30 558.00)" >MFI</text>
<text x="191.75" y="615.00" font-size="12" text-anchor="middle" fill="#222" >pS6</text>
<text x="252.75" y="615.00" font-size="12" text-anchor="middle" fill="#222" >pAKT</text>
<text x="313.75" y="615.00" font-size="12" text-anchor="middle" fill="#222" >pmTOR</text>
<text x="374.75" y="615.00" font-size="12" text-anchor="middle" fill="#222" >pSTAT1</text>
<text x="435.75" y="615.00" font-size="12" text-anchor="middle" fill="#222" >pSTAT3</text>
<polygon points="176.30,521.70 177.06,523.15 178.68,523.43 177.54,524.60 177.77,526.22 176.30,525.50 174.83,526.22 175.06,524.60 173.92,523.43 175.54,523.15" fill="#111"/>
<polygon points="182.00,521.70 182.76,523.15 184.38,523.43 183.24,524.60 183.47,526.22 182.00,525.50 180.53,526.22 180.76,524.60 179.62,523.43 181.24,523.15" fill="#111"/>
<polygon points="187.70,521.70 188.46,523.15 190.08,523.43 188.94,524.60 189.17,526.22 187.70,525.50 186.23,526.22 186.46,524.60 185.32,523.43 186.94,523.15" fill="#111"/>
<polygon points="246.40,522.60 247.16,524.05 248.78,524.33 247.64,525.50 247.87,527.12 246.40,526.40 244.93,527.12 245.16,525.50 244.02,524.33 245.64,524.05" fill="#111"/>
<polygon points="252.10,522.60 252.86,524.05 254.48,524.33 253.34,525.50 253.57,527.12 252.10,526.40 250.63,527.12 250.86,525.50 249.72,524.33 251.34,524.05" fill="#111"/>
<polygon points="257.80,522.60 258.56,524.05 260.18,524.33 259.04,525.50 259.27,527.12 257.80,526.40 256.33,527.12 256.56,525.50 255.42,524.33 257.04,524.05" fill="#111"/>
<polygon points="307.80,569.50 308.56,570.95 310.18,571.23 309.04,572.40 309.27,574.02 307.80,573.30 306.33,574.02 306.56,572.40 305.42,571.23 307.04,570.95" fill="#111"/>
<polygon points="313.50,569.50 314.26,570.95 315.88,571.23 314.74,572.40 314.97,574.02 313.50,573.30 312.03,574.02 312.26,572.40 311.12,571.23 312.74,570.95" fill="#111"/>
<polygon points="319.20,569.50 319.96,570.95 321.58,571.23 320.44,572.40 320.67,574.02 319.20,573.30 317.73,574.02 317.96,572.40 316.82,571.23 318.44,570.95" fill="#111"/>
<text x="374.50" y="571.80" font-size="11.5" text-anchor="middle" fill="#222" >ns</text>
<text x="435.00" y="570.50" font-size="11.5" text-anchor="middle" fill="#222" >ns</text>
<rect x="389.80" y="542.00" width="6.00" height="6.00" fill="#b00c2c" stroke="none" stroke-width="1" />
<text x="400.00" y="548.30" font-size="11.2" text-anchor="start" fill="#222" >d0</text>
<rect x="423.00" y="542.00" width="6.00" height="6.00" fill="#2d4d8c" stroke="none" stroke-width="1" />
<text x="432.50" y="548.30" font-size="11.2" text-anchor="start" fill="#222" >d3</text>
<path d="M299.3,509.7 L345.7,509.7 L345.7,525.6 L370,525.6 L322.5,542.4 L274.4,525.6 L299.3,525.6 Z" fill="#c6c6c6" stroke="#111" stroke-width="1.4" stroke-linejoin="miter"/>
<text x="321.80" y="526.30" font-size="12" text-anchor="middle" fill="#222" >Ly-6C<tspan dy="-5" font-size="8">+</tspan></text>
<line x1="93.75" y1="646.00" x2="93.75" y2="778.50" stroke="#111" stroke-width="1.8" />
<line x1="92.75" y1="777.50" x2="240.88" y2="777.50" stroke="#111" stroke-width="1.8" />
<line x1="88.75" y1="650.00" x2="93.75" y2="650.00" stroke="#111" stroke-width="1.6" />
<text x="84.00" y="654.00" font-size="11.2" text-anchor="end" fill="#222" textLength="40.32" lengthAdjust="spacingAndGlyphs" >125000</text>
<line x1="88.75" y1="675.50" x2="93.75" y2="675.50" stroke="#111" stroke-width="1.6" />
<text x="84.00" y="679.50" font-size="11.2" text-anchor="end" fill="#222" textLength="40.32" lengthAdjust="spacingAndGlyphs" >100000</text>
<line x1="88.75" y1="701.00" x2="93.75" y2="701.00" stroke="#111" stroke-width="1.6" />
<text x="84.00" y="705.00" font-size="11.2" text-anchor="end" fill="#222" textLength="33.60" lengthAdjust="spacingAndGlyphs" >75000</text>
<line x1="88.75" y1="726.50" x2="93.75" y2="726.50" stroke="#111" stroke-width="1.6" />
<text x="84.00" y="730.50" font-size="11.2" text-anchor="end" fill="#222" textLength="33.60" lengthAdjust="spacingAndGlyphs" >50000</text>
<line x1="88.75" y1="752.00" x2="93.75" y2="752.00" stroke="#111" stroke-width="1.6" />
<text x="84.00" y="756.00" font-size="11.2" text-anchor="end" fill="#222" textLength="33.60" lengthAdjust="spacingAndGlyphs" >25000</text>
<line x1="88.75" y1="777.50" x2="93.75" y2="777.50" stroke="#111" stroke-width="1.6" />
<text x="84.00" y="781.50" font-size="11.2" text-anchor="end" fill="#222" textLength="6.72" lengthAdjust="spacingAndGlyphs" >0</text>
<line x1="113.80" y1="777.50" x2="113.80" y2="782.00" stroke="#111" stroke-width="1.6" />
<line x1="134.48" y1="777.50" x2="134.48" y2="782.00" stroke="#111" stroke-width="1.6" />
<line x1="155.16" y1="777.50" x2="155.16" y2="782.00" stroke="#111" stroke-width="1.6" />
<line x1="175.84" y1="777.50" x2="175.84" y2="782.00" stroke="#111" stroke-width="1.6" />
<line x1="196.52" y1="777.50" x2="196.52" y2="782.00" stroke="#111" stroke-width="1.6" />
<line x1="217.20" y1="777.50" x2="217.20" y2="782.00" stroke="#111" stroke-width="1.6" />
<line x1="237.88" y1="777.50" x2="237.88" y2="782.00" stroke="#111" stroke-width="1.6" />
<text x="120.80" y="790.50" font-size="12" text-anchor="end" fill="#1e1e1e" transform="rotate(-45 120.80 790.50)" >100000</text>
<text x="141.48" y="790.50" font-size="12" text-anchor="end" fill="#1e1e1e" transform="rotate(-45 141.48 790.50)" >50000</text>
<text x="162.16" y="790.50" font-size="12" text-anchor="end" fill="#1e1e1e" transform="rotate(-45 162.16 790.50)" >25000</text>
<text x="182.84" y="790.50" font-size="12" text-anchor="end" fill="#1e1e1e" transform="rotate(-45 182.84 790.50)" >12500</text>
<text x="203.52" y="790.50" font-size="12" text-anchor="end" fill="#1e1e1e" transform="rotate(-45 203.52 790.50)" >6000</text>
<text x="224.20" y="790.50" font-size="12" text-anchor="end" fill="#1e1e1e" transform="rotate(-45 224.20 790.50)" >3000</text>
<text x="244.88" y="790.50" font-size="12" text-anchor="end" fill="#1e1e1e" transform="rotate(-45 244.88 790.50)" >0</text>
<text x="168.20" y="830.20" font-size="14" text-anchor="middle" fill="#1a1a1a" textLength="92.40" lengthAdjust="spacingAndGlyphs" stroke="#1a1a1a" stroke-width="0.45">Suppressor cells/well</text>
<text x="33.40" y="711.65" font-size="12" text-anchor="middle" fill="#1a1a1a" textLength="128.70" lengthAdjust="spacingAndGlyphs" transform="rotate(-90 33.40 711.65)" stroke="#1a1a1a" stroke-width="0.4">(<tspan dy="-4" font-size="8">3</tspan><tspan dy="4">H)-thymidine incorporation</tspan></text>
<line x1="113.80" y1="744.60" x2="113.80" y2="766.00" stroke="#111" stroke-width="1.4" />
<line x1="110.30" y1="744.60" x2="117.30" y2="744.60" stroke="#111" stroke-width="1.4" />
<line x1="110.30" y1="766.00" x2="117.30" y2="766.00" stroke="#111" stroke-width="1.4" />
<line x1="134.48" y1="699.00" x2="134.48" y2="718.50" stroke="#111" stroke-width="1.4" />
<line x1="130.98" y1="699.00" x2="137.98" y2="699.00" stroke="#111" stroke-width="1.4" />
<line x1="130.98" y1="718.50" x2="137.98" y2="718.50" stroke="#111" stroke-width="1.4" />
<line x1="134.48" y1="747.30" x2="134.48" y2="759.40" stroke="#111" stroke-width="1.4" />
<line x1="130.98" y1="747.30" x2="137.98" y2="747.30" stroke="#111" stroke-width="1.4" />
<line x1="130.98" y1="759.40" x2="137.98" y2="759.40" stroke="#111" stroke-width="1.4" />
<line x1="155.16" y1="677.00" x2="155.16" y2="720.00" stroke="#111" stroke-width="1.4" />
<line x1="151.66" y1="677.00" x2="158.66" y2="677.00" stroke="#111" stroke-width="1.4" />
<line x1="151.66" y1="720.00" x2="158.66" y2="720.00" stroke="#111" stroke-width="1.4" />
<line x1="175.84" y1="661.50" x2="175.84" y2="700.00" stroke="#111" stroke-width="1.4" />
<line x1="172.34" y1="661.50" x2="179.34" y2="661.50" stroke="#111" stroke-width="1.4" />
<line x1="172.34" y1="700.00" x2="179.34" y2="700.00" stroke="#111" stroke-width="1.4" />
<line x1="196.52" y1="658.50" x2="196.52" y2="724.60" stroke="#111" stroke-width="1.4" />
<line x1="193.02" y1="658.50" x2="200.02" y2="658.50" stroke="#111" stroke-width="1.4" />
<line x1="193.02" y1="724.60" x2="200.02" y2="724.60" stroke="#111" stroke-width="1.4" />
<line x1="217.20" y1="655.00" x2="217.20" y2="664.00" stroke="#111" stroke-width="1.4" />
<line x1="213.70" y1="655.00" x2="220.70" y2="655.00" stroke="#111" stroke-width="1.4" />
<line x1="213.70" y1="664.00" x2="220.70" y2="664.00" stroke="#111" stroke-width="1.4" />
<line x1="237.88" y1="654.60" x2="237.88" y2="682.40" stroke="#111" stroke-width="1.4" />
<line x1="234.38" y1="654.60" x2="241.38" y2="654.60" stroke="#111" stroke-width="1.4" />
<line x1="234.38" y1="682.40" x2="241.38" y2="682.40" stroke="#111" stroke-width="1.4" />
<line x1="113.80" y1="700.00" x2="113.80" y2="709.00" stroke="#111" stroke-width="1.4" />
<line x1="110.30" y1="700.00" x2="117.30" y2="700.00" stroke="#111" stroke-width="1.4" />
<line x1="110.30" y1="709.00" x2="117.30" y2="709.00" stroke="#111" stroke-width="1.4" />
<line x1="155.16" y1="682.00" x2="155.16" y2="689.00" stroke="#111" stroke-width="1.4" />
<line x1="151.66" y1="682.00" x2="158.66" y2="682.00" stroke="#111" stroke-width="1.4" />
<line x1="151.66" y1="689.00" x2="158.66" y2="689.00" stroke="#111" stroke-width="1.4" />
<polyline points="113.80,775.40 134.48,753.80 155.16,701.50 175.84,673.80 196.52,689.00 217.20,667.70 237.88,668.30" fill="none" stroke="#e2a236" stroke-width="2.4" stroke-linejoin="round"/>
<polyline points="113.80,756.50 134.48,705.00 155.16,694.00 175.84,684.60 196.52,669.00 217.20,669.00 237.88,668.30" fill="none" stroke="#4a2a78" stroke-width="2.4" stroke-linejoin="round"/>
<polyline points="113.80,697.80 134.48,683.00 155.16,684.60 175.84,678.50 196.52,681.50 217.20,676.30 237.88,668.30" fill="none" stroke="#6cb046" stroke-width="2.4" stroke-linejoin="round"/>
<polyline points="113.80,761.50 134.48,704.60 155.16,695.40 175.84,680.00 196.52,667.00 217.20,659.00 237.88,668.30" fill="none" stroke="#2b4783" stroke-width="2.4" stroke-linejoin="round"/>
<polyline points="113.80,704.60 134.48,694.80 155.16,690.80 175.84,690.80 196.52,673.80 217.20,676.30 237.88,668.30" fill="none" stroke="#981a3a" stroke-width="2.4" stroke-linejoin="round"/>
<rect x="110.66" y="772.25" width="6.29" height="6.29" fill="#fff" stroke="#e2a236" stroke-width="1.6"/>
<rect x="131.33" y="750.65" width="6.29" height="6.29" fill="#fff" stroke="#e2a236" stroke-width="1.6"/>
<rect x="152.01" y="698.36" width="6.29" height="6.29" fill="#fff" stroke="#e2a236" stroke-width="1.6"/>
<rect x="172.69" y="670.65" width="6.29" height="6.29" fill="#fff" stroke="#e2a236" stroke-width="1.6"/>
<rect x="193.37" y="685.86" width="6.29" height="6.29" fill="#fff" stroke="#e2a236" stroke-width="1.6"/>
<rect x="214.05" y="664.56" width="6.29" height="6.29" fill="#fff" stroke="#e2a236" stroke-width="1.6"/>
<path d="M113.80,752.80 L117.50,756.50 L113.80,760.20 L110.10,756.50 Z" fill="#4a2a78" stroke="#4a2a78" stroke-width="1"/>
<path d="M134.48,701.30 L138.18,705.00 L134.48,708.70 L130.78,705.00 Z" fill="#4a2a78" stroke="#4a2a78" stroke-width="1"/>
<path d="M155.16,690.30 L158.86,694.00 L155.16,697.70 L151.46,694.00 Z" fill="#4a2a78" stroke="#4a2a78" stroke-width="1"/>
<path d="M175.84,680.90 L179.54,684.60 L175.84,688.30 L172.14,684.60 Z" fill="#4a2a78" stroke="#4a2a78" stroke-width="1"/>
<path d="M196.52,665.30 L200.22,669.00 L196.52,672.70 L192.82,669.00 Z" fill="#4a2a78" stroke="#4a2a78" stroke-width="1"/>
<path d="M217.20,665.30 L220.90,669.00 L217.20,672.70 L213.50,669.00 Z" fill="#4a2a78" stroke="#4a2a78" stroke-width="1"/>
<path d="M113.80,701.50 L117.87,695.21 L109.73,695.21 Z" fill="#6cb046" stroke="#6cb046" stroke-width="1"/>
<path d="M134.48,686.70 L138.55,680.41 L130.41,680.41 Z" fill="#6cb046" stroke="#6cb046" stroke-width="1"/>
<path d="M155.16,688.30 L159.23,682.01 L151.09,682.01 Z" fill="#6cb046" stroke="#6cb046" stroke-width="1"/>
<path d="M175.84,682.20 L179.91,675.91 L171.77,675.91 Z" fill="#6cb046" stroke="#6cb046" stroke-width="1"/>
<path d="M196.52,685.20 L200.59,678.91 L192.45,678.91 Z" fill="#6cb046" stroke="#6cb046" stroke-width="1"/>
<path d="M217.20,680.00 L221.27,673.71 L213.13,673.71 Z" fill="#6cb046" stroke="#6cb046" stroke-width="1"/>
<path d="M113.80,757.80 L117.50,764.09 L110.10,764.09 Z" fill="#fff" stroke="#2b4783" stroke-width="1.6"/>
<path d="M134.48,700.90 L138.18,707.19 L130.78,707.19 Z" fill="#fff" stroke="#2b4783" stroke-width="1.6"/>
<path d="M155.16,691.70 L158.86,697.99 L151.46,697.99 Z" fill="#fff" stroke="#2b4783" stroke-width="1.6"/>
<path d="M175.84,676.30 L179.54,682.59 L172.14,682.59 Z" fill="#fff" stroke="#2b4783" stroke-width="1.6"/>
<path d="M196.52,663.30 L200.22,669.59 L192.82,669.59 Z" fill="#fff" stroke="#2b4783" stroke-width="1.6"/>
<path d="M217.20,655.30 L220.90,661.59 L213.50,661.59 Z" fill="#fff" stroke="#2b4783" stroke-width="1.6"/>
<circle cx="113.80" cy="704.60" r="2.89" fill="#fff" stroke="#981a3a" stroke-width="1.9"/>
<circle cx="134.48" cy="694.80" r="2.89" fill="#fff" stroke="#981a3a" stroke-width="1.9"/>
<circle cx="155.16" cy="690.80" r="2.89" fill="#fff" stroke="#981a3a" stroke-width="1.9"/>
<circle cx="175.84" cy="690.80" r="2.89" fill="#fff" stroke="#981a3a" stroke-width="1.9"/>
<circle cx="196.52" cy="673.80" r="2.89" fill="#fff" stroke="#981a3a" stroke-width="1.9"/>
<circle cx="217.20" cy="676.30" r="2.89" fill="#fff" stroke="#981a3a" stroke-width="1.9"/>
<line x1="104.20" y1="671.90" x2="138.00" y2="671.90" stroke="#111" stroke-width="1.6" />
<polygon points="115.60,661.30 116.36,662.75 117.98,663.03 116.84,664.20 117.07,665.82 115.60,665.10 114.13,665.82 114.36,664.20 113.22,663.03 114.84,662.75" fill="#111"/>
<polygon points="121.30,661.30 122.06,662.75 123.68,663.03 122.54,664.20 122.77,665.82 121.30,665.10 119.83,665.82 120.06,664.20 118.92,663.03 120.54,662.75" fill="#111"/>
<polygon points="127.00,661.30 127.76,662.75 129.38,663.03 128.24,664.20 128.47,665.82 127.00,665.10 125.53,665.82 125.76,664.20 124.62,663.03 126.24,662.75" fill="#111"/>
<line x1="203.70" y1="697.70" x2="214.70" y2="697.70" stroke="#981a3a" stroke-width="2.4" />
<circle cx="209.20" cy="697.70" r="2.81" fill="#fff" stroke="#981a3a" stroke-width="1.9"/>
<text x="219.50" y="701.70" font-size="11" text-anchor="start" fill="#222" textLength="53.59" lengthAdjust="spacingAndGlyphs" >Wort 10uM</text>
<line x1="203.70" y1="715.00" x2="214.70" y2="715.00" stroke="#2b4783" stroke-width="2.4" />
<path d="M209.20,711.40 L212.80,717.52 L205.60,717.52 Z" fill="#fff" stroke="#2b4783" stroke-width="1.6"/>
<text x="219.50" y="719.00" font-size="11" text-anchor="start" fill="#222" textLength="47.48" lengthAdjust="spacingAndGlyphs" >Wort 2uM</text>
<line x1="203.70" y1="731.50" x2="214.70" y2="731.50" stroke="#6cb046" stroke-width="2.4" />
<path d="M209.20,735.10 L213.16,728.98 L205.24,728.98 Z" fill="#6cb046" stroke="#6cb046" stroke-width="1"/>
<text x="219.50" y="735.50" font-size="11" text-anchor="start" fill="#222" textLength="41.78" lengthAdjust="spacingAndGlyphs" >Ly 10uM</text>
<line x1="203.70" y1="748.30" x2="214.70" y2="748.30" stroke="#4a2a78" stroke-width="2.4" />
<path d="M209.20,744.70 L212.80,748.30 L209.20,751.90 L205.60,748.30 Z" fill="#4a2a78" stroke="#4a2a78" stroke-width="1"/>
<text x="219.50" y="752.30" font-size="11" text-anchor="start" fill="#222" textLength="35.66" lengthAdjust="spacingAndGlyphs" >Ly 2uM</text>
<line x1="203.70" y1="765.00" x2="214.70" y2="765.00" stroke="#e2a236" stroke-width="2.4" />
<rect x="206.14" y="761.94" width="6.12" height="6.12" fill="#fff" stroke="#e2a236" stroke-width="1.6"/>
<text x="219.50" y="769.00" font-size="11" text-anchor="start" fill="#222" textLength="37.30" lengthAdjust="spacingAndGlyphs" >L-Mono</text>
<line x1="356.25" y1="640.00" x2="356.25" y2="778.50" stroke="#111" stroke-width="1.8" />
<line x1="355.25" y1="777.50" x2="502.80" y2="777.50" stroke="#111" stroke-width="1.8" />
<line x1="351.25" y1="642.50" x2="356.25" y2="642.50" stroke="#111" stroke-width="1.6" />
<text x="348.00" y="646.50" font-size="11.2" text-anchor="end" fill="#222" textLength="40.32" lengthAdjust="spacingAndGlyphs" >120000</text>
<line x1="351.25" y1="676.25" x2="356.25" y2="676.25" stroke="#111" stroke-width="1.6" />
<text x="348.00" y="680.25" font-size="11.2" text-anchor="end" fill="#222" textLength="33.60" lengthAdjust="spacingAndGlyphs" >90000</text>
<line x1="351.25" y1="710.00" x2="356.25" y2="710.00" stroke="#111" stroke-width="1.6" />
<text x="348.00" y="714.00" font-size="11.2" text-anchor="end" fill="#222" textLength="33.60" lengthAdjust="spacingAndGlyphs" >60000</text>
<line x1="351.25" y1="743.75" x2="356.25" y2="743.75" stroke="#111" stroke-width="1.6" />
<text x="348.00" y="747.75" font-size="11.2" text-anchor="end" fill="#222" textLength="33.60" lengthAdjust="spacingAndGlyphs" >30000</text>
<line x1="351.25" y1="777.50" x2="356.25" y2="777.50" stroke="#111" stroke-width="1.6" />
<text x="348.00" y="781.50" font-size="11.2" text-anchor="end" fill="#222" textLength="6.72" lengthAdjust="spacingAndGlyphs" >0</text>
<line x1="377.40" y1="777.50" x2="377.40" y2="782.00" stroke="#111" stroke-width="1.6" />
<line x1="397.80" y1="777.50" x2="397.80" y2="782.00" stroke="#111" stroke-width="1.6" />
<line x1="418.20" y1="777.50" x2="418.20" y2="782.00" stroke="#111" stroke-width="1.6" />
<line x1="438.60" y1="777.50" x2="438.60" y2="782.00" stroke="#111" stroke-width="1.6" />
<line x1="459.00" y1="777.50" x2="459.00" y2="782.00" stroke="#111" stroke-width="1.6" />
<line x1="479.40" y1="777.50" x2="479.40" y2="782.00" stroke="#111" stroke-width="1.6" />
<line x1="499.80" y1="777.50" x2="499.80" y2="782.00" stroke="#111" stroke-width="1.6" />
<text x="384.40" y="790.50" font-size="12" text-anchor="end" fill="#1e1e1e" transform="rotate(-45 384.40 790.50)" >100000</text>
<text x="404.80" y="790.50" font-size="12" text-anchor="end" fill="#1e1e1e" transform="rotate(-45 404.80 790.50)" >50000</text>
<text x="425.20" y="790.50" font-size="12" text-anchor="end" fill="#1e1e1e" transform="rotate(-45 425.20 790.50)" >25000</text>
<text x="445.60" y="790.50" font-size="12" text-anchor="end" fill="#1e1e1e" transform="rotate(-45 445.60 790.50)" >12500</text>
<text x="466.00" y="790.50" font-size="12" text-anchor="end" fill="#1e1e1e" transform="rotate(-45 466.00 790.50)" >6000</text>
<text x="486.40" y="790.50" font-size="12" text-anchor="end" fill="#1e1e1e" transform="rotate(-45 486.40 790.50)" >3000</text>
<text x="506.80" y="790.50" font-size="12" text-anchor="end" fill="#1e1e1e" transform="rotate(-45 506.80 790.50)" >0</text>
<text x="430.00" y="830.20" font-size="14" text-anchor="middle" fill="#1a1a1a" textLength="92.40" lengthAdjust="spacingAndGlyphs" stroke="#1a1a1a" stroke-width="0.45">Suppressor cells/well</text>
<text x="297.60" y="709.50" font-size="12" text-anchor="middle" fill="#1a1a1a" textLength="131.00" lengthAdjust="spacingAndGlyphs" transform="rotate(-90 297.60 709.50)" stroke="#1a1a1a" stroke-width="0.4">(<tspan dy="-4" font-size="8">3</tspan><tspan dy="4">H)-thymidine incorporation</tspan></text>
<line x1="377.40" y1="700.50" x2="377.40" y2="716.00" stroke="#111" stroke-width="1.4" />
<line x1="373.90" y1="700.50" x2="380.90" y2="700.50" stroke="#111" stroke-width="1.4" />
<line x1="373.90" y1="716.00" x2="380.90" y2="716.00" stroke="#111" stroke-width="1.4" />
<line x1="397.80" y1="661.00" x2="397.80" y2="697.00" stroke="#111" stroke-width="1.4" />
<line x1="394.30" y1="661.00" x2="401.30" y2="661.00" stroke="#111" stroke-width="1.4" />
<line x1="394.30" y1="697.00" x2="401.30" y2="697.00" stroke="#111" stroke-width="1.4" />
<line x1="397.80" y1="748.00" x2="397.80" y2="763.00" stroke="#111" stroke-width="1.4" />
<line x1="394.30" y1="748.00" x2="401.30" y2="748.00" stroke="#111" stroke-width="1.4" />
<line x1="394.30" y1="763.00" x2="401.30" y2="763.00" stroke="#111" stroke-width="1.4" />
<line x1="418.20" y1="703.00" x2="418.20" y2="717.00" stroke="#111" stroke-width="1.4" />
<line x1="414.70" y1="703.00" x2="421.70" y2="703.00" stroke="#111" stroke-width="1.4" />
<line x1="414.70" y1="717.00" x2="421.70" y2="717.00" stroke="#111" stroke-width="1.4" />
<line x1="479.40" y1="662.00" x2="479.40" y2="684.00" stroke="#111" stroke-width="1.4" />
<line x1="475.90" y1="662.00" x2="482.90" y2="662.00" stroke="#111" stroke-width="1.4" />
<line x1="475.90" y1="684.00" x2="482.90" y2="684.00" stroke="#111" stroke-width="1.4" />
<line x1="499.80" y1="681.50" x2="499.80" y2="693.50" stroke="#111" stroke-width="1.4" />
<line x1="496.30" y1="681.50" x2="503.30" y2="681.50" stroke="#111" stroke-width="1.4" />
<line x1="496.30" y1="693.50" x2="503.30" y2="693.50" stroke="#111" stroke-width="1.4" />
<polyline points="377.40,673.00 397.80,673.70 418.20,680.80 438.60,681.70 459.00,680.80 479.40,672.50 499.80,685.40" fill="none" stroke="#6cb046" stroke-width="2.4" stroke-linejoin="round"/>
<polyline points="377.40,703.80 397.80,677.70 418.20,674.60 438.60,680.80 459.00,682.30 479.40,682.30 499.80,686.00" fill="none" stroke="#2b4783" stroke-width="2.4" stroke-linejoin="round"/>
<polyline points="377.40,710.60 397.80,691.00 418.20,686.30 438.60,691.50 459.00,689.00 479.40,687.00 499.80,686.00" fill="none" stroke="#981a3a" stroke-width="2.4" stroke-linejoin="round"/>
<polyline points="377.40,777.00 397.80,756.80 418.20,710.00 438.60,696.00 459.00,691.00 479.40,690.00 499.80,687.00" fill="none" stroke="#e2a236" stroke-width="2.4" stroke-linejoin="round"/>
<path d="M377.40,676.70 L381.47,670.41 L373.33,670.41 Z" fill="#6cb046" stroke="#6cb046" stroke-width="1"/>
<path d="M397.80,677.40 L401.87,671.11 L393.73,671.11 Z" fill="#6cb046" stroke="#6cb046" stroke-width="1"/>
<path d="M418.20,684.50 L422.27,678.21 L414.13,678.21 Z" fill="#6cb046" stroke="#6cb046" stroke-width="1"/>
<path d="M438.60,685.40 L442.67,679.11 L434.53,679.11 Z" fill="#6cb046" stroke="#6cb046" stroke-width="1"/>
<path d="M459.00,684.50 L463.07,678.21 L454.93,678.21 Z" fill="#6cb046" stroke="#6cb046" stroke-width="1"/>
<path d="M479.40,676.20 L483.47,669.91 L475.33,669.91 Z" fill="#6cb046" stroke="#6cb046" stroke-width="1"/>
<path d="M377.40,700.10 L381.47,706.39 L373.33,706.39 Z" fill="#2b4783" stroke="#2b4783" stroke-width="1"/>
<path d="M397.80,674.00 L401.87,680.29 L393.73,680.29 Z" fill="#2b4783" stroke="#2b4783" stroke-width="1"/>
<path d="M418.20,670.90 L422.27,677.19 L414.13,677.19 Z" fill="#2b4783" stroke="#2b4783" stroke-width="1"/>
<path d="M438.60,677.10 L442.67,683.39 L434.53,683.39 Z" fill="#2b4783" stroke="#2b4783" stroke-width="1"/>
<path d="M459.00,678.60 L463.07,684.89 L454.93,684.89 Z" fill="#2b4783" stroke="#2b4783" stroke-width="1"/>
<path d="M479.40,678.60 L483.47,684.89 L475.33,684.89 Z" fill="#2b4783" stroke="#2b4783" stroke-width="1"/>
<circle cx="377.40" cy="710.60" r="2.89" fill="#fff" stroke="#981a3a" stroke-width="1.9"/>
<circle cx="397.80" cy="691.00" r="2.89" fill="#fff" stroke="#981a3a" stroke-width="1.9"/>
<circle cx="418.20" cy="686.30" r="2.89" fill="#fff" stroke="#981a3a" stroke-width="1.9"/>
<circle cx="438.60" cy="691.50" r="2.89" fill="#fff" stroke="#981a3a" stroke-width="1.9"/>
<circle cx="459.00" cy="689.00" r="2.89" fill="#fff" stroke="#981a3a" stroke-width="1.9"/>
<circle cx="479.40" cy="687.00" r="2.89" fill="#fff" stroke="#981a3a" stroke-width="1.9"/>
<rect x="374.25" y="773.86" width="6.29" height="6.29" fill="#fff" stroke="#e2a236" stroke-width="1.6"/>
<rect x="394.65" y="753.65" width="6.29" height="6.29" fill="#fff" stroke="#e2a236" stroke-width="1.6"/>
<rect x="415.06" y="706.86" width="6.29" height="6.29" fill="#fff" stroke="#e2a236" stroke-width="1.6"/>
<rect x="435.45" y="692.86" width="6.29" height="6.29" fill="#fff" stroke="#e2a236" stroke-width="1.6"/>
<rect x="455.86" y="687.86" width="6.29" height="6.29" fill="#fff" stroke="#e2a236" stroke-width="1.6"/>
<rect x="476.25" y="686.86" width="6.29" height="6.29" fill="#fff" stroke="#e2a236" stroke-width="1.6"/>
<line x1="372.80" y1="656.00" x2="400.00" y2="656.00" stroke="#111" stroke-width="1.6" />
<polygon points="380.60,645.60 381.36,647.05 382.98,647.33 381.84,648.50 382.07,650.12 380.60,649.40 379.13,650.12 379.36,648.50 378.22,647.33 379.84,647.05" fill="#111"/>
<polygon points="386.20,645.60 386.96,647.05 388.58,647.33 387.44,648.50 387.67,650.12 386.20,649.40 384.73,650.12 384.96,648.50 383.82,647.33 385.44,647.05" fill="#111"/>
<polygon points="391.80,645.60 392.56,647.05 394.18,647.33 393.04,648.50 393.27,650.12 391.80,649.40 390.33,650.12 390.56,648.50 389.42,647.33 391.04,647.05" fill="#111"/>
<line x1="433.70" y1="714.60" x2="444.70" y2="714.60" stroke="#e2a236" stroke-width="2.4" />
<rect x="436.14" y="711.54" width="6.12" height="6.12" fill="#fff" stroke="#e2a236" stroke-width="1.6"/>
<text x="450.00" y="718.60" font-size="11" text-anchor="start" fill="#222" textLength="37.30" lengthAdjust="spacingAndGlyphs" >L-Mono</text>
<line x1="433.70" y1="731.50" x2="444.70" y2="731.50" stroke="#981a3a" stroke-width="2.4" />
<circle cx="439.20" cy="731.50" r="2.81" fill="#fff" stroke="#981a3a" stroke-width="1.9"/>
<text x="450.00" y="735.50" font-size="11" text-anchor="start" fill="#222" textLength="50.75" lengthAdjust="spacingAndGlyphs" >Rapa 1nM</text>
<line x1="433.70" y1="748.50" x2="444.70" y2="748.50" stroke="#2b4783" stroke-width="2.4" />
<path d="M439.20,744.90 L443.16,751.02 L435.24,751.02 Z" fill="#2b4783" stroke="#2b4783" stroke-width="1"/>
<text x="450.00" y="752.50" font-size="11" text-anchor="start" fill="#222" textLength="56.87" lengthAdjust="spacingAndGlyphs" >Rapa 25nM</text>
<line x1="433.70" y1="765.40" x2="444.70" y2="765.40" stroke="#6cb046" stroke-width="2.4" />
<path d="M439.20,769.00 L443.16,762.88 L435.24,762.88 Z" fill="#6cb046" stroke="#6cb046" stroke-width="1"/>
<text x="450.00" y="769.40" font-size="11" text-anchor="start" fill="#222" textLength="62.99" lengthAdjust="spacingAndGlyphs" >Rapa 500nM</text>
<line x1="210.00" y1="858.00" x2="210.00" y2="993.00" stroke="#111" stroke-width="1.8" />
<line x1="209.00" y1="992.00" x2="376.70" y2="992.00" stroke="#111" stroke-width="1.8" />
<line x1="205.00" y1="861.25" x2="210.00" y2="861.25" stroke="#111" stroke-width="1.6" />
<text x="201.30" y="865.25" font-size="11.2" text-anchor="end" fill="#222" textLength="40.32" lengthAdjust="spacingAndGlyphs" >125000</text>
<line x1="205.00" y1="887.40" x2="210.00" y2="887.40" stroke="#111" stroke-width="1.6" />
<text x="201.30" y="891.40" font-size="11.2" text-anchor="end" fill="#222" textLength="40.32" lengthAdjust="spacingAndGlyphs" >100000</text>
<line x1="205.00" y1="913.55" x2="210.00" y2="913.55" stroke="#111" stroke-width="1.6" />
<text x="201.30" y="917.55" font-size="11.2" text-anchor="end" fill="#222" textLength="33.60" lengthAdjust="spacingAndGlyphs" >75000</text>
<line x1="205.00" y1="939.70" x2="210.00" y2="939.70" stroke="#111" stroke-width="1.6" />
<text x="201.30" y="943.70" font-size="11.2" text-anchor="end" fill="#222" textLength="33.60" lengthAdjust="spacingAndGlyphs" >50000</text>
<line x1="205.00" y1="965.85" x2="210.00" y2="965.85" stroke="#111" stroke-width="1.6" />
<text x="201.30" y="969.85" font-size="11.2" text-anchor="end" fill="#222" textLength="33.60" lengthAdjust="spacingAndGlyphs" >25000</text>
<line x1="205.00" y1="992.00" x2="210.00" y2="992.00" stroke="#111" stroke-width="1.6" />
<text x="201.30" y="996.00" font-size="11.2" text-anchor="end" fill="#222" textLength="6.72" lengthAdjust="spacingAndGlyphs" >0</text>
<line x1="233.00" y1="992.00" x2="233.00" y2="996.50" stroke="#111" stroke-width="1.6" />
<line x1="256.45" y1="992.00" x2="256.45" y2="996.50" stroke="#111" stroke-width="1.6" />
<line x1="279.90" y1="992.00" x2="279.90" y2="996.50" stroke="#111" stroke-width="1.6" />
<line x1="303.35" y1="992.00" x2="303.35" y2="996.50" stroke="#111" stroke-width="1.6" />
<line x1="326.80" y1="992.00" x2="326.80" y2="996.50" stroke="#111" stroke-width="1.6" />
<line x1="350.25" y1="992.00" x2="350.25" y2="996.50" stroke="#111" stroke-width="1.6" />
<line x1="373.70" y1="992.00" x2="373.70" y2="996.50" stroke="#111" stroke-width="1.6" />
<text x="240.00" y="1005.00" font-size="12" text-anchor="end" fill="#1e1e1e" transform="rotate(-45 240.00 1005.00)" >100000</text>
<text x="263.45" y="1005.00" font-size="12" text-anchor="end" fill="#1e1e1e" transform="rotate(-45 263.45 1005.00)" >50000</text>
<text x="286.90" y="1005.00" font-size="12" text-anchor="end" fill="#1e1e1e" transform="rotate(-45 286.90 1005.00)" >25000</text>
<text x="310.35" y="1005.00" font-size="12" text-anchor="end" fill="#1e1e1e" transform="rotate(-45 310.35 1005.00)" >12500</text>
<text x="333.80" y="1005.00" font-size="12" text-anchor="end" fill="#1e1e1e" transform="rotate(-45 333.80 1005.00)" >6000</text>
<text x="357.25" y="1005.00" font-size="12" text-anchor="end" fill="#1e1e1e" transform="rotate(-45 357.25 1005.00)" >3000</text>
<text x="380.70" y="1005.00" font-size="12" text-anchor="end" fill="#1e1e1e" transform="rotate(-45 380.70 1005.00)" >0</text>
<text x="294.00" y="1045.00" font-size="14" text-anchor="middle" fill="#1a1a1a" textLength="92.40" lengthAdjust="spacingAndGlyphs" stroke="#1a1a1a" stroke-width="0.45">Suppressor cells/well</text>
<text x="150.20" y="926.10" font-size="12" text-anchor="middle" fill="#1a1a1a" textLength="127.20" lengthAdjust="spacingAndGlyphs" transform="rotate(-90 150.20 926.10)" stroke="#1a1a1a" stroke-width="0.4">(<tspan dy="-4" font-size="8">3</tspan><tspan dy="4">H)-thymidine incorporation</tspan></text>
<line x1="233.00" y1="900.00" x2="233.00" y2="918.00" stroke="#111" stroke-width="1.4" />
<line x1="229.50" y1="900.00" x2="236.50" y2="900.00" stroke="#111" stroke-width="1.4" />
<line x1="229.50" y1="918.00" x2="236.50" y2="918.00" stroke="#111" stroke-width="1.4" />
<line x1="256.45" y1="895.00" x2="256.45" y2="906.00" stroke="#111" stroke-width="1.4" />
<line x1="252.95" y1="895.00" x2="259.95" y2="895.00" stroke="#111" stroke-width="1.4" />
<line x1="252.95" y1="906.00" x2="259.95" y2="906.00" stroke="#111" stroke-width="1.4" />
<line x1="256.45" y1="962.00" x2="256.45" y2="975.00" stroke="#111" stroke-width="1.4" />
<line x1="252.95" y1="962.00" x2="259.95" y2="962.00" stroke="#111" stroke-width="1.4" />
<line x1="252.95" y1="975.00" x2="259.95" y2="975.00" stroke="#111" stroke-width="1.4" />
<line x1="279.90" y1="893.00" x2="279.90" y2="935.00" stroke="#111" stroke-width="1.4" />
<line x1="276.40" y1="893.00" x2="283.40" y2="893.00" stroke="#111" stroke-width="1.4" />
<line x1="276.40" y1="935.00" x2="283.40" y2="935.00" stroke="#111" stroke-width="1.4" />
<line x1="303.35" y1="872.00" x2="303.35" y2="897.00" stroke="#111" stroke-width="1.4" />
<line x1="299.85" y1="872.00" x2="306.85" y2="872.00" stroke="#111" stroke-width="1.4" />
<line x1="299.85" y1="897.00" x2="306.85" y2="897.00" stroke="#111" stroke-width="1.4" />
<line x1="326.80" y1="866.00" x2="326.80" y2="934.00" stroke="#111" stroke-width="1.4" />
<line x1="323.30" y1="866.00" x2="330.30" y2="866.00" stroke="#111" stroke-width="1.4" />
<line x1="323.30" y1="934.00" x2="330.30" y2="934.00" stroke="#111" stroke-width="1.4" />
<line x1="350.25" y1="871.00" x2="350.25" y2="884.60" stroke="#111" stroke-width="1.4" />
<line x1="346.75" y1="871.00" x2="353.75" y2="871.00" stroke="#111" stroke-width="1.4" />
<line x1="346.75" y1="884.60" x2="353.75" y2="884.60" stroke="#111" stroke-width="1.4" />
<line x1="373.70" y1="865.00" x2="373.70" y2="893.80" stroke="#111" stroke-width="1.4" />
<line x1="370.20" y1="865.00" x2="377.20" y2="865.00" stroke="#111" stroke-width="1.4" />
<line x1="370.20" y1="893.80" x2="377.20" y2="893.80" stroke="#111" stroke-width="1.4" />
<line x1="256.45" y1="984.00" x2="256.45" y2="994.00" stroke="#111" stroke-width="1.4" />
<line x1="252.95" y1="984.00" x2="259.95" y2="984.00" stroke="#111" stroke-width="1.4" />
<line x1="252.95" y1="994.00" x2="259.95" y2="994.00" stroke="#111" stroke-width="1.4" />
<polyline points="233.00,992.00 256.45,968.40 279.90,912.30 303.35,885.30 326.80,902.00 350.25,879.40 373.70,880.50" fill="none" stroke="#e2a236" stroke-width="2.4" stroke-linejoin="round"/>
<polyline points="233.00,992.00 256.45,955.60 279.90,907.00 303.35,898.50 326.80,884.60 350.25,875.00 373.70,880.50" fill="none" stroke="#6cb046" stroke-width="2.4" stroke-linejoin="round"/>
<polyline points="233.00,908.80 256.45,901.20 279.90,901.20 303.35,894.30 326.80,910.60 350.25,902.00 373.70,880.50" fill="none" stroke="#2b4783" stroke-width="2.4" stroke-linejoin="round"/>
<polyline points="233.00,992.00 256.45,988.50 279.90,935.80 303.35,906.00 326.80,898.50 350.25,890.80 373.70,880.50" fill="none" stroke="#b3123a" stroke-width="2.4" stroke-linejoin="round"/>
<rect x="229.85" y="988.86" width="6.29" height="6.29" fill="#fff" stroke="#e2a236" stroke-width="1.6"/>
<rect x="253.30" y="965.25" width="6.29" height="6.29" fill="#fff" stroke="#e2a236" stroke-width="1.6"/>
<rect x="276.75" y="909.15" width="6.29" height="6.29" fill="#fff" stroke="#e2a236" stroke-width="1.6"/>
<rect x="300.21" y="882.15" width="6.29" height="6.29" fill="#fff" stroke="#e2a236" stroke-width="1.6"/>
<rect x="323.66" y="898.86" width="6.29" height="6.29" fill="#fff" stroke="#e2a236" stroke-width="1.6"/>
<rect x="347.11" y="876.25" width="6.29" height="6.29" fill="#fff" stroke="#e2a236" stroke-width="1.6"/>
<path d="M233.00,995.70 L237.07,989.41 L228.93,989.41 Z" fill="#6cb046" stroke="#6cb046" stroke-width="1"/>
<path d="M256.45,959.30 L260.52,953.01 L252.38,953.01 Z" fill="#6cb046" stroke="#6cb046" stroke-width="1"/>
<path d="M279.90,910.70 L283.97,904.41 L275.83,904.41 Z" fill="#6cb046" stroke="#6cb046" stroke-width="1"/>
<path d="M303.35,902.20 L307.42,895.91 L299.28,895.91 Z" fill="#6cb046" stroke="#6cb046" stroke-width="1"/>
<path d="M326.80,888.30 L330.87,882.01 L322.73,882.01 Z" fill="#6cb046" stroke="#6cb046" stroke-width="1"/>
<path d="M350.25,878.70 L354.32,872.41 L346.18,872.41 Z" fill="#6cb046" stroke="#6cb046" stroke-width="1"/>
<path d="M233.00,905.10 L237.07,911.39 L228.93,911.39 Z" fill="#2b4783" stroke="#2b4783" stroke-width="1"/>
<path d="M256.45,897.50 L260.52,903.79 L252.38,903.79 Z" fill="#2b4783" stroke="#2b4783" stroke-width="1"/>
<path d="M279.90,897.50 L283.97,903.79 L275.83,903.79 Z" fill="#2b4783" stroke="#2b4783" stroke-width="1"/>
<path d="M303.35,890.60 L307.42,896.89 L299.28,896.89 Z" fill="#2b4783" stroke="#2b4783" stroke-width="1"/>
<path d="M326.80,906.90 L330.87,913.19 L322.73,913.19 Z" fill="#2b4783" stroke="#2b4783" stroke-width="1"/>
<path d="M350.25,898.30 L354.32,904.59 L346.18,904.59 Z" fill="#2b4783" stroke="#2b4783" stroke-width="1"/>
<circle cx="233.00" cy="992.00" r="3.52" fill="#b3123a" stroke="#b3123a" stroke-width="1"/>
<circle cx="256.45" cy="988.50" r="3.52" fill="#b3123a" stroke="#b3123a" stroke-width="1"/>
<circle cx="279.90" cy="935.80" r="3.52" fill="#b3123a" stroke="#b3123a" stroke-width="1"/>
<circle cx="303.35" cy="906.00" r="3.52" fill="#b3123a" stroke="#b3123a" stroke-width="1"/>
<circle cx="326.80" cy="898.50" r="3.52" fill="#b3123a" stroke="#b3123a" stroke-width="1"/>
<circle cx="350.25" cy="890.80" r="3.52" fill="#b3123a" stroke="#b3123a" stroke-width="1"/>
<line x1="335.80" y1="931.30" x2="346.80" y2="931.30" stroke="#b3123a" stroke-width="2.4" />
<circle cx="341.30" cy="931.30" r="3.42" fill="#b3123a" stroke="#b3123a" stroke-width="1"/>
<text x="353.00" y="935.30" font-size="11" text-anchor="start" fill="#222" textLength="50.22" lengthAdjust="spacingAndGlyphs" >STAT1 Inh.</text>
<line x1="335.80" y1="947.80" x2="346.80" y2="947.80" stroke="#2b4783" stroke-width="2.4" />
<path d="M341.30,944.20 L345.26,950.32 L337.34,950.32 Z" fill="#2b4783" stroke="#2b4783" stroke-width="1"/>
<text x="353.00" y="951.80" font-size="11" text-anchor="start" fill="#222" textLength="50.22" lengthAdjust="spacingAndGlyphs" >STAT3 Inh.</text>
<line x1="335.80" y1="964.50" x2="346.80" y2="964.50" stroke="#6cb046" stroke-width="2.4" />
<path d="M341.30,968.10 L345.26,961.98 L337.34,961.98 Z" fill="#6cb046" stroke="#6cb046" stroke-width="1"/>
<text x="353.00" y="968.50" font-size="11" text-anchor="start" fill="#222" textLength="50.22" lengthAdjust="spacingAndGlyphs" >STAT5 Inh.</text>
<line x1="335.80" y1="981.30" x2="346.80" y2="981.30" stroke="#e2a236" stroke-width="2.4" />
<rect x="338.24" y="978.24" width="6.12" height="6.12" fill="#fff" stroke="#e2a236" stroke-width="1.6"/>
<text x="353.00" y="985.30" font-size="11" text-anchor="start" fill="#222" textLength="34.69" lengthAdjust="spacingAndGlyphs" >L-Mono</text>
</svg></body></html>
